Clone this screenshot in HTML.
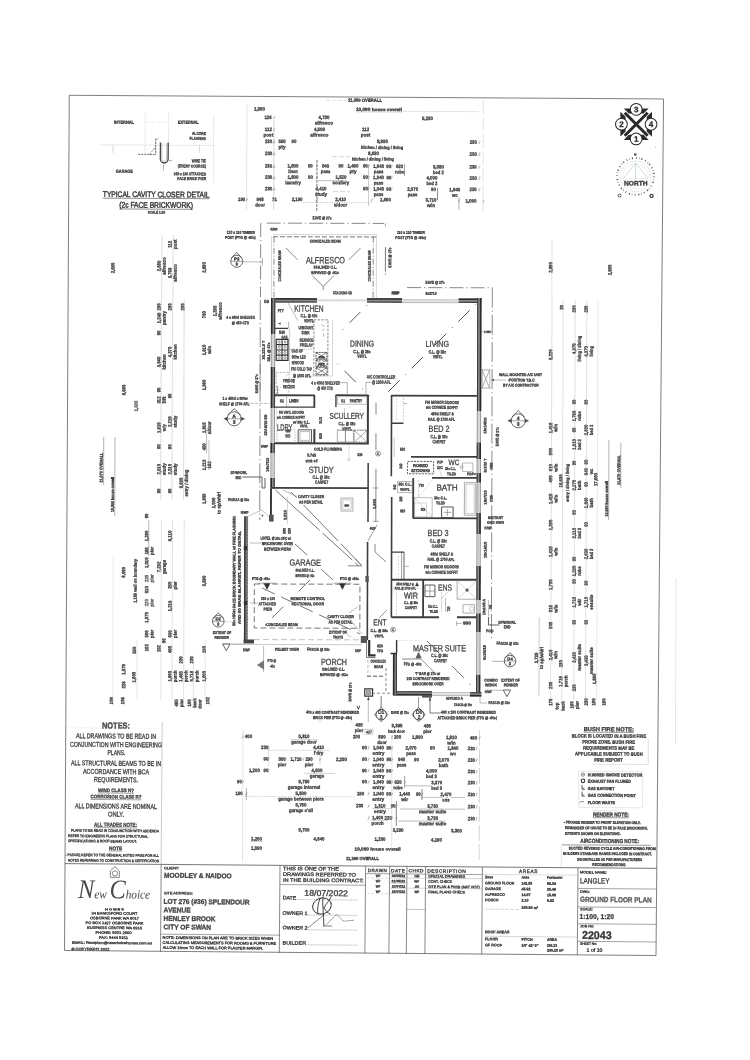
<!DOCTYPE html>
<html><head><meta charset="utf-8"><title>Ground Floor Plan</title>
<style>
html,body{margin:0;padding:0;background:#fff;}
body{width:750px;height:1060px;overflow:hidden;}
svg{display:block;font-family:"Liberation Sans",sans-serif;}
text{stroke:#3c3c3c;stroke-width:0.32px;}
.rm{stroke:#484848;stroke-width:0.32px;}
.lg{stroke:none;}
.hv{stroke:#444;stroke-width:0.5px;}
</style></head><body>
<svg width="750" height="1060" viewBox="0 0 750 1060">
<rect width="750" height="1060" fill="#fff"/>
<defs><filter id="sb" x="0" y="0" width="100%" height="100%" filterUnits="userSpaceOnUse"><feGaussianBlur stdDeviation="0.32"/></filter></defs>
<g filter="url(#sb)"><g transform="rotate(0.43 375.0 530.0)">
<polygon points="66,97.6 660.3,96.8 659.2,953.4 67.7,952.8" fill="none" stroke="#6a6a6a" stroke-width="0.85"/>
</g><g transform="rotate(0.46 375.0 530.0)">
<line x1="163.8" y1="723.7" x2="163.8" y2="865.7" stroke="#999" stroke-width="0.5"/>
<line x1="67.1" y1="730" x2="163.6" y2="730" stroke="#bbb" stroke-width="0.4" stroke-dasharray="1 2"/>
<text x="117.6" y="730.6" font-size="8.6" text-anchor="middle" fill="#4a4a4a" font-weight="bold" textLength="28" lengthAdjust="spacingAndGlyphs">NOTES:</text>
<text x="117.7" y="740.5" font-size="7" text-anchor="middle" fill="#4a4a4a" textLength="80" lengthAdjust="spacingAndGlyphs">ALL DRAWINGS TO BE READ IN</text>
<text x="117.8" y="749.1" font-size="7" text-anchor="middle" fill="#4a4a4a" textLength="92" lengthAdjust="spacingAndGlyphs">CONJUNCTION WITH ENGINEERING</text>
<text x="118.3" y="757.1" font-size="7" text-anchor="middle" fill="#4a4a4a" textLength="18" lengthAdjust="spacingAndGlyphs">PLANS.</text>
<text x="117.9" y="767.7" font-size="7" text-anchor="middle" fill="#4a4a4a" textLength="90" lengthAdjust="spacingAndGlyphs">ALL STRUCTURAL BEAMS TO BE IN</text>
<text x="118" y="776.1" font-size="7" text-anchor="middle" fill="#4a4a4a" textLength="66" lengthAdjust="spacingAndGlyphs">ACCORDANCE WITH BCA</text>
<text x="118" y="784.1" font-size="7" text-anchor="middle" fill="#4a4a4a" textLength="44" lengthAdjust="spacingAndGlyphs">REQUIREMENTS.</text>
<text x="118.1" y="794.1" font-size="5" text-anchor="middle" fill="#4a4a4a" font-weight="bold" textLength="36" lengthAdjust="spacingAndGlyphs">WIND CLASS N?</text>
<line x1="100.1" y1="795.2" x2="136.1" y2="795.2" stroke="#4a4a4a" stroke-width="0.5"/>
<text x="118.2" y="800.5" font-size="5" text-anchor="middle" fill="#4a4a4a" font-weight="bold" textLength="51" lengthAdjust="spacingAndGlyphs">CORROSION CLASS R?</text>
<line x1="92.7" y1="801.7" x2="143.7" y2="801.7" stroke="#4a4a4a" stroke-width="0.5"/>
<text x="118.2" y="810.7" font-size="7" text-anchor="middle" fill="#4a4a4a" textLength="82" lengthAdjust="spacingAndGlyphs">ALL DIMENSIONS ARE NOMINAL</text>
<text x="118.3" y="818.7" font-size="7" text-anchor="middle" fill="#4a4a4a" textLength="16" lengthAdjust="spacingAndGlyphs">ONLY.</text>
<text x="117.9" y="828.7" font-size="5.6" text-anchor="middle" fill="#4a4a4a" font-weight="bold" textLength="43" lengthAdjust="spacingAndGlyphs">ALL TRADES NOTE:</text>
<line x1="96.4" y1="829.9" x2="139.4" y2="829.9" stroke="#4a4a4a" stroke-width="0.5"/>
<text x="73.4" y="834" font-size="3.6" fill="#4a4a4a" textLength="88" lengthAdjust="spacingAndGlyphs">PLANS TO BE READ IN CONJUNCTION WITH ADDENDA</text>
<text x="70.5" y="839.5" font-size="3.6" fill="#4a4a4a" textLength="80" lengthAdjust="spacingAndGlyphs">REFER TO ENGINEERS PLANS FOR STRUCTURAL</text>
<text x="70.5" y="844.5" font-size="3.6" fill="#4a4a4a" textLength="69" lengthAdjust="spacingAndGlyphs">SPECIFICATIONS &amp; ROOF BEAMS LAYOUT.</text>
<text x="118.1" y="852.1" font-size="5" text-anchor="middle" fill="#4a4a4a" font-weight="bold" textLength="13" lengthAdjust="spacingAndGlyphs">NOTE</text>
<line x1="111.6" y1="853.1" x2="124.6" y2="853.1" stroke="#4a4a4a" stroke-width="0.5"/>
<text x="68.1" y="858.5" font-size="3.6" fill="#4a4a4a" textLength="93.5" lengthAdjust="spacingAndGlyphs">- PLEASE REFER TO THE GENERAL NOTES PAGE FOR ALL</text>
<text x="70.7" y="863.9" font-size="3.6" fill="#4a4a4a" textLength="91" lengthAdjust="spacingAndGlyphs">NOTES REFERRING TO CONSTRUCTION &amp; CERTIFICATION</text>
<line x1="67.7" y1="866.1" x2="659.5" y2="866.1" stroke="#555" stroke-width="0.8"/>
<line x1="163.9" y1="866.4" x2="163.9" y2="953.7" stroke="#555" stroke-width="0.7"/>
<line x1="282.7" y1="866.4" x2="282.7" y2="953.7" stroke="#555" stroke-width="0.7"/>
<line x1="368.3" y1="866.3" x2="368.3" y2="953.6" stroke="#555" stroke-width="0.7"/>
<line x1="392.3" y1="866.3" x2="392.3" y2="953.6" stroke="#555" stroke-width="0.7"/>
<line x1="409.7" y1="866.3" x2="409.7" y2="953.6" stroke="#555" stroke-width="0.7"/>
<line x1="428.3" y1="866.3" x2="428.3" y2="953.6" stroke="#555" stroke-width="0.7"/>
<line x1="485.1" y1="866.3" x2="485.1" y2="953.6" stroke="#555" stroke-width="0.7"/>
<line x1="580.7" y1="866.2" x2="580.7" y2="953.5" stroke="#555" stroke-width="0.7"/>
<text x="117.6" y="916.7" font-size="3.6" text-anchor="middle" fill="#4a4a4a" textLength="46" lengthAdjust="spacingAndGlyphs">34 BANKSFORD COURT</text>
<text x="117.6" y="921.5" font-size="3.6" text-anchor="middle" fill="#4a4a4a" textLength="49" lengthAdjust="spacingAndGlyphs">OSBORNE PARK WA 6017</text>
<text x="117.7" y="926.3" font-size="3.6" text-anchor="middle" fill="#4a4a4a" textLength="58" lengthAdjust="spacingAndGlyphs">PO BOX 1427 OSBORNE PARK</text>
<text x="117.7" y="931.1" font-size="3.6" text-anchor="middle" fill="#4a4a4a" textLength="55" lengthAdjust="spacingAndGlyphs">BUSINESS CENTRE WA 6916</text>
<text x="116.8" y="935.9" font-size="3.6" text-anchor="middle" fill="#4a4a4a" textLength="36" lengthAdjust="spacingAndGlyphs">PHONE: 9201 2900</text>
<text x="116.8" y="940.9" font-size="3.6" text-anchor="middle" fill="#4a4a4a" textLength="29" lengthAdjust="spacingAndGlyphs">FAX: 9444 5151</text>
<text x="115.3" y="946.1" font-size="3.6" text-anchor="middle" fill="#4a4a4a" textLength="80" lengthAdjust="spacingAndGlyphs">EMAIL: Reception@newchoicehomes.com.au</text>
<text x="74.9" y="952.6" font-size="3.6" fill="#4a4a4a" textLength="38" lengthAdjust="spacingAndGlyphs">© COPYRIGHT 2022</text>
<text x="117.6" y="912.3" font-size="2.6" text-anchor="middle" fill="#555" font-weight="bold" textLength="19" lengthAdjust="spacingAndGlyphs">H O M E S</text>
<text x="81" y="900.4" font-family="'Liberation Serif',serif" font-style="italic" fill="#484848" class="lg" textLength="72" lengthAdjust="spacingAndGlyphs"><tspan font-size="27">N</tspan><tspan font-size="12.5">ew </tspan><tspan font-size="27">C</tspan><tspan font-size="12.5">hoice</tspan></text>
<polygon points="113.1,873.1 117.6,868.7 122.1,873 122.2,879.4 113.2,879.5" fill="none" stroke="#555" stroke-width="0.7"/>
<circle cx="117.7" cy="875.5" r="2.6" fill="none" stroke="#555" stroke-width="0.7"/>
<text x="166.7" y="870.9" font-size="3.4" fill="#4a4a4a" textLength="15" lengthAdjust="spacingAndGlyphs">CLIENT:</text>
<text x="166.8" y="879.4" font-size="7" fill="#4a4a4a" font-weight="bold" textLength="67.6" lengthAdjust="spacingAndGlyphs">MOODLEY &amp; NAIDOO</text>
<text x="166.9" y="895.9" font-size="3.4" fill="#4a4a4a" textLength="29" lengthAdjust="spacingAndGlyphs">SITE ADDRESS:</text>
<text x="166.6" y="905.5" font-size="7" fill="#4a4a4a" font-weight="bold" textLength="86" lengthAdjust="spacingAndGlyphs">LOT 276 (#36) SPLENDOUR</text>
<text x="166.7" y="914" font-size="7" fill="#4a4a4a" font-weight="bold" textLength="27" lengthAdjust="spacingAndGlyphs">AVENUE</text>
<text x="166.7" y="922.5" font-size="7" fill="#4a4a4a" font-weight="bold" textLength="52" lengthAdjust="spacingAndGlyphs">HENLEY BROOK</text>
<text x="166.8" y="931" font-size="7" fill="#4a4a4a" font-weight="bold" textLength="47.5" lengthAdjust="spacingAndGlyphs">CITY OF SWAN</text>
<line x1="164.5" y1="935.9" x2="283.3" y2="935.9" stroke="#666" stroke-width="0.6"/>
<text x="165.9" y="940.5" font-size="3.7" fill="#4a4a4a" textLength="110.5" lengthAdjust="spacingAndGlyphs">NOTE: DIMENSIONS ON PLAN ARE TO BRICK SIZES WHEN</text>
<text x="165.9" y="945.5" font-size="3.7" fill="#4a4a4a" textLength="113.5" lengthAdjust="spacingAndGlyphs">CALCULATING MEASUREMENTS FOR ROOMS &amp; FURNITURE</text>
<text x="166" y="950.5" font-size="3.7" fill="#4a4a4a" textLength="100.5" lengthAdjust="spacingAndGlyphs">ALLOW 16mm TO EACH WALL FOR PLASTER MARGIN.</text>
<text x="285.7" y="870.9" font-size="5" fill="#4a4a4a" textLength="56" lengthAdjust="spacingAndGlyphs">THIS IS ONE OF THE</text>
<text x="285.8" y="876.6" font-size="5" fill="#4a4a4a" textLength="73" lengthAdjust="spacingAndGlyphs">DRAWINGS REFERRED TO</text>
<text x="285.8" y="882.4" font-size="5" fill="#4a4a4a" textLength="80.6" lengthAdjust="spacingAndGlyphs">IN THE BUILDING CONTRACT:</text>
<line x1="282.8" y1="885.3" x2="368.4" y2="885.3" stroke="#666" stroke-width="0.6"/>
<text x="285.6" y="900.1" font-size="5" fill="#4a4a4a" textLength="13.5" lengthAdjust="spacingAndGlyphs">DATE</text>
<line x1="299.5" y1="900.2" x2="361" y2="900.2" stroke="#777" stroke-width="0.5" stroke-dasharray="1 0.6"/>
<text x="307.3" y="896.4" font-size="8.4" fill="#333" textLength="43.6" lengthAdjust="spacingAndGlyphs">18/07/2022</text>
<text x="285.7" y="915.5" font-size="5" fill="#4a4a4a" textLength="25" lengthAdjust="spacingAndGlyphs">OWNER 1</text>
<line x1="311.1" y1="915.5" x2="361.1" y2="915.5" stroke="#777" stroke-width="0.5" stroke-dasharray="1 0.6"/>
<text x="285.8" y="930.1" font-size="5" fill="#4a4a4a" textLength="25" lengthAdjust="spacingAndGlyphs">OWNER 2</text>
<line x1="311.2" y1="930.3" x2="361.2" y2="930.3" stroke="#777" stroke-width="0.5" stroke-dasharray="1 0.6"/>
<text x="285.9" y="945.3" font-size="5" fill="#4a4a4a" textLength="23.5" lengthAdjust="spacingAndGlyphs">BUILDER</text>
<line x1="309.8" y1="945.3" x2="361.3" y2="945.3" stroke="#777" stroke-width="0.5" stroke-dasharray="1 0.6"/>
<g transform="translate(325 906.4)" fill="none" stroke="#333" stroke-width="0.9" stroke-linecap="round"><ellipse cx="0" cy="0" rx="9.5" ry="8" transform="rotate(-20)"/><path d="M-2,-8 C-4,-2 -5,4 -4,8 M1,-9 C0,-2 2,8 2,20 M2,2 C5,-4 8,-6 9,-9 M2,2 C4,5 6,7 8,8"/><path d="M2,9 L-14,22 M2,20 L10,20" stroke-width="0.6"/><path d="M4,19 L14,9 C17,8 19,14 22,15 L32,14" stroke-width="0.5" stroke-dasharray="2 1.2"/></g>
<line x1="368.4" y1="873.7" x2="485.2" y2="873.7" stroke="#666" stroke-width="0.6"/>
<text x="380.3" y="872" font-size="4.6" text-anchor="middle" fill="#4a4a4a" letter-spacing="0.5" textLength="19.5" lengthAdjust="spacingAndGlyphs">DRAWN</text>
<text x="401" y="872" font-size="4.6" text-anchor="middle" fill="#4a4a4a" letter-spacing="0.5" textLength="14.5" lengthAdjust="spacingAndGlyphs">DATE</text>
<text x="419" y="872" font-size="4.6" text-anchor="middle" fill="#4a4a4a" letter-spacing="0.5" textLength="15.5" lengthAdjust="spacingAndGlyphs">CHKD</text>
<text x="430" y="872.1" font-size="4.6" fill="#4a4a4a" letter-spacing="0.5" textLength="39" lengthAdjust="spacingAndGlyphs">DESCRIPTION</text>
<text x="380.8" y="877" font-size="3.4" text-anchor="middle" fill="#4a4a4a" font-weight="bold" textLength="4.5" lengthAdjust="spacingAndGlyphs">WF</text>
<text x="401.2" y="876.9" font-size="3.4" text-anchor="middle" fill="#4a4a4a" font-weight="bold" textLength="13.5" lengthAdjust="spacingAndGlyphs">04/05/22</text>
<text x="419.6" y="876.9" font-size="3.4" text-anchor="middle" fill="#4a4a4a" font-weight="bold" textLength="4.8" lengthAdjust="spacingAndGlyphs">HM</text>
<text x="431" y="877" font-size="3.6" fill="#4a4a4a" textLength="37" lengthAdjust="spacingAndGlyphs">SPECIAL DRAWINGS</text>
<text x="380.8" y="882.2" font-size="3.4" text-anchor="middle" fill="#4a4a4a" font-weight="bold" textLength="4.5" lengthAdjust="spacingAndGlyphs">WF</text>
<text x="401.2" y="882.1" font-size="3.4" text-anchor="middle" fill="#4a4a4a" font-weight="bold" textLength="13.5" lengthAdjust="spacingAndGlyphs">31/05/22</text>
<text x="419.6" y="882.1" font-size="3.4" text-anchor="middle" fill="#4a4a4a" font-weight="bold" textLength="4.8" lengthAdjust="spacingAndGlyphs">WF</text>
<text x="431" y="882.2" font-size="3.6" fill="#4a4a4a" textLength="24" lengthAdjust="spacingAndGlyphs">CONT. CHECK</text>
<text x="380.9" y="887.5" font-size="3.4" text-anchor="middle" fill="#4a4a4a" font-weight="bold" textLength="4.5" lengthAdjust="spacingAndGlyphs">WF</text>
<text x="401.3" y="887.4" font-size="3.4" text-anchor="middle" fill="#4a4a4a" font-weight="bold" textLength="13.5" lengthAdjust="spacingAndGlyphs">10/07/22</text>
<text x="419.7" y="887.4" font-size="3.4" text-anchor="middle" fill="#4a4a4a" font-weight="bold" textLength="4.8" lengthAdjust="spacingAndGlyphs">JK</text>
<text x="431.1" y="887.5" font-size="3.6" fill="#4a4a4a" textLength="51.5" lengthAdjust="spacingAndGlyphs">SITE PLAN &amp; PRSB (MAT VIS?)</text>
<text x="380.9" y="892.7" font-size="3.4" text-anchor="middle" fill="#4a4a4a" font-weight="bold" textLength="4.5" lengthAdjust="spacingAndGlyphs">WF</text>
<text x="401.3" y="892.6" font-size="3.4" text-anchor="middle" fill="#4a4a4a" font-weight="bold" textLength="13.5" lengthAdjust="spacingAndGlyphs">15/07/22</text>
<text x="419.7" y="892.6" font-size="3.4" text-anchor="middle" fill="#4a4a4a" font-weight="bold" textLength="4.8" lengthAdjust="spacingAndGlyphs">WF</text>
<text x="431.1" y="892.7" font-size="3.6" fill="#4a4a4a" textLength="37" lengthAdjust="spacingAndGlyphs">FINAL PLANS CHECK</text>
<line x1="369.8" y1="878.1" x2="391.8" y2="878.1" stroke="#aaa" stroke-width="0.4" stroke-dasharray="3 1.5"/>
<line x1="369.9" y1="893.7" x2="391.9" y2="893.7" stroke="#aaa" stroke-width="0.4" stroke-dasharray="3 1.5"/>
<line x1="410" y1="909.1" x2="428.6" y2="909.1" stroke="#888" stroke-width="0.5"/>
<line x1="428.8" y1="877.8" x2="484.8" y2="877.8" stroke="#888" stroke-width="0.4"/>
<line x1="428.9" y1="888" x2="484.9" y2="888" stroke="#999" stroke-width="0.4"/>
<line x1="410.8" y1="877.9" x2="427.8" y2="877.9" stroke="#999" stroke-width="0.4"/>
<line x1="410.9" y1="887.9" x2="427.9" y2="887.9" stroke="#999" stroke-width="0.4"/>
<line x1="392.8" y1="877.9" x2="409.8" y2="877.9" stroke="#999" stroke-width="0.4"/>
<line x1="392.8" y1="883.1" x2="409.8" y2="883.1" stroke="#999" stroke-width="0.4"/>
<line x1="392.9" y1="888.1" x2="409.9" y2="888.1" stroke="#999" stroke-width="0.4"/>
<line x1="392.9" y1="893.3" x2="409.9" y2="893.3" stroke="#999" stroke-width="0.4"/>
<text x="531.2" y="871.8" font-size="5" text-anchor="middle" fill="#4a4a4a" letter-spacing="0.6" textLength="19" lengthAdjust="spacingAndGlyphs">AREAS</text>
<line x1="485.2" y1="873.5" x2="580.8" y2="873.5" stroke="#aaa" stroke-width="0.4"/>
<text x="487.8" y="877.3" font-size="3.6" fill="#4a4a4a" font-weight="bold" textLength="8" lengthAdjust="spacingAndGlyphs">Zone</text>
<text x="524.4" y="877.3" font-size="3.6" fill="#4a4a4a" font-weight="bold" textLength="7.5" lengthAdjust="spacingAndGlyphs">Area</text>
<text x="549.8" y="877.3" font-size="3.6" fill="#4a4a4a" font-weight="bold" textLength="15.5" lengthAdjust="spacingAndGlyphs">Perimeter</text>
<text x="487.8" y="883.3" font-size="3.6" fill="#4a4a4a" textLength="29.5" lengthAdjust="spacingAndGlyphs">GROUND FLOOR</text>
<text x="524.4" y="883.3" font-size="3.6" fill="#4a4a4a" font-weight="bold" textLength="10.5" lengthAdjust="spacingAndGlyphs">142.85</text>
<text x="549.8" y="883.3" font-size="3.6" fill="#4a4a4a" font-weight="bold" textLength="9" lengthAdjust="spacingAndGlyphs">58.34</text>
<text x="487.9" y="889" font-size="3.6" fill="#4a4a4a" textLength="16" lengthAdjust="spacingAndGlyphs">GARAGE</text>
<text x="524.5" y="889" font-size="3.6" fill="#4a4a4a" font-weight="bold" textLength="9" lengthAdjust="spacingAndGlyphs">45.92</text>
<text x="549.9" y="889" font-size="3.6" fill="#4a4a4a" font-weight="bold" textLength="9" lengthAdjust="spacingAndGlyphs">26.48</text>
<text x="487.9" y="894.8" font-size="3.6" fill="#4a4a4a" textLength="20" lengthAdjust="spacingAndGlyphs">ALFRESCO</text>
<text x="524.5" y="894.8" font-size="3.6" fill="#4a4a4a" font-weight="bold" textLength="9" lengthAdjust="spacingAndGlyphs">14.97</text>
<text x="549.9" y="894.8" font-size="3.6" fill="#4a4a4a" font-weight="bold" textLength="9" lengthAdjust="spacingAndGlyphs">15.98</text>
<text x="488" y="900.4" font-size="3.6" fill="#4a4a4a" textLength="13.5" lengthAdjust="spacingAndGlyphs">PORCH</text>
<text x="524.6" y="900.4" font-size="3.6" fill="#4a4a4a" font-weight="bold" textLength="7" lengthAdjust="spacingAndGlyphs">2.10</text>
<text x="550" y="900.4" font-size="3.6" fill="#4a4a4a" font-weight="bold" textLength="7" lengthAdjust="spacingAndGlyphs">5.82</text>
<line x1="488" y1="908.3" x2="522" y2="908.3" stroke="#999" stroke-width="0.4" stroke-dasharray="4 1"/>
<text x="524.6" y="907.6" font-size="3.6" fill="#4a4a4a" font-weight="bold" textLength="16.5" lengthAdjust="spacingAndGlyphs">205.84 m²</text>
<text x="488.2" y="932.3" font-size="3.8" fill="#4a4a4a" font-weight="bold" textLength="24.5" lengthAdjust="spacingAndGlyphs">ROOF AREAS</text>
<line x1="488.3" y1="935.4" x2="581.3" y2="935.4" stroke="#999" stroke-width="0.4"/>
<text x="488.3" y="939.4" font-size="3.6" fill="#4a4a4a" font-weight="bold" textLength="13" lengthAdjust="spacingAndGlyphs">FLOOR</text>
<text x="524.9" y="939.4" font-size="3.6" fill="#4a4a4a" font-weight="bold" textLength="11" lengthAdjust="spacingAndGlyphs">PITCH</text>
<text x="550.3" y="939.4" font-size="3.6" fill="#4a4a4a" font-weight="bold" textLength="10" lengthAdjust="spacingAndGlyphs">AREA</text>
<text x="488.3" y="945.4" font-size="3.6" fill="#4a4a4a" textLength="17" lengthAdjust="spacingAndGlyphs">GF ROOF</text>
<text x="524.9" y="945.4" font-size="3.6" fill="#4a4a4a" font-weight="bold" textLength="17" lengthAdjust="spacingAndGlyphs">24° 42&#x27; 0&quot;</text>
<text x="550.3" y="945.4" font-size="3.6" fill="#4a4a4a" font-weight="bold" textLength="10" lengthAdjust="spacingAndGlyphs">236.23</text>
<text x="550.4" y="950" font-size="3.6" fill="#4a4a4a" font-weight="bold" textLength="16.5" lengthAdjust="spacingAndGlyphs">236.23 m²</text>
<line x1="580.9" y1="886.8" x2="659.3" y2="886.8" stroke="#666" stroke-width="0.6"/>
<line x1="581" y1="905.3" x2="659.3" y2="905.3" stroke="#666" stroke-width="0.6"/>
<line x1="581.2" y1="922.1" x2="659.4" y2="922.1" stroke="#666" stroke-width="0.6"/>
<line x1="581.3" y1="939.7" x2="659.4" y2="939.7" stroke="#666" stroke-width="0.6"/>
<text x="582.8" y="871.7" font-size="3.4" fill="#4a4a4a" textLength="27" lengthAdjust="spacingAndGlyphs">MODEL NAME:</text>
<text x="582.8" y="881.7" font-size="7.6" fill="#444" textLength="29.6" lengthAdjust="spacingAndGlyphs">LANGLEY</text>
<text x="582.9" y="891.2" font-size="3.4" fill="#4a4a4a" textLength="10" lengthAdjust="spacingAndGlyphs">DWG:</text>
<text x="583" y="900.2" font-size="7.4" fill="#444" font-weight="bold" textLength="71.6" lengthAdjust="spacingAndGlyphs" opacity="0.85">GROUND FLOOR PLAN</text>
<text x="583" y="908.6" font-size="3.4" fill="#4a4a4a" textLength="13" lengthAdjust="spacingAndGlyphs">SCALE:</text>
<text x="582.7" y="917.2" font-size="7" fill="#444" font-weight="bold" textLength="34.4" lengthAdjust="spacingAndGlyphs">1:100, 1:20</text>
<text x="583.2" y="925.6" font-size="3.4" fill="#4a4a4a" textLength="14" lengthAdjust="spacingAndGlyphs">JOB No:</text>
<text x="585.3" y="937.2" font-size="11.2" fill="#333" font-weight="bold" textLength="29.6" lengthAdjust="spacingAndGlyphs">22043</text>
<text x="583.3" y="943" font-size="3.4" fill="#4a4a4a" textLength="17" lengthAdjust="spacingAndGlyphs">SHEET No:</text>
<text x="590" y="950" font-size="5" fill="#444" textLength="15.8" lengthAdjust="spacingAndGlyphs">1 of 10</text>
</g><g transform="rotate(0.15 375.0 530.0)">
<rect x="270.4" y="298.3" width="46" height="4.4" fill="#8c8c8c"/>
<rect x="270.4" y="298.3" width="46" height="1.6" fill="#2a2a2a"/>
<rect x="270.4" y="301.6" width="46" height="1.1" fill="#3a3a3a"/>
<rect x="366.4" y="298.2" width="35" height="4.4" fill="#8c8c8c"/>
<rect x="366.4" y="298.2" width="35" height="1.6" fill="#2a2a2a"/>
<rect x="366.4" y="301.5" width="35" height="1.1" fill="#3a3a3a"/>
<rect x="458" y="298.2" width="22.8" height="4.4" fill="#8c8c8c"/>
<rect x="458" y="298.2" width="22.8" height="1.6" fill="#2a2a2a"/>
<rect x="458" y="301.5" width="22.8" height="1.1" fill="#3a3a3a"/>
<line x1="316.4" y1="300.8" x2="366.4" y2="300.8" stroke="#999" stroke-width="0.5"/>
<line x1="316.4" y1="299.5" x2="366.4" y2="299.5" stroke="#bbb" stroke-width="0.4"/>
<line x1="401.4" y1="299.7" x2="458" y2="299.7" stroke="#888" stroke-width="0.6"/>
<line x1="401.4" y1="302.5" x2="458" y2="302.5" stroke="#888" stroke-width="0.6"/>
<line x1="401.4" y1="301.1" x2="458" y2="301.1" stroke="#aaa" stroke-width="0.5"/>
<rect x="270.4" y="298.3" width="4.3" height="36" fill="#8c8c8c"/>
<rect x="270.4" y="298.3" width="1.6" height="36" fill="#2a2a2a"/>
<rect x="273.6" y="298.3" width="1.1" height="36" fill="#3a3a3a"/>
<rect x="270.4" y="366.9" width="4.3" height="41.7" fill="#8c8c8c"/>
<rect x="270.4" y="366.9" width="1.6" height="41.7" fill="#2a2a2a"/>
<rect x="273.6" y="366.9" width="1.1" height="41.7" fill="#3a3a3a"/>
<rect x="270.3" y="443" width="4.3" height="10.3" fill="#8c8c8c"/>
<rect x="270.3" y="443" width="1.6" height="10.3" fill="#2a2a2a"/>
<rect x="273.5" y="443" width="1.1" height="10.3" fill="#3a3a3a"/>
<rect x="270.3" y="477.9" width="4.3" height="10.9" fill="#8c8c8c"/>
<rect x="270.3" y="477.9" width="1.6" height="10.9" fill="#2a2a2a"/>
<rect x="273.5" y="477.9" width="1.1" height="10.9" fill="#3a3a3a"/>
<rect x="270.4" y="334.3" width="4.3" height="32.6" fill="#e4e4e4"/>
<line x1="270.9" y1="334.3" x2="270.9" y2="366.9" stroke="#777" stroke-width="0.7"/>
<line x1="274.2" y1="334.3" x2="274.2" y2="366.9" stroke="#777" stroke-width="0.7"/>
<line x1="272.5" y1="334.3" x2="272.5" y2="366.9" stroke="#aaa" stroke-width="0.5"/>
<rect x="270.4" y="408.6" width="4.3" height="34.4" fill="#e4e4e4"/>
<line x1="270.9" y1="408.6" x2="270.9" y2="443" stroke="#777" stroke-width="0.7"/>
<line x1="274.2" y1="408.6" x2="274.2" y2="443" stroke="#777" stroke-width="0.7"/>
<line x1="272.5" y1="408.6" x2="272.5" y2="443" stroke="#aaa" stroke-width="0.5"/>
<rect x="270.3" y="453.3" width="4.3" height="24.6" fill="#e4e4e4"/>
<line x1="270.8" y1="453.3" x2="270.8" y2="477.9" stroke="#777" stroke-width="0.7"/>
<line x1="274.1" y1="453.3" x2="274.1" y2="477.9" stroke="#777" stroke-width="0.7"/>
<line x1="272.5" y1="453.3" x2="272.5" y2="477.9" stroke="#aaa" stroke-width="0.5"/>
<line x1="270.9" y1="488.8" x2="270.9" y2="516.3" stroke="#333" stroke-width="1.9"/>
<rect x="269" y="514.9" width="4.6" height="7" fill="#555"/>
<rect x="244.2" y="516.7" width="3.6" height="126.6" fill="#777"/>
<line x1="244.9" y1="516.7" x2="244.9" y2="643.3" stroke="#333" stroke-width="1.3"/>
<line x1="247.6" y1="516.7" x2="247.6" y2="643.3" stroke="#555" stroke-width="0.7" stroke-dasharray="2 1"/>
<rect x="243.9" y="639.8" width="10.4" height="4" fill="#444"/>
<rect x="476.6" y="297.7" width="4.3" height="113.6" fill="#8c8c8c"/>
<rect x="479.3" y="297.7" width="1.6" height="113.6" fill="#2a2a2a"/>
<rect x="476.6" y="297.7" width="1.1" height="113.6" fill="#3a3a3a"/>
<rect x="476.5" y="441.9" width="4.3" height="17.2" fill="#8c8c8c"/>
<rect x="479.2" y="441.9" width="1.6" height="17.2" fill="#2a2a2a"/>
<rect x="476.5" y="441.9" width="1.1" height="17.2" fill="#3a3a3a"/>
<rect x="476.5" y="472.6" width="4.3" height="9.8" fill="#8c8c8c"/>
<rect x="479.2" y="472.6" width="1.6" height="9.8" fill="#2a2a2a"/>
<rect x="476.5" y="472.6" width="1.1" height="9.8" fill="#3a3a3a"/>
<rect x="476.5" y="512.4" width="4.3" height="21.3" fill="#8c8c8c"/>
<rect x="479.2" y="512.4" width="1.6" height="21.3" fill="#2a2a2a"/>
<rect x="476.5" y="512.4" width="1.1" height="21.3" fill="#3a3a3a"/>
<rect x="476.5" y="565.7" width="4.3" height="34" fill="#8c8c8c"/>
<rect x="479.2" y="565.7" width="1.6" height="34" fill="#2a2a2a"/>
<rect x="476.5" y="565.7" width="1.1" height="34" fill="#3a3a3a"/>
<rect x="476.5" y="613" width="4.3" height="19" fill="#8c8c8c"/>
<rect x="479.2" y="613" width="1.6" height="19" fill="#2a2a2a"/>
<rect x="476.5" y="613" width="1.1" height="19" fill="#3a3a3a"/>
<rect x="476.4" y="674.3" width="4.3" height="20.8" fill="#8c8c8c"/>
<rect x="479.1" y="674.3" width="1.6" height="20.8" fill="#2a2a2a"/>
<rect x="476.4" y="674.3" width="1.1" height="20.8" fill="#3a3a3a"/>
<rect x="476.5" y="411.3" width="4.3" height="30.6" fill="#e4e4e4"/>
<line x1="477" y1="411.3" x2="477" y2="441.9" stroke="#777" stroke-width="0.7"/>
<line x1="480.3" y1="411.3" x2="480.3" y2="441.9" stroke="#777" stroke-width="0.7"/>
<line x1="478.7" y1="411.3" x2="478.7" y2="441.9" stroke="#aaa" stroke-width="0.5"/>
<rect x="476.5" y="459.1" width="4.3" height="13.5" fill="#e4e4e4"/>
<line x1="477" y1="459.1" x2="477" y2="472.6" stroke="#777" stroke-width="0.7"/>
<line x1="480.3" y1="459.1" x2="480.3" y2="472.6" stroke="#777" stroke-width="0.7"/>
<line x1="478.7" y1="459.1" x2="478.7" y2="472.6" stroke="#aaa" stroke-width="0.5"/>
<rect x="476.5" y="482.4" width="4.3" height="30" fill="#e4e4e4"/>
<line x1="477" y1="482.4" x2="477" y2="512.4" stroke="#777" stroke-width="0.7"/>
<line x1="480.3" y1="482.4" x2="480.3" y2="512.4" stroke="#777" stroke-width="0.7"/>
<line x1="478.7" y1="482.4" x2="478.7" y2="512.4" stroke="#aaa" stroke-width="0.5"/>
<rect x="476.5" y="533.7" width="4.3" height="32" fill="#e4e4e4"/>
<line x1="477" y1="533.7" x2="477" y2="565.7" stroke="#777" stroke-width="0.7"/>
<line x1="480.3" y1="533.7" x2="480.3" y2="565.7" stroke="#777" stroke-width="0.7"/>
<line x1="478.7" y1="533.7" x2="478.7" y2="565.7" stroke="#aaa" stroke-width="0.5"/>
<rect x="476.5" y="599.7" width="4.3" height="13.3" fill="#e4e4e4"/>
<line x1="477" y1="599.7" x2="477" y2="613" stroke="#777" stroke-width="0.7"/>
<line x1="480.3" y1="599.7" x2="480.3" y2="613" stroke="#777" stroke-width="0.7"/>
<line x1="478.6" y1="599.7" x2="478.6" y2="613" stroke="#aaa" stroke-width="0.5"/>
<rect x="476.5" y="632" width="4.3" height="42.3" fill="#e4e4e4"/>
<line x1="477" y1="632" x2="477" y2="674.3" stroke="#777" stroke-width="0.7"/>
<line x1="480.3" y1="632" x2="480.3" y2="674.3" stroke="#777" stroke-width="0.7"/>
<line x1="478.6" y1="632" x2="478.6" y2="674.3" stroke="#aaa" stroke-width="0.5"/>
<rect x="393.4" y="691.2" width="39" height="4.2" fill="#8c8c8c"/>
<rect x="393.4" y="693.8" width="39" height="1.6" fill="#2a2a2a"/>
<rect x="393.4" y="691.2" width="39" height="1.1" fill="#3a3a3a"/>
<rect x="470.4" y="692" width="11.4" height="4.2" fill="#8c8c8c"/>
<rect x="470.4" y="694.6" width="11.4" height="1.6" fill="#2a2a2a"/>
<rect x="470.4" y="692" width="11.4" height="1.1" fill="#3a3a3a"/>
<line x1="432.4" y1="692.5" x2="470.4" y2="692.5" stroke="#888" stroke-width="0.6"/>
<line x1="432.4" y1="695.3" x2="470.4" y2="695.3" stroke="#888" stroke-width="0.6"/>
<line x1="432.4" y1="693.9" x2="470.4" y2="693.9" stroke="#aaa" stroke-width="0.5"/>
<rect x="422.4" y="694.9" width="10" height="2.6" fill="#555"/>
<rect x="393.3" y="653" width="4" height="42" fill="#8c8c8c"/>
<rect x="393.3" y="653" width="1.6" height="42" fill="#2a2a2a"/>
<rect x="396.2" y="652.9" width="1.1" height="42" fill="#3a3a3a"/>
<rect x="390.8" y="652.6" width="6.5" height="1.6" fill="#333"/>
<line x1="396.9" y1="639.9" x2="396.9" y2="652.9" stroke="#3a3a3a" stroke-width="1.4"/>
<line x1="367.6" y1="542" x2="367.6" y2="640" stroke="#3c3c3c" stroke-width="1.6"/>
<rect x="361.1" y="636" width="6" height="7" fill="#555"/>
<polyline points="369.5,640 369.5,655.4 375.9,655.4" fill="none" stroke="#333" stroke-width="2.2"/>
<polyline points="366.9,640 366.9,657.6 375.9,657.6" fill="none" stroke="#555" stroke-width="0.8"/>
<rect x="365.2" y="688.8" width="7.8" height="7.4" fill="#fff" stroke="#333" stroke-width="1.2"/>
<rect x="367" y="690.6" width="4.2" height="3.8" fill="#aaa" stroke="#555" stroke-width="0.5"/>
<line x1="274.1" y1="328.6" x2="287.5" y2="328.6" stroke="#3c3c3c" stroke-width="1.4"/>
<line x1="274.2" y1="395.5" x2="314.2" y2="395.5" stroke="#3c3c3c" stroke-width="1.8"/>
<line x1="314" y1="395.2" x2="314" y2="407.6" stroke="#3c3c3c" stroke-width="1.8"/>
<line x1="314.1" y1="429.2" x2="314.1" y2="443.2" stroke="#3c3c3c" stroke-width="2.0"/>
<line x1="274.3" y1="407.3" x2="314.9" y2="407.3" stroke="#3c3c3c" stroke-width="1.3"/>
<line x1="335.2" y1="395.3" x2="368.2" y2="395.3" stroke="#3c3c3c" stroke-width="1.8"/>
<line x1="335.6" y1="395.1" x2="335.6" y2="407.1" stroke="#3c3c3c" stroke-width="1.4"/>
<line x1="367.6" y1="395" x2="367.6" y2="443.6" stroke="#3c3c3c" stroke-width="2.0"/>
<line x1="274.4" y1="443.5" x2="368.6" y2="443.5" stroke="#3c3c3c" stroke-width="2.0"/>
<line x1="270.9" y1="488.1" x2="368.3" y2="488.1" stroke="#3c3c3c" stroke-width="1.8"/>
<line x1="368" y1="463" x2="368" y2="522" stroke="#3c3c3c" stroke-width="1.5"/>
<line x1="391" y1="395.6" x2="476.6" y2="395.6" stroke="#3c3c3c" stroke-width="1.8"/>
<line x1="391.2" y1="395" x2="391.2" y2="476.3" stroke="#3c3c3c" stroke-width="1.6"/>
<line x1="391.1" y1="423.2" x2="403.1" y2="423.2" stroke="#3c3c3c" stroke-width="1.4"/>
<line x1="410.8" y1="456.7" x2="476.8" y2="456.7" stroke="#3c3c3c" stroke-width="1.8"/>
<line x1="431.9" y1="477.7" x2="476.9" y2="477.7" stroke="#3c3c3c" stroke-width="1.8"/>
<line x1="413.1" y1="477.9" x2="413.1" y2="518.5" stroke="#3c3c3c" stroke-width="1.8"/>
<line x1="413" y1="518.1" x2="477" y2="518.1" stroke="#3c3c3c" stroke-width="1.8"/>
<line x1="391.6" y1="497" x2="391.6" y2="617.4" stroke="#3c3c3c" stroke-width="1.6"/>
<line x1="391.7" y1="552" x2="404.1" y2="552" stroke="#3c3c3c" stroke-width="1.3"/>
<line x1="404.1" y1="551.9" x2="404.1" y2="578.9" stroke="#3c3c3c" stroke-width="0.8"/>
<line x1="401.7" y1="551.9" x2="401.7" y2="578.9" stroke="#3c3c3c" stroke-width="0.5"/>
<line x1="391.7" y1="579.6" x2="477.1" y2="579.6" stroke="#3c3c3c" stroke-width="2.0"/>
<line x1="423.3" y1="579.5" x2="423.3" y2="617.3" stroke="#3c3c3c" stroke-width="1.8"/>
<line x1="391.8" y1="617.2" x2="439.2" y2="617.2" stroke="#3c3c3c" stroke-width="2.0"/>
<line x1="457.2" y1="617" x2="477.2" y2="617" stroke="#3c3c3c" stroke-width="2.0"/>
<text x="293.8" y="311.8" font-size="9" fill="#484848" class="rm" textLength="29.2" lengthAdjust="spacingAndGlyphs">KITCHEN</text>
<text x="299.9" y="317.4" font-size="4.636" fill="#444" font-weight="bold" textLength="17" lengthAdjust="spacingAndGlyphs">C.L. @ 40c</text>
<text x="303.5" y="322.4" font-size="4.636" fill="#444" font-weight="bold" textLength="10" lengthAdjust="spacingAndGlyphs">VINYL</text>
<text x="298" y="329.4" font-size="4.636" fill="#444" font-weight="bold" textLength="15" lengthAdjust="spacingAndGlyphs">U/MOUNT</text>
<text x="301.1" y="334.4" font-size="4.636" fill="#444" font-weight="bold" textLength="8" lengthAdjust="spacingAndGlyphs">SINK</text>
<text x="298.9" y="342" font-size="4.636" fill="#444" font-weight="bold" textLength="14" lengthAdjust="spacingAndGlyphs">SERVICE</text>
<text x="299.4" y="346.8" font-size="4.636" fill="#444" font-weight="bold" textLength="13" lengthAdjust="spacingAndGlyphs">PRELAY</text>
<text x="291.1" y="352.8" font-size="4.636" fill="#444" font-weight="bold" textLength="11.4" lengthAdjust="spacingAndGlyphs">GAS HP</text>
<text x="291.2" y="358.8" font-size="4.636" fill="#444" font-weight="bold" textLength="14.4" lengthAdjust="spacingAndGlyphs">900w LED</text>
<text x="291.2" y="364.4" font-size="4.636" fill="#444" font-weight="bold" textLength="12.4" lengthAdjust="spacingAndGlyphs">R/HOOD</text>
<text x="290.6" y="370.8" font-size="4.636" fill="#444" font-weight="bold" textLength="21" lengthAdjust="spacingAndGlyphs">FR/ COLD TAP</text>
<text x="292.6" y="377.4" font-size="4.636" fill="#444" font-weight="bold" textLength="18" lengthAdjust="spacingAndGlyphs">@ 1650 AFL</text>
<text x="282.6" y="382.4" font-size="4.636" fill="#444" font-weight="bold" textLength="12" lengthAdjust="spacingAndGlyphs">FRIDGE</text>
<text x="282.6" y="388.4" font-size="4.636" fill="#444" font-weight="bold" textLength="12" lengthAdjust="spacingAndGlyphs">RECESS</text>
<text x="277.2" y="312.5" font-size="4.392" fill="#444" font-weight="bold" textLength="6" lengthAdjust="spacingAndGlyphs">PTY</text>
<text x="278.5" y="334.1" font-size="4.392" fill="#444" font-weight="bold" textLength="6" lengthAdjust="spacingAndGlyphs">540</text>
<text x="281.1" y="338.8" font-size="3.904" fill="#444" font-weight="bold" textLength="6" lengthAdjust="spacingAndGlyphs">GAS</text>
<text x="288.7" y="402.4" font-size="4.392" fill="#444" font-weight="bold" textLength="9.4" lengthAdjust="spacingAndGlyphs">LINEN</text>
<text x="279.3" y="402.5" font-size="4.148" fill="#444" font-weight="bold" textLength="4.4" lengthAdjust="spacingAndGlyphs">S1</text>
<text x="349.3" y="402.3" font-size="4.392" fill="#444" font-weight="bold" textLength="12.4" lengthAdjust="spacingAndGlyphs">PANTRY</text>
<text x="340.7" y="402.3" font-size="4.148" fill="#444" font-weight="bold" textLength="4" lengthAdjust="spacingAndGlyphs">S1</text>
<text x="349.5" y="346.5" font-size="8.4" fill="#484848" class="rm" textLength="24" lengthAdjust="spacingAndGlyphs">DINING</text>
<text x="352.8" y="353.2" font-size="4.636" fill="#444" font-weight="bold" textLength="17.4" lengthAdjust="spacingAndGlyphs">C.L. @ 38c</text>
<text x="356.8" y="357.8" font-size="4.636" fill="#444" font-weight="bold" textLength="9.4" lengthAdjust="spacingAndGlyphs">VINYL</text>
<text x="425.1" y="346.5" font-size="8.4" fill="#484848" class="rm" textLength="23.4" lengthAdjust="spacingAndGlyphs">LIVING</text>
<text x="428.3" y="353.3" font-size="4.636" fill="#444" font-weight="bold" textLength="17.4" lengthAdjust="spacingAndGlyphs">C.L. @ 38c</text>
<text x="432.5" y="358" font-size="4.636" fill="#444" font-weight="bold" textLength="9.4" lengthAdjust="spacingAndGlyphs">VINYL</text>
<text x="366.3" y="378.4" font-size="4.636" fill="#444" font-weight="bold" textLength="28.6" lengthAdjust="spacingAndGlyphs">A/C CONTROLLER</text>
<text x="371.6" y="383.8" font-size="4.636" fill="#444" font-weight="bold" textLength="18.7" lengthAdjust="spacingAndGlyphs">@ 1500 AFL</text>
<polyline points="371,382.4 365.6,382.4 365.6,394.5" fill="none" stroke="#666" stroke-width="0.5"/>
<text x="310.9" y="384.6" font-size="4.636" fill="#444" font-weight="bold" textLength="28.7" lengthAdjust="spacingAndGlyphs">4 x 450d SHELVES</text>
<text x="316.9" y="390" font-size="4.636" fill="#444" font-weight="bold" textLength="15.4" lengthAdjust="spacingAndGlyphs">@ 450 CTS</text>
<polyline points="340.1,382.7 346.9,382.7 346.9,395.1" fill="none" stroke="#666" stroke-width="0.5"/>
<text x="332.4" y="294.3" font-size="4.148" fill="#444" font-weight="bold" textLength="19" lengthAdjust="spacingAndGlyphs">STACKING SD</text>
<text x="390.9" y="294.3" font-size="3.904" fill="#444" font-weight="bold" textLength="7" lengthAdjust="spacingAndGlyphs">R/WP</text>
<text x="424.9" y="294.7" font-size="3.904" fill="#444" font-weight="bold" textLength="11" lengthAdjust="spacingAndGlyphs">6x2710</text>
<line x1="366.7" y1="305" x2="340.5" y2="331.6" stroke="#444" stroke-width="0.9" stroke-dasharray="1 9 15 9 1 40"/>
<line x1="336.9" y1="363.8" x2="370.7" y2="397.4" stroke="#444" stroke-width="0.9" stroke-dasharray="1 9 16 9 1 9 1 40"/>
<line x1="475.4" y1="303.7" x2="382.7" y2="397" stroke="#444" stroke-width="0.9" stroke-dasharray="1 8 16 8"/>
<text x="305.3" y="263.4" font-size="9" fill="#484848" class="rm" textLength="39" lengthAdjust="spacingAndGlyphs">ALFRESCO</text>
<text x="312.9" y="268.7" font-size="4.148" fill="#444" font-weight="bold" textLength="23.4" lengthAdjust="spacingAndGlyphs">33sLINED C.L.</text>
<text x="310.7" y="274.1" font-size="4.148" fill="#444" font-weight="bold" textLength="27.6" lengthAdjust="spacingAndGlyphs">B/PAVED @ -91c</text>
<text x="329.3" y="418.9" font-size="8.4" fill="#484848" class="rm" textLength="34.4" lengthAdjust="spacingAndGlyphs">SCULLERY</text>
<text x="338.2" y="425.3" font-size="4.636" fill="#444" font-weight="bold" textLength="17" lengthAdjust="spacingAndGlyphs">C.L. @ 38c</text>
<text x="342" y="430.3" font-size="4.636" fill="#444" font-weight="bold" textLength="9.5" lengthAdjust="spacingAndGlyphs">VINYL</text>
<text x="276.7" y="430.7" font-size="9" fill="#484848" class="rm" textLength="15.4" lengthAdjust="spacingAndGlyphs">LDRY</text>
<text x="278.7" y="413.9" font-size="4.026" fill="#444" font-weight="bold" textLength="25" lengthAdjust="spacingAndGlyphs">F/H VINYL S/DOORS</text>
<text x="276.7" y="418.9" font-size="4.026" fill="#444" font-weight="bold" textLength="28" lengthAdjust="spacingAndGlyphs">w/c CORNICE SOFFIT</text>
<text x="292.7" y="423.6" font-size="4.026" fill="#444" font-weight="bold" textLength="17" lengthAdjust="spacingAndGlyphs">w/ 38c C.L.</text>
<text x="299.7" y="427.4" font-size="3.66" fill="#444" font-weight="bold" textLength="8" lengthAdjust="spacingAndGlyphs">VINYL</text>
<text x="285.2" y="432.6" font-size="3.904" fill="#444" font-weight="bold" textLength="5" lengthAdjust="spacingAndGlyphs">WM</text>
<text x="285.3" y="437.6" font-size="3.904" fill="#444" font-weight="bold" textLength="5" lengthAdjust="spacingAndGlyphs">REC</text>
<text x="313.8" y="450.6" font-size="4.026" fill="#444" font-weight="bold" textLength="28" lengthAdjust="spacingAndGlyphs">COLD PLUMBING</text>
<text x="306.9" y="456.8" font-size="4.392" fill="#444" font-weight="bold" textLength="9" lengthAdjust="spacingAndGlyphs">3.740</text>
<text x="305.4" y="462.4" font-size="4.148" fill="#444" font-weight="bold" textLength="12" lengthAdjust="spacingAndGlyphs">sink o/l</text>
<text x="308.5" y="473.2" font-size="9" fill="#484848" class="rm" textLength="25" lengthAdjust="spacingAndGlyphs">STUDY</text>
<text x="312.4" y="478.8" font-size="4.636" fill="#444" font-weight="bold" textLength="17" lengthAdjust="spacingAndGlyphs">C.L. @ 38c</text>
<text x="315" y="484" font-size="4.636" fill="#444" font-weight="bold" textLength="13" lengthAdjust="spacingAndGlyphs">CARPET</text>
<text x="357.3" y="456" font-size="3.904" fill="#444" font-weight="bold" textLength="5" lengthAdjust="spacingAndGlyphs">820</text>
<text x="424.7" y="403.7" font-size="4.27" fill="#444" font-weight="bold" textLength="34" lengthAdjust="spacingAndGlyphs">F/H MIRROR S/DOORS</text>
<text x="425.7" y="408.7" font-size="4.27" fill="#444" font-weight="bold" textLength="32" lengthAdjust="spacingAndGlyphs">w/c CORNICE SOFFIT</text>
<text x="430.7" y="415.1" font-size="4.27" fill="#444" font-weight="bold" textLength="23" lengthAdjust="spacingAndGlyphs">450d SHELF &amp;</text>
<text x="427.7" y="420.5" font-size="4.27" fill="#444" font-weight="bold" textLength="27" lengthAdjust="spacingAndGlyphs">RAIL @ 1700 AFL</text>
<text x="428.3" y="431.7" font-size="8.8" fill="#484848" class="rm" textLength="21" lengthAdjust="spacingAndGlyphs">BED 2</text>
<text x="430.3" y="438.1" font-size="4.636" fill="#444" font-weight="bold" textLength="17" lengthAdjust="spacingAndGlyphs">C.L. @ 38c</text>
<text x="432.3" y="443.2" font-size="4.636" fill="#444" font-weight="bold" textLength="13" lengthAdjust="spacingAndGlyphs">CARPET</text>
<text x="399.9" y="450.5" font-size="3.904" fill="#444" font-weight="bold" textLength="5" lengthAdjust="spacingAndGlyphs">820</text>
<text x="402.2" y="465.9" font-size="3.904" text-anchor="middle" fill="#444" font-weight="bold" transform="rotate(-90 402.2 465.9)" textLength="5" lengthAdjust="spacingAndGlyphs">540</text>
<rect x="407.4" y="461.3" width="26" height="12.4" fill="none" stroke="#444" stroke-width="0.9" stroke-dasharray="2 1.2"/>
<text x="412.9" y="466.9" font-size="4.026" fill="#444" font-weight="bold" textLength="15" lengthAdjust="spacingAndGlyphs">ROBED</text>
<text x="410.9" y="471.9" font-size="4.026" fill="#444" font-weight="bold" textLength="19" lengthAdjust="spacingAndGlyphs">SETDOWNS</text>
<text x="448.4" y="464.8" font-size="7.6" fill="#484848" class="rm" textLength="10.8" lengthAdjust="spacingAndGlyphs">WC</text>
<text x="436.8" y="463.4" font-size="3.904" fill="#444" font-weight="bold" textLength="6" lengthAdjust="spacingAndGlyphs">P.P</text>
<text x="436.8" y="468.8" font-size="3.904" fill="#444" font-weight="bold" textLength="6" lengthAdjust="spacingAndGlyphs">S/C</text>
<text x="444.8" y="469.8" font-size="3.904" fill="#444" font-weight="bold" textLength="11" lengthAdjust="spacingAndGlyphs">33c C.L.</text>
<text x="446.9" y="475" font-size="3.904" fill="#444" font-weight="bold" textLength="9" lengthAdjust="spacingAndGlyphs">TILED</text>
<text x="466.9" y="475" font-size="3.66" fill="#444" font-weight="bold" textLength="9" lengthAdjust="spacingAndGlyphs">PDP+</text>
<text x="436.3" y="490.4" font-size="8.6" fill="#484848" class="rm" textLength="21.2" lengthAdjust="spacingAndGlyphs">BATH</text>
<text x="433.9" y="499" font-size="3.904" fill="#444" font-weight="bold" textLength="13" lengthAdjust="spacingAndGlyphs">33c C.L.</text>
<text x="435.9" y="504" font-size="3.904" fill="#444" font-weight="bold" textLength="9" lengthAdjust="spacingAndGlyphs">TILED</text>
<text x="418.9" y="486.3" font-size="3.66" fill="#444" font-weight="bold" textLength="5" lengthAdjust="spacingAndGlyphs">720</text>
<text x="398.3" y="485.5" font-size="3.904" fill="#444" font-weight="bold" textLength="13.2" lengthAdjust="spacingAndGlyphs">33c C.L.</text>
<text x="399.9" y="490.7" font-size="3.904" fill="#444" font-weight="bold" textLength="10" lengthAdjust="spacingAndGlyphs">VINYL</text>
<rect x="397.5" y="481.5" width="14.6" height="11" fill="none" stroke="#666" stroke-width="0.5"/>
<text x="395.9" y="486.9" font-size="3.904" text-anchor="middle" fill="#444" font-weight="bold" transform="rotate(-90 395.9 486.9)" textLength="5" lengthAdjust="spacingAndGlyphs">540</text>
<text x="402.3" y="498.9" font-size="3.904" text-anchor="middle" fill="#444" font-weight="bold" transform="rotate(-90 402.3 498.9)" textLength="5" lengthAdjust="spacingAndGlyphs">390</text>
<text x="400.1" y="512.3" font-size="3.904" fill="#444" font-weight="bold" textLength="5" lengthAdjust="spacingAndGlyphs">820</text>
<text x="427.6" y="535.9" font-size="8.8" fill="#484848" class="rm" textLength="21" lengthAdjust="spacingAndGlyphs">BED 3</text>
<text x="429.9" y="542.3" font-size="4.636" fill="#444" font-weight="bold" textLength="17" lengthAdjust="spacingAndGlyphs">C.L. @ 38c</text>
<text x="431.9" y="547.5" font-size="4.636" fill="#444" font-weight="bold" textLength="13" lengthAdjust="spacingAndGlyphs">CARPET</text>
<text x="430.7" y="555.3" font-size="4.27" fill="#444" font-weight="bold" textLength="22.4" lengthAdjust="spacingAndGlyphs">450d SHELF &amp;</text>
<text x="427.7" y="560.7" font-size="4.27" fill="#444" font-weight="bold" textLength="27" lengthAdjust="spacingAndGlyphs">RAIL @ 1700 AFL</text>
<text x="424.1" y="568.1" font-size="4.27" fill="#444" font-weight="bold" textLength="35" lengthAdjust="spacingAndGlyphs">F/H MIRROR S/DOORS</text>
<text x="425.7" y="573.5" font-size="4.27" fill="#444" font-weight="bold" textLength="32.4" lengthAdjust="spacingAndGlyphs">w/c CORNICE SOFFIT</text>
<text x="404.2" y="598.5" font-size="8.6" fill="#484848" class="rm" textLength="14" lengthAdjust="spacingAndGlyphs">WIR</text>
<text x="404.2" y="603.9" font-size="3.904" fill="#444" font-weight="bold" textLength="14" lengthAdjust="spacingAndGlyphs">C.L. @ 38c</text>
<text x="405.2" y="608.9" font-size="3.904" fill="#444" font-weight="bold" textLength="12" lengthAdjust="spacingAndGlyphs">CARPET</text>
<text x="396.5" y="585.3" font-size="3.66" fill="#444" font-weight="bold" textLength="17.6" lengthAdjust="spacingAndGlyphs">450d SHELF &amp;</text>
<text x="394.8" y="589.5" font-size="3.66" fill="#444" font-weight="bold" textLength="21.4" lengthAdjust="spacingAndGlyphs">RAIL @ 1700 AFL</text>
<text x="438.2" y="590.4" font-size="8.6" fill="#484848" class="rm" textLength="14" lengthAdjust="spacingAndGlyphs">ENS</text>
<text x="428.2" y="607.5" font-size="3.904" fill="#444" font-weight="bold" textLength="10" lengthAdjust="spacingAndGlyphs">33c C.L.</text>
<text x="429.8" y="612.5" font-size="3.904" fill="#444" font-weight="bold" textLength="8.4" lengthAdjust="spacingAndGlyphs">TILED</text>
<text x="450.2" y="608.8" font-size="3.904" text-anchor="middle" fill="#444" font-weight="bold" transform="rotate(-90 450.2 608.8)" textLength="5" lengthAdjust="spacingAndGlyphs">720</text>
<text x="463.2" y="624.2" font-size="4.392" fill="#444" font-weight="bold" textLength="8" lengthAdjust="spacingAndGlyphs">990</text>
<text x="373.6" y="625.2" font-size="8.6" fill="#484848" class="rm" textLength="13.2" lengthAdjust="spacingAndGlyphs">ENT</text>
<text x="370.9" y="632" font-size="3.904" fill="#444" font-weight="bold" textLength="17.4" lengthAdjust="spacingAndGlyphs">C.L. @ 38c</text>
<text x="374.9" y="637.2" font-size="3.904" fill="#444" font-weight="bold" textLength="9.4" lengthAdjust="spacingAndGlyphs">VINYL</text>
<text x="377.5" y="647.2" font-size="3.904" fill="#444" font-weight="bold" textLength="5.6" lengthAdjust="spacingAndGlyphs">820</text>
<text x="377.3" y="652.2" font-size="3.904" fill="#444" font-weight="bold" textLength="6" lengthAdjust="spacingAndGlyphs">TFO</text>
<text x="413.3" y="651.1" font-size="8.8" fill="#484848" class="rm" textLength="53" lengthAdjust="spacingAndGlyphs">MASTER SUITE</text>
<text x="431.4" y="656.9" font-size="4.636" fill="#444" font-weight="bold" textLength="17" lengthAdjust="spacingAndGlyphs">C.L. @ 38c</text>
<text x="434.4" y="662.2" font-size="4.636" fill="#444" font-weight="bold" textLength="13" lengthAdjust="spacingAndGlyphs">CARPET</text>
<text x="404" y="665.3" font-size="4.026" fill="#444" font-weight="bold" textLength="18" lengthAdjust="spacingAndGlyphs">FTG @ -60c</text>
<text x="415.4" y="674.9" font-size="4.026" fill="#444" font-weight="bold" textLength="25" lengthAdjust="spacingAndGlyphs">&#x27;T&#x27; BAR @ 27c w/</text>
<text x="407" y="679.9" font-size="4.026" fill="#444" font-weight="bold" textLength="43" lengthAdjust="spacingAndGlyphs">150 CONTRAST RENDERED</text>
<text x="413" y="685.1" font-size="4.026" fill="#444" font-weight="bold" textLength="31" lengthAdjust="spacingAndGlyphs">BRICKWORK OVER</text>
<text x="289.7" y="565.8" font-size="8.8" fill="#484848" class="rm" textLength="31.4" lengthAdjust="spacingAndGlyphs">GARAGE</text>
<text x="295.6" y="571.8" font-size="4.026" fill="#444" font-weight="bold" textLength="19" lengthAdjust="spacingAndGlyphs">33sLINED C.L.</text>
<text x="295.6" y="577.2" font-size="4.026" fill="#444" font-weight="bold" textLength="19" lengthAdjust="spacingAndGlyphs">B/PAVED @ -91c</text>
<text x="260.6" y="539.9" font-size="4.026" fill="#444" font-weight="bold" textLength="30.4" lengthAdjust="spacingAndGlyphs">LINTEL @ 28c AFC w/</text>
<text x="262" y="545.3" font-size="4.026" fill="#444" font-weight="bold" textLength="31" lengthAdjust="spacingAndGlyphs">BRICKWORK OVER</text>
<text x="264.1" y="550.7" font-size="4.026" fill="#444" font-weight="bold" textLength="27" lengthAdjust="spacingAndGlyphs">BETWEEN PIERS</text>
<text x="252.1" y="580.3" font-size="3.904" fill="#444" font-weight="bold" textLength="18" lengthAdjust="spacingAndGlyphs">FTG @ -60c</text>
<text x="340.1" y="580.1" font-size="3.904" fill="#444" font-weight="bold" textLength="19" lengthAdjust="spacingAndGlyphs">FTG @ -60c</text>
<text x="261.2" y="600.3" font-size="4.026" fill="#444" font-weight="bold" textLength="14" lengthAdjust="spacingAndGlyphs">350 x 100</text>
<text x="258.8" y="605.5" font-size="4.026" fill="#444" font-weight="bold" textLength="17.4" lengthAdjust="spacingAndGlyphs">ATTACHED</text>
<text x="263.8" y="610.7" font-size="4.026" fill="#444" font-weight="bold" textLength="8.4" lengthAdjust="spacingAndGlyphs">PIER</text>
<text x="290.8" y="600.2" font-size="4.026" fill="#444" font-weight="bold" textLength="34.4" lengthAdjust="spacingAndGlyphs">REMOTE CONTROL</text>
<text x="291.8" y="605.4" font-size="4.026" fill="#444" font-weight="bold" textLength="32.4" lengthAdjust="spacingAndGlyphs">SECTIONAL DOOR</text>
<text x="265.3" y="626.3" font-size="4.026" fill="#444" font-weight="bold" textLength="32.6" lengthAdjust="spacingAndGlyphs">-CONCEALED BEAM</text>
<text x="327.8" y="618.1" font-size="4.026" fill="#444" font-weight="bold" textLength="26.4" lengthAdjust="spacingAndGlyphs">CAVITY CLOSER</text>
<text x="328.8" y="623.5" font-size="4.026" fill="#444" font-weight="bold" textLength="24" lengthAdjust="spacingAndGlyphs">AS PER DETAIL</text>
<text x="329.3" y="633.5" font-size="3.904" fill="#444" font-weight="bold" textLength="18" lengthAdjust="spacingAndGlyphs">EXTENT OF</text>
<text x="333.3" y="638.7" font-size="3.904" fill="#444" font-weight="bold" textLength="10" lengthAdjust="spacingAndGlyphs">TRAYS</text>
<text x="297.9" y="498.2" font-size="4.026" fill="#444" font-weight="bold" textLength="26" lengthAdjust="spacingAndGlyphs">CAVITY CLOSER</text>
<text x="298.9" y="503.6" font-size="4.026" fill="#444" font-weight="bold" textLength="24" lengthAdjust="spacingAndGlyphs">AS PER DETAIL</text>
<text x="275.3" y="650.9" font-size="4.026" fill="#444" font-weight="bold" textLength="24" lengthAdjust="spacingAndGlyphs">PELMET OVER</text>
<text x="307.3" y="650.8" font-size="4.026" fill="#444" font-weight="bold" textLength="22.6" lengthAdjust="spacingAndGlyphs">FASCIA @ 33c</text>
<text x="243.3" y="651.7" font-size="3.904" fill="#444" font-weight="bold" textLength="7" lengthAdjust="spacingAndGlyphs">R/WP</text>
<text x="355.3" y="652.1" font-size="3.66" fill="#444" font-weight="bold" textLength="6" lengthAdjust="spacingAndGlyphs">R/WP</text>
<text x="267.9" y="662.3" font-size="3.904" fill="#444" font-weight="bold" textLength="8.4" lengthAdjust="spacingAndGlyphs">FTG @</text>
<text x="270" y="667.7" font-size="3.904" fill="#444" font-weight="bold" textLength="5.4" lengthAdjust="spacingAndGlyphs">-43c</text>
<text x="321.4" y="665.1" font-size="8.8" fill="#484848" class="rm" textLength="26" lengthAdjust="spacingAndGlyphs">PORCH</text>
<text x="322.4" y="670.7" font-size="4.026" fill="#444" font-weight="bold" textLength="23" lengthAdjust="spacingAndGlyphs">33sLINED C.L.</text>
<text x="320.4" y="676.1" font-size="4.026" fill="#444" font-weight="bold" textLength="28" lengthAdjust="spacingAndGlyphs">B/PAVED @ -91c</text>
<text x="370.9" y="662.6" font-size="3.904" fill="#444" font-weight="bold" textLength="15.4" lengthAdjust="spacingAndGlyphs">CONCEALED</text>
<text x="374.4" y="668" font-size="3.904" fill="#444" font-weight="bold" textLength="9" lengthAdjust="spacingAndGlyphs">BEAM</text>
<text x="306.5" y="713.8" font-size="4.026" fill="#444" font-weight="bold" textLength="53" lengthAdjust="spacingAndGlyphs">400 x 400 CONTRAST RENDERED</text>
<text x="313.5" y="719.2" font-size="4.026" fill="#444" font-weight="bold" textLength="39" lengthAdjust="spacingAndGlyphs">BRICK PIER (FTG @ -45c)</text>
<text x="441.5" y="713.4" font-size="4.026" fill="#444" font-weight="bold" textLength="55" lengthAdjust="spacingAndGlyphs">460 x 100 CONTRAST RENDERED</text>
<text x="438.1" y="719" font-size="4.026" fill="#444" font-weight="bold" textLength="59.4" lengthAdjust="spacingAndGlyphs">ATTACHED BRICK PIER (FTG @ -60c)</text>
<text x="446.4" y="699.4" font-size="3.66" fill="#444" font-weight="bold" textLength="17" lengthAdjust="spacingAndGlyphs">33V1810 A</text>
<text x="454.5" y="705.8" font-size="3.66" fill="#444" font-weight="bold" textLength="18" lengthAdjust="spacingAndGlyphs">FASCIA @ 33c</text>
<line x1="265.9" y1="223.4" x2="383.2" y2="223.4" stroke="#555" stroke-width="0.7" stroke-dasharray="14 3 1.2 3"/>
<line x1="259.9" y1="223.3" x2="259.9" y2="297.3" stroke="#555" stroke-width="0.7" stroke-dasharray="14 3 1.2 3"/>
<line x1="384.7" y1="247" x2="384.7" y2="271.5" stroke="#555" stroke-width="0.8"/>
<line x1="384.7" y1="273.4" x2="384.7" y2="274.6" stroke="#555" stroke-width="0.8"/>
<line x1="384.6" y1="223.4" x2="384.6" y2="226.4" stroke="#777" stroke-width="0.7"/>
<line x1="272.2" y1="237" x2="375.7" y2="237" stroke="#555" stroke-width="0.8" stroke-dasharray="5 2"/>
<line x1="272.2" y1="234.7" x2="375.7" y2="234.7" stroke="#999" stroke-width="0.4"/>
<line x1="273.3" y1="237" x2="273.3" y2="298.3" stroke="#555" stroke-width="0.7" stroke-dasharray="6 2 1 2"/>
<line x1="270.8" y1="236.3" x2="270.8" y2="298.3" stroke="#999" stroke-width="0.4"/>
<line x1="372.5" y1="236.7" x2="372.5" y2="298" stroke="#555" stroke-width="0.7" stroke-dasharray="6 2 1 2"/>
<line x1="375.7" y1="234.4" x2="375.7" y2="298" stroke="#999" stroke-width="0.4"/>
<text x="311.7" y="219.5" font-size="4.026" fill="#444" font-weight="bold" textLength="19" lengthAdjust="spacingAndGlyphs">EAVE @ 27c</text>
<text x="309" y="242.6" font-size="3.904" fill="#444" font-weight="bold" textLength="31" lengthAdjust="spacingAndGlyphs">CONCEALED BEAM</text>
<text x="280.3" y="266.2" font-size="3.904" text-anchor="middle" fill="#444" font-weight="bold" transform="rotate(-90 280.3 266.2)" textLength="31" lengthAdjust="spacingAndGlyphs">CONCEALED BEAM</text>
<text x="370" y="266" font-size="3.904" text-anchor="middle" fill="#444" font-weight="bold" transform="rotate(-90 370 266)" textLength="31" lengthAdjust="spacingAndGlyphs">CONCEALED BEAM</text>
<text x="390.5" y="257.6" font-size="4.026" text-anchor="middle" fill="#444" font-weight="bold" transform="rotate(-90 390.5 257.6)" textLength="20" lengthAdjust="spacingAndGlyphs">EAVE @ 27c</text>
<text x="269.7" y="230.9" font-size="3.66" fill="#444" font-weight="bold" textLength="7" lengthAdjust="spacingAndGlyphs">R/WP</text>
<text x="392" y="294.2" font-size="3.66" fill="#444" font-weight="bold" textLength="7" lengthAdjust="spacingAndGlyphs">R/WP</text>
<line x1="285.1" y1="248.2" x2="296.9" y2="260" stroke="#555" stroke-width="0.7"/>
<line x1="359.8" y1="248" x2="348.1" y2="259.9" stroke="#555" stroke-width="0.7"/>
<polyline points="311.8,276 322.6,286.5 333.1,275.9" fill="none" stroke="#555" stroke-width="0.7"/>
<line x1="322.6" y1="286.5" x2="322.6" y2="290.1" stroke="#555" stroke-width="0.7"/>
<text x="226.1" y="234" font-size="3.904" fill="#444" font-weight="bold" textLength="28.1" lengthAdjust="spacingAndGlyphs">110 x 110 TIMBER</text>
<text x="224.2" y="239.1" font-size="3.904" fill="#444" font-weight="bold" textLength="30.7" lengthAdjust="spacingAndGlyphs">POST (FTG @ -60c)</text>
<text x="396.2" y="233.7" font-size="3.904" fill="#444" font-weight="bold" textLength="28" lengthAdjust="spacingAndGlyphs">110 x 110 TIMBER</text>
<text x="394.6" y="238.9" font-size="3.904" fill="#444" font-weight="bold" textLength="30.6" lengthAdjust="spacingAndGlyphs">POST (FTG @ -60c)</text>
<text x="260.8" y="447.9" font-size="3.416" fill="#444" font-weight="bold" textLength="7" lengthAdjust="spacingAndGlyphs">R/WP</text>
<text x="263.4" y="303.3" font-size="4.392" fill="#444" textLength="5" lengthAdjust="spacingAndGlyphs">58</text>
<line x1="406.4" y1="287.5" x2="491.4" y2="287.5" stroke="#555" stroke-width="0.7" stroke-dasharray="14 3 1.2 3"/>
<line x1="491.7" y1="287.3" x2="491.7" y2="639.7" stroke="#555" stroke-width="0.7" stroke-dasharray="20 3 1.2 3"/>
<text x="424.9" y="283.5" font-size="4.026" fill="#444" font-weight="bold" textLength="19" lengthAdjust="spacingAndGlyphs">EAVE @ 27c</text>
<polyline points="481.6,369.7 489.2,369.7 481.6,387.7 489.2,387.7 481.6,369.7" fill="none" stroke="#777" stroke-width="0.6"/>
<line x1="481.9" y1="368.7" x2="481.9" y2="388.7" stroke="#777" stroke-width="0.5"/>
<line x1="489.4" y1="368.7" x2="489.4" y2="388.7" stroke="#777" stroke-width="0.5"/>
<line x1="490.9" y1="379.7" x2="505.6" y2="379.7" stroke="#777" stroke-width="0.5"/>
<polygon points="490.9,379.7 493.6,378.5 493.6,380.9" fill="#555"/>
<text x="498.6" y="375.7" font-size="3.904" fill="#444" font-weight="bold" textLength="43" lengthAdjust="spacingAndGlyphs">WALL MOUNTED A/C UNIT</text>
<text x="507.6" y="381" font-size="3.904" fill="#444" font-weight="bold" textLength="26.7" lengthAdjust="spacingAndGlyphs">-POSITION T.B.C</text>
<text x="502.6" y="386.1" font-size="3.904" fill="#444" font-weight="bold" textLength="35.7" lengthAdjust="spacingAndGlyphs">BY A/C CONTRACTOR</text>
<line x1="481" y1="331.1" x2="491.5" y2="331.1" stroke="#777" stroke-width="0.5"/>
<text x="483.5" y="332.7" font-size="3.172" fill="#444" font-weight="bold" textLength="6.6" lengthAdjust="spacingAndGlyphs">1 HWS</text>
<line x1="287.4" y1="303.2" x2="297.5" y2="321.2" stroke="#777" stroke-width="0.5"/>
<line x1="288.1" y1="322.2" x2="288.1" y2="328.8" stroke="#777" stroke-width="0.6"/>
<polygon points="277.5,323.9 280.1,322.6 280.1,325" fill="#444"/>
<rect x="275.7" y="339.7" width="11.8" height="21" fill="#fff" stroke="#333" stroke-width="1.3"/>
<line x1="275.7" y1="344.9" x2="287.5" y2="344.9" stroke="#333" stroke-width="1.1"/>
<line x1="275.7" y1="350.2" x2="287.5" y2="350.2" stroke="#333" stroke-width="1.1"/>
<line x1="275.7" y1="355.4" x2="287.5" y2="355.4" stroke="#333" stroke-width="1.1"/>
<line x1="281.6" y1="339.6" x2="281.6" y2="360.6" stroke="#333" stroke-width="1.1"/>
<circle cx="278.7" cy="342.3" r="1.1" fill="none" stroke="#555" stroke-width="0.6"/>
<circle cx="284.6" cy="342.2" r="1.1" fill="none" stroke="#555" stroke-width="0.6"/>
<circle cx="278.7" cy="347.5" r="1.1" fill="none" stroke="#555" stroke-width="0.6"/>
<circle cx="284.6" cy="347.5" r="1.1" fill="none" stroke="#555" stroke-width="0.6"/>
<circle cx="278.7" cy="352.8" r="1.1" fill="none" stroke="#555" stroke-width="0.6"/>
<circle cx="284.6" cy="352.7" r="1.1" fill="none" stroke="#555" stroke-width="0.6"/>
<circle cx="278.7" cy="358" r="1.1" fill="none" stroke="#555" stroke-width="0.6"/>
<circle cx="284.6" cy="358" r="1.1" fill="none" stroke="#555" stroke-width="0.6"/>
<line x1="289.1" y1="328.8" x2="289.1" y2="373.2" stroke="#999" stroke-width="0.5"/>
<line x1="289.1" y1="349.4" x2="313.5" y2="349.4" stroke="#777" stroke-width="0.5" stroke-dasharray="2 1.4"/>
<rect x="313.4" y="320" width="14" height="55.8" fill="none" stroke="#555" stroke-width="0.7" stroke-dasharray="2.4 1.4"/>
<line x1="332.1" y1="319.9" x2="332.1" y2="375.9" stroke="#999" stroke-width="0.4"/>
<line x1="310.6" y1="376.1" x2="332.3" y2="376.1" stroke="#999" stroke-width="0.4"/>
<rect x="315.5" y="352.6" width="11" height="6.6" fill="#fff" stroke="#444" stroke-width="0.9" stroke-dasharray="2 0.8"/>
<line x1="315.5" y1="352.6" x2="326.6" y2="359.1" stroke="#555" stroke-width="0.7"/>
<line x1="326.5" y1="352.5" x2="315.6" y2="359.2" stroke="#555" stroke-width="0.7"/>
<rect x="315.6" y="360.2" width="11" height="6.6" fill="#fff" stroke="#444" stroke-width="0.9" stroke-dasharray="2 0.8"/>
<line x1="315.6" y1="360.2" x2="326.6" y2="366.7" stroke="#555" stroke-width="0.7"/>
<line x1="326.6" y1="360.1" x2="315.6" y2="366.8" stroke="#555" stroke-width="0.7"/>
<rect x="315.6" y="367.8" width="11" height="6.8" fill="#fff" stroke="#444" stroke-width="0.9" stroke-dasharray="2 0.8"/>
<line x1="315.6" y1="367.8" x2="326.6" y2="374.5" stroke="#555" stroke-width="0.7"/>
<line x1="326.6" y1="367.7" x2="315.6" y2="374.6" stroke="#555" stroke-width="0.7"/>
<text x="321.1" y="358.3" font-size="3.2" text-anchor="middle" fill="#333" font-weight="bold">WM</text>
<text x="321.1" y="365.7" font-size="3.2" text-anchor="middle" fill="#333" font-weight="bold">REC</text>
<line x1="320.5" y1="324.7" x2="324.1" y2="326.5" stroke="#777" stroke-width="0.5"/>
<line x1="321.5" y1="331.1" x2="323.9" y2="329.1" stroke="#777" stroke-width="0.5"/>
<line x1="323.1" y1="333.5" x2="323.1" y2="336.7" stroke="#777" stroke-width="0.5"/>
<rect x="276" y="372.7" width="12.6" height="22" fill="none" stroke="#777" stroke-width="0.5" stroke-dasharray="2 1.4"/>
<line x1="276.6" y1="394.3" x2="288.2" y2="373.2" stroke="#999" stroke-width="0.4" stroke-dasharray="2 1.4"/>
<line x1="277.2" y1="386.3" x2="277.2" y2="393.9" stroke="#555" stroke-width="0.7"/>
<text x="264.3" y="350.3" font-size="3.66" text-anchor="middle" fill="#444" font-weight="bold" transform="rotate(-90 264.3 350.3)" textLength="19" lengthAdjust="spacingAndGlyphs">30.121.6 T</text>
<text x="269.5" y="352.3" font-size="3.66" text-anchor="middle" fill="#444" font-weight="bold" transform="rotate(-90 269.5 352.3)" textLength="19" lengthAdjust="spacingAndGlyphs">SILL @ 37c</text>
<line x1="259.7" y1="300.3" x2="259.7" y2="520.3" stroke="#555" stroke-width="0.7" stroke-dasharray="20 3 1.2 3"/>
<line x1="286.3" y1="396.6" x2="286.3" y2="406.6" stroke="#777" stroke-width="0.5"/>
<rect x="337.3" y="396.7" width="29.4" height="7.6" fill="none" stroke="#777" stroke-width="0.5"/>
<rect x="297.9" y="430" width="13.4" height="12.4" fill="none" stroke="#444" stroke-width="0.9"/>
<rect x="299.7" y="431.8" width="9.8" height="8.8" fill="none" stroke="#777" stroke-width="0.5"/>
<rect x="276.7" y="429.9" width="18" height="12.6" fill="none" stroke="#777" stroke-width="0.5" stroke-dasharray="1.6 1.2"/>
<line x1="276.3" y1="408.3" x2="276.3" y2="428.3" stroke="#999" stroke-width="0.5" stroke-dasharray="1.6 1.2"/>
<text x="321.5" y="420.5" font-size="3.66" text-anchor="middle" fill="#444" font-weight="bold" transform="rotate(-90 321.5 420.5)" textLength="7" lengthAdjust="spacingAndGlyphs">30.12</text>
<text x="321.6" y="436.1" font-size="3.66" text-anchor="middle" fill="#444" font-weight="bold" transform="rotate(-90 321.6 436.1)" textLength="6" lengthAdjust="spacingAndGlyphs">820</text>
<line x1="336.7" y1="429.7" x2="366.7" y2="429.7" stroke="#777" stroke-width="0.5" stroke-dasharray="2 1.4"/>
<rect x="337.1" y="430.5" width="8" height="11.6" fill="none" stroke="#777" stroke-width="0.6"/>
<rect x="345.3" y="430.5" width="8" height="11.6" fill="none" stroke="#777" stroke-width="0.6"/>
<rect x="354.1" y="430.5" width="12.6" height="11.6" fill="none" stroke="#555" stroke-width="0.6" stroke-dasharray="1.6 1"/>
<line x1="354.1" y1="430.5" x2="366.8" y2="442" stroke="#555" stroke-width="0.5"/>
<line x1="366.7" y1="430.4" x2="354.2" y2="442.1" stroke="#555" stroke-width="0.5"/>
<line x1="344.1" y1="408.1" x2="344.1" y2="416.1" stroke="#999" stroke-width="0.5"/>
<line x1="348.8" y1="444.1" x2="348.8" y2="458.1" stroke="#999" stroke-width="0.5" stroke-dasharray="1.6 1.2"/>
<circle cx="348.8" cy="459.5" r="1.2" fill="none" stroke="#999" stroke-width="0.5"/>
<rect x="340.9" y="498.1" width="12" height="13" fill="none" stroke="#777" stroke-width="0.6"/>
<rect x="342.7" y="499.9" width="8.4" height="9.4" fill="none" stroke="#999" stroke-width="0.5"/>
<text x="346.9" y="506.5" font-size="3" text-anchor="middle" fill="#444" font-weight="bold">MH</text>
<line x1="375.7" y1="402.7" x2="375.7" y2="414.6" stroke="#555" stroke-width="0.7"/>
<line x1="375.7" y1="433.3" x2="375.7" y2="450" stroke="#555" stroke-width="0.7"/>
<line x1="375.8" y1="468.8" x2="375.8" y2="522" stroke="#555" stroke-width="0.7"/>
<line x1="394" y1="437.5" x2="394" y2="457" stroke="#999" stroke-width="0.5"/>
<circle cx="377.8" cy="453.6" r="2.5" fill="none" stroke="#555" stroke-width="0.6"/>
<text x="377.8" y="454.9" font-size="3.4" text-anchor="middle" fill="#444">C</text>
<text x="375.7" y="504" font-size="3.904" text-anchor="middle" fill="#444" font-weight="bold" transform="rotate(-90 375.7 504)" textLength="10" lengthAdjust="spacingAndGlyphs">1,690</text>
<line x1="372.5" y1="488" x2="378.5" y2="488" stroke="#555" stroke-width="0.5"/>
<line x1="372.6" y1="521.4" x2="378.6" y2="521.4" stroke="#555" stroke-width="0.5"/>
<line x1="403.1" y1="397.9" x2="403.1" y2="422.9" stroke="#999" stroke-width="0.5" stroke-dasharray="2 1.4"/>
<line x1="396.3" y1="397.9" x2="396.3" y2="419.9" stroke="#999" stroke-width="0.4" stroke-dasharray="2 1.4"/>
<line x1="403.1" y1="403.5" x2="406.7" y2="403.5" stroke="#777" stroke-width="0.5"/>
<rect x="462.4" y="462.8" width="10.4" height="8.4" fill="none" stroke="#777" stroke-width="0.5"/>
<circle cx="461.4" cy="466.8" r="1.4" fill="none" stroke="#777" stroke-width="0.5"/>
<line x1="436.8" y1="459.8" x2="441.5" y2="476.8" stroke="#999" stroke-width="0.4"/>
<rect x="464.3" y="482.4" width="11.4" height="32.6" fill="none" stroke="#777" stroke-width="0.6"/>
<rect x="465.9" y="484" width="8.2" height="29.4" fill="none" stroke="#999" stroke-width="0.5"/>
<rect x="441.5" y="506.8" width="11.6" height="10.6" fill="none" stroke="#444" stroke-width="0.9"/>
<line x1="447.3" y1="508.8" x2="447.3" y2="515.8" stroke="#555" stroke-width="0.5"/>
<line x1="443.6" y1="512.2" x2="451.2" y2="512.2" stroke="#555" stroke-width="0.5"/>
<rect x="414.5" y="497.5" width="17.6" height="19.6" fill="none" stroke="#777" stroke-width="0.5"/>
<line x1="414.5" y1="497.5" x2="432.2" y2="517.1" stroke="#999" stroke-width="0.4"/>
<rect x="414.5" y="502.9" width="12" height="14" fill="none" stroke="#999" stroke-width="0.4"/>
<text x="420.6" y="510.5" font-size="3.66" fill="#444" font-weight="bold" textLength="4.6" lengthAdjust="spacingAndGlyphs">82</text>
<line x1="418.5" y1="479.9" x2="418.5" y2="496.9" stroke="#999" stroke-width="0.5" stroke-dasharray="2 1.4"/>
<line x1="418.5" y1="496.9" x2="431.9" y2="479.9" stroke="#999" stroke-width="0.4" stroke-dasharray="2 1.4"/>
<line x1="398.5" y1="555.9" x2="398.5" y2="577.9" stroke="#999" stroke-width="0.4" stroke-dasharray="2 1.4"/>
<line x1="404.5" y1="566.3" x2="409.1" y2="566.3" stroke="#777" stroke-width="0.5"/>
<line x1="396.7" y1="581.9" x2="396.7" y2="614.9" stroke="#999" stroke-width="0.4" stroke-dasharray="2 1.4"/>
<line x1="393.2" y1="588.6" x2="421.2" y2="588.6" stroke="#999" stroke-width="0.4" stroke-dasharray="2 1.4"/>
<polygon points="417.1,582.3 415.5,585.9 418.7,585.9" fill="#333" stroke="#333" stroke-width="0.4"/>
<rect x="425.1" y="584.9" width="10" height="11.6" fill="none" stroke="#444" stroke-width="0.9"/>
<line x1="430.1" y1="584.9" x2="430.1" y2="596.5" stroke="#555" stroke-width="0.5"/>
<line x1="425.2" y1="590.9" x2="435.2" y2="590.9" stroke="#555" stroke-width="0.5"/>
<rect x="457.3" y="580.4" width="19.6" height="18.6" fill="none" stroke="#777" stroke-width="0.6"/>
<line x1="457.3" y1="580.4" x2="477" y2="598.9" stroke="#999" stroke-width="0.4"/>
<line x1="476.9" y1="580.3" x2="457.4" y2="599" stroke="#999" stroke-width="0.4"/>
<circle cx="467.2" cy="589.8" r="1.6" fill="#555"/>
<rect x="463.2" y="604.4" width="11.6" height="8.4" fill="none" stroke="#777" stroke-width="0.6"/>
<circle cx="471.8" cy="608.5" r="2.4" fill="none" stroke="#999" stroke-width="0.5"/>
<line x1="441.2" y1="598.8" x2="452.2" y2="587.8" stroke="#999" stroke-width="0.4"/>
<line x1="441.8" y1="591.8" x2="441.8" y2="611.8" stroke="#999" stroke-width="0.4"/>
<line x1="445.8" y1="597.8" x2="445.8" y2="611.8" stroke="#777" stroke-width="0.5"/>
<line x1="456.2" y1="623.2" x2="462.2" y2="623.2" stroke="#777" stroke-width="0.5"/>
<line x1="456.8" y1="620.8" x2="456.8" y2="625.8" stroke="#777" stroke-width="0.5"/>
<line x1="275.3" y1="490.3" x2="358.8" y2="566" stroke="#555" stroke-width="0.8" stroke-dasharray="60 4 40 4"/>
<line x1="290.9" y1="492.2" x2="361.7" y2="565.4" stroke="#555" stroke-width="0.8" stroke-dasharray="8 10 50 4 40"/>
<line x1="348.1" y1="565.9" x2="362.1" y2="565.9" stroke="#555" stroke-width="0.7"/>
<line x1="295" y1="544.2" x2="307.1" y2="555.2" stroke="#555" stroke-width="0.8"/>
<line x1="321.1" y1="569.1" x2="333.1" y2="580.1" stroke="#555" stroke-width="0.8"/>
<line x1="310.1" y1="580.2" x2="272.2" y2="618.3" stroke="#555" stroke-width="0.8" stroke-dasharray="16 21.7 16"/>
<line x1="262.2" y1="588.3" x2="360.3" y2="634" stroke="#555" stroke-width="0.8" stroke-dasharray="14 7"/>
<rect x="254.5" y="584.3" width="105.6" height="44" fill="none" stroke="#555" stroke-width="0.8" stroke-dasharray="6 3"/>
<line x1="254.3" y1="639.9" x2="360.3" y2="639.9" stroke="#999" stroke-width="0.6" stroke-dasharray="6 3"/>
<line x1="231.3" y1="644.8" x2="362.3" y2="644.8" stroke="#999" stroke-width="0.5"/>
<polygon points="264.1,583.7 270.1,583.7 267.2,589.7" fill="#333" stroke="#333" stroke-width="0.4"/>
<line x1="258.1" y1="583.5" x2="276.1" y2="583.5" stroke="#555" stroke-width="0.5"/>
<polygon points="339.5,583.5 345.5,583.5 342.6,589.5" fill="#333" stroke="#333" stroke-width="0.4"/>
<line x1="333.5" y1="583.3" x2="351.5" y2="583.3" stroke="#555" stroke-width="0.5"/>
<rect x="365.5" y="576" width="3.4" height="6" fill="#555"/>
<rect x="243.8" y="546.3" width="3.4" height="4" fill="#333"/>
<rect x="244" y="601.3" width="3.4" height="4" fill="#333"/>
<line x1="250" y1="543.3" x2="262" y2="543.3" stroke="#777" stroke-width="0.5"/>
<line x1="250.2" y1="603.3" x2="258.2" y2="603.3" stroke="#777" stroke-width="0.5"/>
<line x1="292.4" y1="547.2" x2="283" y2="538.2" stroke="#777" stroke-width="0.5"/>
<line x1="349.2" y1="613.1" x2="357.8" y2="607" stroke="#777" stroke-width="0.5"/>
<line x1="348.2" y1="617.1" x2="362.3" y2="634" stroke="#777" stroke-width="0.5"/>
<line x1="344.3" y1="632.1" x2="351.3" y2="637.1" stroke="#777" stroke-width="0.5"/>
<line x1="296.9" y1="496.8" x2="282.9" y2="490.2" stroke="#777" stroke-width="0.5"/>
<text x="286.4" y="515.2" font-size="3.904" text-anchor="middle" fill="#444" font-weight="bold" transform="rotate(-90 286.4 515.2)" textLength="10" lengthAdjust="spacingAndGlyphs">3,510</text>
<line x1="287.5" y1="497.2" x2="287.5" y2="524.2" stroke="#999" stroke-width="0.4"/>
<text x="285.4" y="531.2" font-size="3.66" text-anchor="middle" fill="#444" font-weight="bold" transform="rotate(-90 285.4 531.2)" textLength="6" lengthAdjust="spacingAndGlyphs">350</text>
<text x="290.4" y="531.2" font-size="3.66" text-anchor="middle" fill="#444" font-weight="bold" transform="rotate(-90 290.4 531.2)" textLength="6" lengthAdjust="spacingAndGlyphs">230</text>
<text x="235.6" y="571.4" font-size="3.904" text-anchor="middle" fill="#444" font-weight="bold" transform="rotate(-90 235.6 571.4)" textLength="110" lengthAdjust="spacingAndGlyphs">36c HIGH FACE BRICK BOUNDARY WALL w/ FIRE FLASHING</text>
<text x="240.9" y="577.9" font-size="3.904" text-anchor="middle" fill="#444" font-weight="bold" transform="rotate(-90 240.9 577.9)" textLength="93" lengthAdjust="spacingAndGlyphs">AND 50 BRAE BLANKET, REFER TO DETAIL</text>
<line x1="263.9" y1="646.3" x2="263.9" y2="672.3" stroke="#777" stroke-width="0.5"/>
<polygon points="257.8,665.3 263.9,661.3 264,669.3" fill="#777" stroke="#555" stroke-width="0.5"/>
<line x1="320.5" y1="708.1" x2="320.5" y2="722.1" stroke="#999" stroke-width="0.4"/>
<line x1="377" y1="525" x2="368" y2="541" stroke="#555" stroke-width="0.6"/>
<text x="369.8" y="529.6" font-size="3.66" fill="#444" font-weight="bold" textLength="5.6" lengthAdjust="spacingAndGlyphs">420</text>
<polyline points="375,544 375.1,552 386.1,562" fill="none" stroke="#555" stroke-width="0.7"/>
<line x1="379.2" y1="618" x2="387.2" y2="610" stroke="#555" stroke-width="0.6"/>
<circle cx="393.3" cy="629.6" r="2.5" fill="none" stroke="#555" stroke-width="0.6"/>
<text x="393.3" y="630.9" font-size="3.4" text-anchor="middle" fill="#444">C</text>
<line x1="355.1" y1="559.1" x2="361.1" y2="565" stroke="#555" stroke-width="0.6"/>
<line x1="398.3" y1="640.3" x2="420.3" y2="640.3" stroke="#999" stroke-width="0.4" stroke-dasharray="1.4 1.4"/>
<line x1="427.3" y1="640.9" x2="477.4" y2="690.7" stroke="#555" stroke-width="0.8" stroke-dasharray="17 18.4 17 8 1.5 40"/>
<line x1="421.3" y1="658.9" x2="435.4" y2="672.8" stroke="#555" stroke-width="0.6"/>
<polygon points="418.9,652.5 416.3,657.9 421.5,657.9" fill="#666" stroke="#333" stroke-width="0.5"/>
<line x1="402.3" y1="658.9" x2="421.3" y2="658.9" stroke="#555" stroke-width="0.7"/>
<line x1="367.4" y1="676.2" x2="385.4" y2="676.2" stroke="#444" stroke-width="0.9" stroke-dasharray="4 2"/>
<line x1="372.4" y1="693.2" x2="390.4" y2="693.2" stroke="#555" stroke-width="0.7" stroke-dasharray="3 2"/>
<line x1="386.4" y1="668" x2="386.4" y2="693" stroke="#555" stroke-width="0.7" stroke-dasharray="3 2"/>
<line x1="368.3" y1="660" x2="368.3" y2="676" stroke="#777" stroke-width="0.5" stroke-dasharray="3 2"/>
<polygon points="375.1,714.6 381.7,707.4 388.3,714.6 381.7,721.8" fill="none" stroke="#444" stroke-width="0.7"/>
<circle cx="381.7" cy="714.6" r="5.2" fill="#fff" stroke="#333" stroke-width="0.9"/>
<polygon points="412.5,714.5 419.1,707.3 425.7,714.5 419.1,721.7" fill="none" stroke="#444" stroke-width="0.7"/>
<circle cx="419.1" cy="714.5" r="5.2" fill="#fff" stroke="#333" stroke-width="0.9"/>
<text x="381.7" y="713.8" font-size="5" text-anchor="middle" fill="#333">D1</text>
<text x="381.7" y="718.8" font-size="5" text-anchor="middle" fill="#333">3</text>
<text x="419.7" y="713.7" font-size="5" text-anchor="middle" fill="#333">D6</text>
<text x="419.7" y="718.7" font-size="5" text-anchor="middle" fill="#333">2</text>
<text x="391.5" y="713.8" font-size="3.904" fill="#444" font-weight="bold" textLength="18" lengthAdjust="spacingAndGlyphs">EAVE @ 27c</text>
<polyline points="441.5,712.8 430.5,712.9 430.4,697.9" fill="none" stroke="#444" stroke-width="0.7"/>
<polygon points="430.4,697.3 429.2,700.3 431.6,700.3" fill="#333"/>
<line x1="419" y1="696.9" x2="419" y2="707.9" stroke="#555" stroke-width="0.6"/>
<line x1="381.6" y1="696" x2="381.6" y2="708" stroke="#444" stroke-width="0.7"/>
<line x1="368.8" y1="697" x2="368.8" y2="722" stroke="#777" stroke-width="0.5"/>
<polygon points="368.8,697 367.6,700 370,700" fill="#333"/>
<text x="358.9" y="709.2" font-size="5" text-anchor="middle" fill="#555">V</text>
<text x="351.8" y="692.1" font-size="3.66" text-anchor="middle" fill="#444" font-weight="bold" transform="rotate(-90 351.8 692.1)" textLength="19" lengthAdjust="spacingAndGlyphs">EAVE @ 27c</text>
</g><g transform="rotate(0.2 375.0 530.0)">
<text x="346.5" y="101.7" font-size="4.392" fill="#444" font-weight="bold" textLength="34" lengthAdjust="spacingAndGlyphs">11,390 OVERALL</text>
<line x1="324.5" y1="100.6" x2="345.5" y2="100.6" stroke="#b8b8b8" stroke-width="0.4" stroke-dasharray="4 2"/>
<text x="252.5" y="111" font-size="4.9" fill="#4a4a4a" font-weight="bold" textLength="10.9" lengthAdjust="spacingAndGlyphs">1,390</text>
<text x="354.5" y="110.9" font-size="4.392" fill="#444" font-weight="bold" textLength="46" lengthAdjust="spacingAndGlyphs">10,090 house overall</text>
<line x1="354.5" y1="111.9" x2="400.5" y2="111.9" stroke="#888" stroke-width="0.4"/>
<line x1="401.5" y1="111.3" x2="477.5" y2="111.3" stroke="#b8b8b8" stroke-width="0.4"/>
<text x="263" y="119.4" font-size="4.9" fill="#4a4a4a" font-weight="bold" textLength="7.2" lengthAdjust="spacingAndGlyphs">126</text>
<text x="317.1" y="119.2" font-size="4.9" fill="#4a4a4a" font-weight="bold" textLength="10.9" lengthAdjust="spacingAndGlyphs">4,730</text>
<text x="313.6" y="124.7" font-size="4.9" fill="#4a4a4a" font-weight="bold" textLength="18" lengthAdjust="spacingAndGlyphs">alfresco</text>
<text x="420.6" y="119.8" font-size="4.9" fill="#4a4a4a" font-weight="bold" textLength="10.9" lengthAdjust="spacingAndGlyphs">5,230</text>
<text x="263.4" y="131.4" font-size="4.9" fill="#4a4a4a" font-weight="bold" textLength="7.2" lengthAdjust="spacingAndGlyphs">112</text>
<text x="262.2" y="136.9" font-size="4.9" fill="#4a4a4a" font-weight="bold" textLength="9.6" lengthAdjust="spacingAndGlyphs">post</text>
<text x="312.6" y="131.2" font-size="4.9" fill="#4a4a4a" font-weight="bold" textLength="10.9" lengthAdjust="spacingAndGlyphs">4,506</text>
<text x="309" y="136.7" font-size="4.9" fill="#4a4a4a" font-weight="bold" textLength="18" lengthAdjust="spacingAndGlyphs">alfresco</text>
<text x="360.6" y="131" font-size="4.9" fill="#4a4a4a" font-weight="bold" textLength="7.2" lengthAdjust="spacingAndGlyphs">112</text>
<text x="359.4" y="136.6" font-size="4.9" fill="#4a4a4a" font-weight="bold" textLength="9.6" lengthAdjust="spacingAndGlyphs">post</text>
<text x="263.6" y="143.4" font-size="4.9" fill="#4a4a4a" font-weight="bold" textLength="7.2" lengthAdjust="spacingAndGlyphs">230</text>
<text x="468.3" y="143.5" font-size="4.9" fill="#4a4a4a" font-weight="bold" textLength="7.2" lengthAdjust="spacingAndGlyphs">230</text>
<line x1="269.6" y1="143" x2="274.6" y2="143" stroke="#999" stroke-width="0.4"/>
<text x="263.7" y="155.4" font-size="4.9" fill="#4a4a4a" font-weight="bold" textLength="7.2" lengthAdjust="spacingAndGlyphs">230</text>
<text x="468.3" y="155.5" font-size="4.9" fill="#4a4a4a" font-weight="bold" textLength="7.2" lengthAdjust="spacingAndGlyphs">230</text>
<line x1="269.7" y1="155" x2="274.7" y2="155" stroke="#999" stroke-width="0.4"/>
<text x="263.7" y="168" font-size="4.9" fill="#4a4a4a" font-weight="bold" textLength="7.2" lengthAdjust="spacingAndGlyphs">230</text>
<text x="468.3" y="168.1" font-size="4.9" fill="#4a4a4a" font-weight="bold" textLength="7.2" lengthAdjust="spacingAndGlyphs">230</text>
<line x1="269.7" y1="167.6" x2="274.7" y2="167.6" stroke="#999" stroke-width="0.4"/>
<text x="263.8" y="179.2" font-size="4.9" fill="#4a4a4a" font-weight="bold" textLength="7.2" lengthAdjust="spacingAndGlyphs">230</text>
<text x="468.4" y="179.3" font-size="4.9" fill="#4a4a4a" font-weight="bold" textLength="7.2" lengthAdjust="spacingAndGlyphs">230</text>
<line x1="269.8" y1="178.8" x2="274.8" y2="178.8" stroke="#999" stroke-width="0.4"/>
<text x="263.8" y="190.6" font-size="4.9" fill="#4a4a4a" font-weight="bold" textLength="7.2" lengthAdjust="spacingAndGlyphs">230</text>
<text x="468.4" y="190.7" font-size="4.9" fill="#4a4a4a" font-weight="bold" textLength="7.2" lengthAdjust="spacingAndGlyphs">230</text>
<line x1="269.8" y1="190.2" x2="274.8" y2="190.2" stroke="#999" stroke-width="0.4"/>
<text x="277.2" y="143.3" font-size="4.9" fill="#4a4a4a" font-weight="bold" textLength="7.2" lengthAdjust="spacingAndGlyphs">550</text>
<text x="277.1" y="148.9" font-size="4.9" fill="#4a4a4a" font-weight="bold" textLength="7.2" lengthAdjust="spacingAndGlyphs">pty</text>
<text x="290.2" y="143.3" font-size="4.9" fill="#4a4a4a" font-weight="bold" textLength="4.8" lengthAdjust="spacingAndGlyphs">90</text>
<text x="375.6" y="143" font-size="4.9" fill="#4a4a4a" font-weight="bold" textLength="10.9" lengthAdjust="spacingAndGlyphs">8,990</text>
<text x="359.7" y="148.9" font-size="4.392" fill="#444" font-weight="bold" textLength="42" lengthAdjust="spacingAndGlyphs">kitchen / dining / living</text>
<text x="366.7" y="155" font-size="4.9" fill="#4a4a4a" font-weight="bold" textLength="10.9" lengthAdjust="spacingAndGlyphs">8,630</text>
<text x="350.7" y="160.5" font-size="4.392" fill="#444" font-weight="bold" textLength="42" lengthAdjust="spacingAndGlyphs">kitchen / dining / living</text>
<line x1="330.7" y1="156.8" x2="348.7" y2="156.8" stroke="#999" stroke-width="0.4" stroke-dasharray="5 2"/>
<text x="286.3" y="167.9" font-size="4.9" fill="#4a4a4a" font-weight="bold" textLength="10.9" lengthAdjust="spacingAndGlyphs">1,800</text>
<text x="287" y="173.4" font-size="4.9" fill="#4a4a4a" font-weight="bold" textLength="9.5" lengthAdjust="spacingAndGlyphs">linen</text>
<text x="306.7" y="167.8" font-size="4.9" fill="#4a4a4a" font-weight="bold" textLength="4.8" lengthAdjust="spacingAndGlyphs">90</text>
<text x="320.7" y="167.8" font-size="4.9" fill="#4a4a4a" font-weight="bold" textLength="7.2" lengthAdjust="spacingAndGlyphs">940</text>
<text x="319.6" y="173.3" font-size="4.9" fill="#4a4a4a" font-weight="bold" textLength="9.6" lengthAdjust="spacingAndGlyphs">pass</text>
<text x="337.3" y="167.7" font-size="4.9" fill="#4a4a4a" font-weight="bold" textLength="4.8" lengthAdjust="spacingAndGlyphs">90</text>
<text x="346.3" y="167.7" font-size="4.9" fill="#4a4a4a" font-weight="bold" textLength="10.9" lengthAdjust="spacingAndGlyphs">1,490</text>
<text x="348.2" y="173.2" font-size="4.9" fill="#4a4a4a" font-weight="bold" textLength="7.2" lengthAdjust="spacingAndGlyphs">pty</text>
<text x="361.7" y="167.6" font-size="4.9" fill="#4a4a4a" font-weight="bold" textLength="4.8" lengthAdjust="spacingAndGlyphs">90</text>
<text x="371.9" y="167.8" font-size="4.9" fill="#4a4a4a" font-weight="bold" textLength="10.9" lengthAdjust="spacingAndGlyphs">1,040</text>
<text x="372.6" y="173.3" font-size="4.9" fill="#4a4a4a" font-weight="bold" textLength="9.6" lengthAdjust="spacingAndGlyphs">pass</text>
<text x="385.1" y="168" font-size="4.9" fill="#4a4a4a" font-weight="bold" textLength="4.8" lengthAdjust="spacingAndGlyphs">90</text>
<text x="394.7" y="167.9" font-size="4.9" fill="#4a4a4a" font-weight="bold" textLength="7.2" lengthAdjust="spacingAndGlyphs">620</text>
<text x="393.6" y="173.4" font-size="4.9" fill="#4a4a4a" font-weight="bold" textLength="9.6" lengthAdjust="spacingAndGlyphs">robe</text>
<text x="431.7" y="168.2" font-size="4.9" fill="#4a4a4a" font-weight="bold" textLength="10.9" lengthAdjust="spacingAndGlyphs">3,380</text>
<text x="431.7" y="173.7" font-size="4.9" fill="#4a4a4a" font-weight="bold" textLength="10.9" lengthAdjust="spacingAndGlyphs">bed 2</text>
<text x="286.3" y="179.1" font-size="4.9" fill="#4a4a4a" font-weight="bold" textLength="10.9" lengthAdjust="spacingAndGlyphs">1,800</text>
<text x="284" y="184.6" font-size="4.9" fill="#4a4a4a" font-weight="bold" textLength="15.6" lengthAdjust="spacingAndGlyphs">laundry</text>
<text x="306.8" y="179" font-size="4.9" fill="#4a4a4a" font-weight="bold" textLength="4.8" lengthAdjust="spacingAndGlyphs">90</text>
<text x="334.3" y="178.9" font-size="4.9" fill="#4a4a4a" font-weight="bold" textLength="10.9" lengthAdjust="spacingAndGlyphs">1,520</text>
<text x="331.4" y="184.4" font-size="4.9" fill="#4a4a4a" font-weight="bold" textLength="16.7" lengthAdjust="spacingAndGlyphs">scullery</text>
<text x="361.8" y="178.8" font-size="4.9" fill="#4a4a4a" font-weight="bold" textLength="4.8" lengthAdjust="spacingAndGlyphs">90</text>
<text x="371.9" y="179" font-size="4.9" fill="#4a4a4a" font-weight="bold" textLength="10.9" lengthAdjust="spacingAndGlyphs">1,040</text>
<text x="372.6" y="184.5" font-size="4.9" fill="#4a4a4a" font-weight="bold" textLength="9.6" lengthAdjust="spacingAndGlyphs">pass</text>
<text x="385.2" y="179.2" font-size="4.9" fill="#4a4a4a" font-weight="bold" textLength="4.8" lengthAdjust="spacingAndGlyphs">90</text>
<text x="425.2" y="179.4" font-size="4.9" fill="#4a4a4a" font-weight="bold" textLength="10.9" lengthAdjust="spacingAndGlyphs">4,000</text>
<text x="425.2" y="184.9" font-size="4.9" fill="#4a4a4a" font-weight="bold" textLength="10.9" lengthAdjust="spacingAndGlyphs">bed 2</text>
<line x1="316.8" y1="180.8" x2="344.8" y2="180.8" stroke="#777" stroke-width="0.5"/>
<text x="314.4" y="190.4" font-size="4.9" fill="#4a4a4a" font-weight="bold" textLength="10.9" lengthAdjust="spacingAndGlyphs">4,410</text>
<text x="313.8" y="195.9" font-size="4.9" fill="#4a4a4a" font-weight="bold" textLength="12" lengthAdjust="spacingAndGlyphs">study</text>
<text x="361.8" y="190.2" font-size="4.9" fill="#4a4a4a" font-weight="bold" textLength="4.8" lengthAdjust="spacingAndGlyphs">90</text>
<text x="372" y="190.4" font-size="4.9" fill="#4a4a4a" font-weight="bold" textLength="10.9" lengthAdjust="spacingAndGlyphs">1,040</text>
<text x="372.6" y="195.9" font-size="4.9" fill="#4a4a4a" font-weight="bold" textLength="9.6" lengthAdjust="spacingAndGlyphs">pass</text>
<text x="385.2" y="190.6" font-size="4.9" fill="#4a4a4a" font-weight="bold" textLength="4.8" lengthAdjust="spacingAndGlyphs">90</text>
<text x="406" y="190.7" font-size="4.9" fill="#4a4a4a" font-weight="bold" textLength="10.9" lengthAdjust="spacingAndGlyphs">2,070</text>
<text x="406.6" y="196.2" font-size="4.9" fill="#4a4a4a" font-weight="bold" textLength="9.6" lengthAdjust="spacingAndGlyphs">pass</text>
<text x="429.8" y="190.8" font-size="4.9" fill="#4a4a4a" font-weight="bold" textLength="4.8" lengthAdjust="spacingAndGlyphs">90</text>
<text x="448.2" y="190.9" font-size="4.9" fill="#4a4a4a" font-weight="bold" textLength="10.9" lengthAdjust="spacingAndGlyphs">1,840</text>
<text x="450.8" y="196.4" font-size="4.9" fill="#4a4a4a" font-weight="bold" textLength="5.8" lengthAdjust="spacingAndGlyphs">wc</text>
<line x1="331.8" y1="191.7" x2="348.8" y2="191.7" stroke="#999" stroke-width="0.4" stroke-dasharray="5 2"/>
<text x="236.9" y="201.5" font-size="4.9" fill="#4a4a4a" font-weight="bold" textLength="7.2" lengthAdjust="spacingAndGlyphs">190</text>
<text x="255.3" y="201.4" font-size="4.9" fill="#4a4a4a" font-weight="bold" textLength="7.2" lengthAdjust="spacingAndGlyphs">948</text>
<text x="254.1" y="206.9" font-size="4.9" fill="#4a4a4a" font-weight="bold" textLength="9.6" lengthAdjust="spacingAndGlyphs">door</text>
<text x="270.9" y="201.4" font-size="4.9" fill="#4a4a4a" font-weight="bold" textLength="4.8" lengthAdjust="spacingAndGlyphs">71</text>
<text x="290.5" y="201.3" font-size="4.9" fill="#4a4a4a" font-weight="bold" textLength="10.9" lengthAdjust="spacingAndGlyphs">2,190</text>
<text x="334" y="201.1" font-size="4.9" fill="#4a4a4a" font-weight="bold" textLength="10.9" lengthAdjust="spacingAndGlyphs">2,410</text>
<text x="332.8" y="206.6" font-size="4.9" fill="#4a4a4a" font-weight="bold" textLength="13.3" lengthAdjust="spacingAndGlyphs">s/door</text>
<text x="378.9" y="201.2" font-size="4.9" fill="#4a4a4a" font-weight="bold" textLength="10.9" lengthAdjust="spacingAndGlyphs">1,690</text>
<text x="424.4" y="201.4" font-size="4.9" fill="#4a4a4a" font-weight="bold" textLength="10.9" lengthAdjust="spacingAndGlyphs">3,710</text>
<text x="425.8" y="206.9" font-size="4.9" fill="#4a4a4a" font-weight="bold" textLength="8.2" lengthAdjust="spacingAndGlyphs">w/in</text>
<text x="464.3" y="202.1" font-size="4.9" fill="#4a4a4a" font-weight="bold" textLength="10.9" lengthAdjust="spacingAndGlyphs">1,090</text>
<line x1="301.9" y1="202.7" x2="370.9" y2="202.7" stroke="#888" stroke-width="0.5" stroke-dasharray="1.2 1.2"/>
<line x1="245.5" y1="105.4" x2="245.5" y2="210.4" stroke="#b8b8b8" stroke-width="0.4"/>
<line x1="272.6" y1="120.4" x2="272.6" y2="210.4" stroke="#aaa" stroke-width="0.5"/>
<line x1="315.7" y1="160.2" x2="315.7" y2="212.2" stroke="#666" stroke-width="0.9" stroke-dasharray="3 1"/>
<line x1="367.3" y1="164" x2="367.3" y2="206" stroke="#999" stroke-width="0.5"/>
<line x1="481.9" y1="99.6" x2="481.9" y2="211.6" stroke="#b8b8b8" stroke-width="0.4" stroke-dasharray="14 3"/>
<line x1="403.3" y1="163.9" x2="403.3" y2="175.9" stroke="#666" stroke-width="0.6"/>
<line x1="436.4" y1="187.8" x2="436.4" y2="199.8" stroke="#666" stroke-width="0.8"/>
<line x1="457.8" y1="196.7" x2="457.8" y2="209.7" stroke="#888" stroke-width="0.6"/>
<text x="356.1" y="726.5" font-size="4.9" fill="#4a4a4a" font-weight="bold" textLength="7.2" lengthAdjust="spacingAndGlyphs">405</text>
<text x="355.5" y="732" font-size="4.9" fill="#4a4a4a" font-weight="bold" textLength="8.4" lengthAdjust="spacingAndGlyphs">pier</text>
<rect x="365.7" y="729.4" width="8" height="5" fill="none" stroke="#888" stroke-width="0.4"/>
<text x="369.7" y="733.4" font-size="3.6" text-anchor="middle" fill="#4a4a4a">427</text>
<text x="392.3" y="727.1" font-size="4.9" fill="#4a4a4a" font-weight="bold" textLength="10.9" lengthAdjust="spacingAndGlyphs">3,395</text>
<text x="388.7" y="732.6" font-size="4.392" fill="#444" font-weight="bold" textLength="17" lengthAdjust="spacingAndGlyphs">back door</text>
<text x="424.5" y="727.4" font-size="4.9" fill="#4a4a4a" font-weight="bold" textLength="7.2" lengthAdjust="spacingAndGlyphs">485</text>
<text x="423.9" y="732.9" font-size="4.9" fill="#4a4a4a" font-weight="bold" textLength="8.4" lengthAdjust="spacingAndGlyphs">pier</text>
<text x="245.7" y="738.5" font-size="4.9" fill="#4a4a4a" font-weight="bold" textLength="7.2" lengthAdjust="spacingAndGlyphs">400</text>
<text x="299.3" y="738.3" font-size="4.9" fill="#4a4a4a" font-weight="bold" textLength="10.9" lengthAdjust="spacingAndGlyphs">5,810</text>
<text x="292.1" y="743.8" font-size="4.9" fill="#4a4a4a" font-weight="bold" textLength="25.3" lengthAdjust="spacingAndGlyphs">garage door</text>
<text x="353.7" y="738.3" font-size="4.9" fill="#4a4a4a" font-weight="bold" textLength="7.2" lengthAdjust="spacingAndGlyphs">200</text>
<text x="379.1" y="738.4" font-size="4.9" fill="#4a4a4a" font-weight="bold" textLength="7.2" lengthAdjust="spacingAndGlyphs">890</text>
<text x="377.9" y="743.9" font-size="4.9" fill="#4a4a4a" font-weight="bold" textLength="9.6" lengthAdjust="spacingAndGlyphs">door</text>
<text x="394.7" y="738.5" font-size="4.9" fill="#4a4a4a" font-weight="bold" textLength="7.2" lengthAdjust="spacingAndGlyphs">100</text>
<text x="412.7" y="738.7" font-size="4.9" fill="#4a4a4a" font-weight="bold" textLength="10.9" lengthAdjust="spacingAndGlyphs">1,890</text>
<text x="446.7" y="738.8" font-size="4.9" fill="#4a4a4a" font-weight="bold" textLength="10.9" lengthAdjust="spacingAndGlyphs">1,810</text>
<text x="448.1" y="744.2" font-size="4.9" fill="#4a4a4a" font-weight="bold" textLength="8.2" lengthAdjust="spacingAndGlyphs">w/in</text>
<text x="470.7" y="739.1" font-size="4.9" fill="#4a4a4a" font-weight="bold" textLength="7.2" lengthAdjust="spacingAndGlyphs">490</text>
<line x1="290.7" y1="739.7" x2="318.7" y2="739.7" stroke="#999" stroke-width="0.4"/>
<text x="261.8" y="749.4" font-size="4.9" fill="#4a4a4a" font-weight="bold" textLength="7.2" lengthAdjust="spacingAndGlyphs">230</text>
<text x="313.9" y="749.2" font-size="4.9" fill="#4a4a4a" font-weight="bold" textLength="10.9" lengthAdjust="spacingAndGlyphs">4,410</text>
<text x="314.6" y="754.7" font-size="4.9" fill="#4a4a4a" font-weight="bold" textLength="9.6" lengthAdjust="spacingAndGlyphs">l&#x27;dry</text>
<line x1="268.8" y1="750.6" x2="330.8" y2="750.6" stroke="#b8b8b8" stroke-width="0.4"/>
<text x="264.4" y="761" font-size="4.9" fill="#4a4a4a" font-weight="bold" textLength="4.8" lengthAdjust="spacingAndGlyphs">90</text>
<text x="279.2" y="761.1" font-size="4.9" fill="#4a4a4a" font-weight="bold" textLength="7.2" lengthAdjust="spacingAndGlyphs">300</text>
<text x="278.6" y="766.6" font-size="4.9" fill="#4a4a4a" font-weight="bold" textLength="8.4" lengthAdjust="spacingAndGlyphs">pier</text>
<text x="291.4" y="761.1" font-size="4.9" fill="#4a4a4a" font-weight="bold" textLength="10.9" lengthAdjust="spacingAndGlyphs">1,710</text>
<text x="306.2" y="761" font-size="4.9" fill="#4a4a4a" font-weight="bold" textLength="7.2" lengthAdjust="spacingAndGlyphs">290</text>
<text x="305.6" y="766.5" font-size="4.9" fill="#4a4a4a" font-weight="bold" textLength="8.4" lengthAdjust="spacingAndGlyphs">pier</text>
<text x="336.8" y="761.1" font-size="4.9" fill="#4a4a4a" font-weight="bold" textLength="10.9" lengthAdjust="spacingAndGlyphs">2,250</text>
<text x="249.8" y="772.4" font-size="4.9" fill="#4a4a4a" font-weight="bold" textLength="10.9" lengthAdjust="spacingAndGlyphs">1,200</text>
<text x="264.4" y="772.4" font-size="4.9" fill="#4a4a4a" font-weight="bold" textLength="4.8" lengthAdjust="spacingAndGlyphs">90</text>
<text x="312.4" y="772.2" font-size="4.9" fill="#4a4a4a" font-weight="bold" textLength="10.9" lengthAdjust="spacingAndGlyphs">4,500</text>
<text x="310.7" y="777.7" font-size="4.9" fill="#4a4a4a" font-weight="bold" textLength="14.4" lengthAdjust="spacingAndGlyphs">garage</text>
<line x1="304.9" y1="773.6" x2="335.9" y2="773.6" stroke="#999" stroke-width="0.4"/>
<text x="237.9" y="783.7" font-size="4.9" fill="#4a4a4a" font-weight="bold" textLength="4.8" lengthAdjust="spacingAndGlyphs">90</text>
<text x="299.5" y="783.5" font-size="4.9" fill="#4a4a4a" font-weight="bold" textLength="10.9" lengthAdjust="spacingAndGlyphs">5,750</text>
<text x="288.7" y="789" font-size="4.9" fill="#4a4a4a" font-weight="bold" textLength="32.4" lengthAdjust="spacingAndGlyphs">garage internal</text>
<text x="236.5" y="795.5" font-size="4.9" fill="#4a4a4a" font-weight="bold" textLength="7.2" lengthAdjust="spacingAndGlyphs">190</text>
<text x="296.5" y="795.3" font-size="4.9" fill="#4a4a4a" font-weight="bold" textLength="10.9" lengthAdjust="spacingAndGlyphs">5,500</text>
<text x="279.2" y="800.8" font-size="4.9" fill="#4a4a4a" font-weight="bold" textLength="45.4" lengthAdjust="spacingAndGlyphs">garage between piers</text>
<line x1="245.9" y1="796.9" x2="355.9" y2="796.9" stroke="#999" stroke-width="0.5" stroke-dasharray="1.2 1.2"/>
<text x="296.5" y="806.7" font-size="4.9" fill="#4a4a4a" font-weight="bold" textLength="10.9" lengthAdjust="spacingAndGlyphs">5,760</text>
<text x="290" y="812.2" font-size="4.9" fill="#4a4a4a" font-weight="bold" textLength="24" lengthAdjust="spacingAndGlyphs">garage o&#x27;all</text>
<text x="299.6" y="831.7" font-size="4.9" fill="#4a4a4a" font-weight="bold" textLength="10.9" lengthAdjust="spacingAndGlyphs">5,700</text>
<text x="252.1" y="840.8" font-size="4.9" fill="#4a4a4a" font-weight="bold" textLength="10.9" lengthAdjust="spacingAndGlyphs">1,200</text>
<line x1="251.1" y1="842" x2="264.1" y2="842" stroke="#888" stroke-width="0.4"/>
<text x="314.7" y="840.8" font-size="4.9" fill="#4a4a4a" font-weight="bold" textLength="10.9" lengthAdjust="spacingAndGlyphs">4,540</text>
<text x="375.7" y="840.8" font-size="4.9" fill="#4a4a4a" font-weight="bold" textLength="10.9" lengthAdjust="spacingAndGlyphs">1,200</text>
<text x="252.1" y="850.2" font-size="4.9" fill="#4a4a4a" font-weight="bold" textLength="10.9" lengthAdjust="spacingAndGlyphs">1,390</text>
<text x="355.7" y="850.5" font-size="4.392" fill="#444" font-weight="bold" textLength="46" lengthAdjust="spacingAndGlyphs">10,090 house overall</text>
<text x="347.2" y="860.1" font-size="4.392" fill="#444" font-weight="bold" textLength="33" lengthAdjust="spacingAndGlyphs">11,390 OVERALL</text>
<text x="362.8" y="749.2" font-size="4.9" fill="#4a4a4a" font-weight="bold" textLength="4.8" lengthAdjust="spacingAndGlyphs">90</text>
<text x="373.7" y="749.3" font-size="4.9" fill="#4a4a4a" font-weight="bold" textLength="10.9" lengthAdjust="spacingAndGlyphs">1,040</text>
<text x="373.2" y="754.8" font-size="4.9" fill="#4a4a4a" font-weight="bold" textLength="12" lengthAdjust="spacingAndGlyphs">entry</text>
<text x="387.2" y="749.4" font-size="4.9" fill="#4a4a4a" font-weight="bold" textLength="4.8" lengthAdjust="spacingAndGlyphs">90</text>
<text x="468.6" y="749.8" font-size="4.9" fill="#4a4a4a" font-weight="bold" textLength="7.2" lengthAdjust="spacingAndGlyphs">230</text>
<text x="362.8" y="760.8" font-size="4.9" fill="#4a4a4a" font-weight="bold" textLength="4.8" lengthAdjust="spacingAndGlyphs">90</text>
<text x="373.8" y="760.9" font-size="4.9" fill="#4a4a4a" font-weight="bold" textLength="10.9" lengthAdjust="spacingAndGlyphs">1,040</text>
<text x="373.2" y="766.4" font-size="4.9" fill="#4a4a4a" font-weight="bold" textLength="12" lengthAdjust="spacingAndGlyphs">entry</text>
<text x="387.2" y="761" font-size="4.9" fill="#4a4a4a" font-weight="bold" textLength="4.8" lengthAdjust="spacingAndGlyphs">90</text>
<text x="468.6" y="761.4" font-size="4.9" fill="#4a4a4a" font-weight="bold" textLength="7.2" lengthAdjust="spacingAndGlyphs">230</text>
<text x="362.8" y="772.2" font-size="4.9" fill="#4a4a4a" font-weight="bold" textLength="4.8" lengthAdjust="spacingAndGlyphs">90</text>
<text x="373.8" y="772.3" font-size="4.9" fill="#4a4a4a" font-weight="bold" textLength="10.9" lengthAdjust="spacingAndGlyphs">1,040</text>
<text x="373.3" y="777.8" font-size="4.9" fill="#4a4a4a" font-weight="bold" textLength="12" lengthAdjust="spacingAndGlyphs">entry</text>
<text x="387.2" y="772.4" font-size="4.9" fill="#4a4a4a" font-weight="bold" textLength="4.8" lengthAdjust="spacingAndGlyphs">90</text>
<text x="468.6" y="772.8" font-size="4.9" fill="#4a4a4a" font-weight="bold" textLength="7.2" lengthAdjust="spacingAndGlyphs">230</text>
<text x="362.9" y="783.4" font-size="4.9" fill="#4a4a4a" font-weight="bold" textLength="4.8" lengthAdjust="spacingAndGlyphs">90</text>
<text x="373.9" y="783.5" font-size="4.9" fill="#4a4a4a" font-weight="bold" textLength="10.9" lengthAdjust="spacingAndGlyphs">1,040</text>
<text x="373.3" y="789" font-size="4.9" fill="#4a4a4a" font-weight="bold" textLength="12" lengthAdjust="spacingAndGlyphs">entry</text>
<text x="387.3" y="783.6" font-size="4.9" fill="#4a4a4a" font-weight="bold" textLength="4.8" lengthAdjust="spacingAndGlyphs">90</text>
<text x="468.7" y="784" font-size="4.9" fill="#4a4a4a" font-weight="bold" textLength="7.2" lengthAdjust="spacingAndGlyphs">230</text>
<text x="357.9" y="795.3" font-size="4.9" fill="#4a4a4a" font-weight="bold" textLength="7.2" lengthAdjust="spacingAndGlyphs">190</text>
<text x="373.9" y="795.3" font-size="4.9" fill="#4a4a4a" font-weight="bold" textLength="10.9" lengthAdjust="spacingAndGlyphs">1,040</text>
<text x="373.3" y="800.8" font-size="4.9" fill="#4a4a4a" font-weight="bold" textLength="12" lengthAdjust="spacingAndGlyphs">entry</text>
<text x="387.3" y="795.4" font-size="4.9" fill="#4a4a4a" font-weight="bold" textLength="4.8" lengthAdjust="spacingAndGlyphs">90</text>
<text x="468.7" y="795.8" font-size="4.9" fill="#4a4a4a" font-weight="bold" textLength="7.2" lengthAdjust="spacingAndGlyphs">230</text>
<text x="357" y="807.3" font-size="4.9" fill="#4a4a4a" font-weight="bold" textLength="7.2" lengthAdjust="spacingAndGlyphs">230</text>
<text x="375.5" y="807.4" font-size="4.9" fill="#4a4a4a" font-weight="bold" textLength="10.9" lengthAdjust="spacingAndGlyphs">1,310</text>
<text x="375" y="812.9" font-size="4.9" fill="#4a4a4a" font-weight="bold" textLength="12" lengthAdjust="spacingAndGlyphs">entry</text>
<text x="391.6" y="807.5" font-size="4.9" fill="#4a4a4a" font-weight="bold" textLength="4.8" lengthAdjust="spacingAndGlyphs">90</text>
<text x="428.1" y="807.6" font-size="4.9" fill="#4a4a4a" font-weight="bold" textLength="10.9" lengthAdjust="spacingAndGlyphs">3,730</text>
<text x="419.9" y="813.1" font-size="4.9" fill="#4a4a4a" font-weight="bold" textLength="27.4" lengthAdjust="spacingAndGlyphs">master suite</text>
<text x="468.8" y="807.9" font-size="4.9" fill="#4a4a4a" font-weight="bold" textLength="7.2" lengthAdjust="spacingAndGlyphs">230</text>
<text x="373.2" y="819.2" font-size="4.9" fill="#4a4a4a" font-weight="bold" textLength="10.9" lengthAdjust="spacingAndGlyphs">1,400</text>
<text x="372.6" y="824.7" font-size="4.9" fill="#4a4a4a" font-weight="bold" textLength="12" lengthAdjust="spacingAndGlyphs">porch</text>
<text x="385.6" y="819.4" font-size="4.9" fill="#4a4a4a" font-weight="bold" textLength="7.2" lengthAdjust="spacingAndGlyphs">220</text>
<text x="428.2" y="819.6" font-size="4.9" fill="#4a4a4a" font-weight="bold" textLength="10.9" lengthAdjust="spacingAndGlyphs">3,730</text>
<text x="419.9" y="825.1" font-size="4.9" fill="#4a4a4a" font-weight="bold" textLength="27.4" lengthAdjust="spacingAndGlyphs">master suite</text>
<text x="468.8" y="819.9" font-size="4.9" fill="#4a4a4a" font-weight="bold" textLength="7.2" lengthAdjust="spacingAndGlyphs">230</text>
<line x1="401" y1="808.9" x2="466" y2="808.9" stroke="#777" stroke-width="0.5"/>
<line x1="399" y1="820.9" x2="446" y2="820.9" stroke="#777" stroke-width="0.5"/>
<line x1="373" y1="808.6" x2="393" y2="808.6" stroke="#888" stroke-width="0.4"/>
<line x1="372" y1="820.4" x2="389" y2="820.4" stroke="#888" stroke-width="0.4"/>
<text x="406.3" y="749.3" font-size="4.9" fill="#4a4a4a" font-weight="bold" textLength="10.9" lengthAdjust="spacingAndGlyphs">2,070</text>
<text x="407" y="754.8" font-size="4.9" fill="#4a4a4a" font-weight="bold" textLength="9.6" lengthAdjust="spacingAndGlyphs">pass</text>
<text x="430.8" y="749.4" font-size="4.9" fill="#4a4a4a" font-weight="bold" textLength="4.8" lengthAdjust="spacingAndGlyphs">90</text>
<text x="448.3" y="749.5" font-size="4.9" fill="#4a4a4a" font-weight="bold" textLength="10.9" lengthAdjust="spacingAndGlyphs">1,840</text>
<text x="450.9" y="755" font-size="4.9" fill="#4a4a4a" font-weight="bold" textLength="5.8" lengthAdjust="spacingAndGlyphs">wc</text>
<text x="398.8" y="760.9" font-size="4.9" fill="#4a4a4a" font-weight="bold" textLength="7.2" lengthAdjust="spacingAndGlyphs">940</text>
<text x="397.6" y="766.4" font-size="4.9" fill="#4a4a4a" font-weight="bold" textLength="9.6" lengthAdjust="spacingAndGlyphs">pass</text>
<text x="414.8" y="761.1" font-size="4.9" fill="#4a4a4a" font-weight="bold" textLength="4.8" lengthAdjust="spacingAndGlyphs">90</text>
<text x="439" y="761.2" font-size="4.9" fill="#4a4a4a" font-weight="bold" textLength="10.9" lengthAdjust="spacingAndGlyphs">2,070</text>
<text x="439.6" y="766.7" font-size="4.9" fill="#4a4a4a" font-weight="bold" textLength="9.6" lengthAdjust="spacingAndGlyphs">bath</text>
<text x="426.8" y="772.4" font-size="4.9" fill="#4a4a4a" font-weight="bold" textLength="10.9" lengthAdjust="spacingAndGlyphs">4,000</text>
<text x="426.8" y="777.9" font-size="4.9" fill="#4a4a4a" font-weight="bold" textLength="10.9" lengthAdjust="spacingAndGlyphs">bed 3</text>
<text x="395.3" y="783.7" font-size="4.9" fill="#4a4a4a" font-weight="bold" textLength="7.2" lengthAdjust="spacingAndGlyphs">620</text>
<text x="394.1" y="789.2" font-size="4.9" fill="#4a4a4a" font-weight="bold" textLength="9.6" lengthAdjust="spacingAndGlyphs">robe</text>
<text x="432.1" y="784" font-size="4.9" fill="#4a4a4a" font-weight="bold" textLength="10.9" lengthAdjust="spacingAndGlyphs">3,370</text>
<text x="432.1" y="789.5" font-size="4.9" fill="#4a4a4a" font-weight="bold" textLength="10.9" lengthAdjust="spacingAndGlyphs">bed 3</text>
<line x1="405.9" y1="785.7" x2="431.9" y2="785.7" stroke="#777" stroke-width="0.5"/>
<text x="400.1" y="795.5" font-size="4.9" fill="#4a4a4a" font-weight="bold" textLength="10.9" lengthAdjust="spacingAndGlyphs">1,440</text>
<text x="402.1" y="801" font-size="4.9" fill="#4a4a4a" font-weight="bold" textLength="6.9" lengthAdjust="spacingAndGlyphs">wir</text>
<text x="416.9" y="795.7" font-size="4.9" fill="#4a4a4a" font-weight="bold" textLength="4.8" lengthAdjust="spacingAndGlyphs">90</text>
<text x="441.5" y="795.8" font-size="4.9" fill="#4a4a4a" font-weight="bold" textLength="10.9" lengthAdjust="spacingAndGlyphs">2,470</text>
<text x="443.3" y="801.3" font-size="4.9" fill="#4a4a4a" font-weight="bold" textLength="7.2" lengthAdjust="spacingAndGlyphs">ens</text>
<line x1="421.9" y1="797.2" x2="465.9" y2="797.2" stroke="#888" stroke-width="0.5" stroke-dasharray="22 3 2 3"/>
<text x="393.7" y="831.7" font-size="4.9" fill="#4a4a4a" font-weight="bold" textLength="10.9" lengthAdjust="spacingAndGlyphs">3,290</text>
<text x="452.1" y="832.1" font-size="4.9" fill="#4a4a4a" font-weight="bold" textLength="10.9" lengthAdjust="spacingAndGlyphs">3,300</text>
<text x="432.1" y="841.2" font-size="4.9" fill="#4a4a4a" font-weight="bold" textLength="10.9" lengthAdjust="spacingAndGlyphs">4,190</text>
<line x1="243.7" y1="730.5" x2="243.7" y2="862.5" stroke="#b8b8b8" stroke-width="0.4"/>
<line x1="480.3" y1="729.6" x2="480.3" y2="861.6" stroke="#aaa" stroke-width="0.5" stroke-dasharray="16 3"/>
<line x1="392.7" y1="734.9" x2="392.7" y2="851.9" stroke="#b8b8b8" stroke-width="0.4"/>
<line x1="405.5" y1="775.9" x2="405.5" y2="787.9" stroke="#666" stroke-width="0.6"/>
<line x1="422.9" y1="788.8" x2="422.9" y2="799.8" stroke="#666" stroke-width="0.8"/>
<line x1="397.3" y1="800.9" x2="397.3" y2="825.9" stroke="#666" stroke-width="0.8"/>
<line x1="269.4" y1="746.4" x2="269.4" y2="766.4" stroke="#aaa" stroke-width="0.4"/>
<line x1="320.8" y1="752.2" x2="320.8" y2="764.2" stroke="#999" stroke-width="0.4"/>
<line x1="247.3" y1="788.4" x2="247.3" y2="800.4" stroke="#777" stroke-width="0.6"/>
<text x="102.4" y="468.6" font-size="4.1" text-anchor="middle" fill="#4a4a4a" font-weight="bold" transform="rotate(-90 102.4 468.6)" textLength="29.6" lengthAdjust="spacingAndGlyphs">21,870 OVERALL</text>
<line x1="103.4" y1="437.9" x2="103.4" y2="485.9" stroke="#666" stroke-width="0.5"/>
<text x="113.8" y="495.4" font-size="4.1" text-anchor="middle" fill="#4a4a4a" font-weight="bold" transform="rotate(-90 113.8 495.4)" textLength="35.2" lengthAdjust="spacingAndGlyphs">19,990 house overall</text>
<line x1="114.7" y1="437.9" x2="114.7" y2="516.9" stroke="#666" stroke-width="0.5"/>
<text x="113.7" y="268.9" font-size="4.8" text-anchor="middle" fill="#4a4a4a" font-weight="bold" transform="rotate(-90 113.7 268.9)" textLength="10.6" lengthAdjust="spacingAndGlyphs">2,880</text>
<text x="125.1" y="390.9" font-size="4.8" text-anchor="middle" fill="#4a4a4a" font-weight="bold" transform="rotate(-90 125.1 390.9)" textLength="10.6" lengthAdjust="spacingAndGlyphs">9,690</text>
<text x="125.3" y="573.2" font-size="4.8" text-anchor="middle" fill="#4a4a4a" font-weight="bold" transform="rotate(-90 125.3 573.2)" textLength="10.6" lengthAdjust="spacingAndGlyphs">8,090</text>
<text x="125.7" y="670.3" font-size="4.8" text-anchor="middle" fill="#4a4a4a" font-weight="bold" transform="rotate(-90 125.7 670.3)" textLength="10.6" lengthAdjust="spacingAndGlyphs">1,579</text>
<text x="125.7" y="685.9" font-size="4.8" text-anchor="middle" fill="#4a4a4a" font-weight="bold" transform="rotate(-90 125.7 685.9)" textLength="7.1" lengthAdjust="spacingAndGlyphs">226</text>
<text x="136.1" y="678" font-size="4.8" text-anchor="middle" fill="#4a4a4a" font-weight="bold" transform="rotate(-90 136.1 678)" textLength="10.6" lengthAdjust="spacingAndGlyphs">1,900</text>
<text x="113.7" y="701.5" font-size="4.8" text-anchor="middle" fill="#4a4a4a" font-weight="bold" transform="rotate(-90 113.7 701.5)" textLength="7.1" lengthAdjust="spacingAndGlyphs">106</text>
<text x="124.9" y="701.5" font-size="4.8" text-anchor="middle" fill="#4a4a4a" font-weight="bold" transform="rotate(-90 124.9 701.5)" textLength="7.1" lengthAdjust="spacingAndGlyphs">106</text>
<text x="137.4" y="406.8" font-size="4.8" text-anchor="middle" fill="#aaa" font-weight="bold" transform="rotate(-90 137.4 406.8)" textLength="10.6" lengthAdjust="spacingAndGlyphs">1,530</text>
<text x="137" y="581.8" font-size="4.6" text-anchor="middle" fill="#4a4a4a" font-weight="bold" transform="rotate(-90 137 581.8)" textLength="43.8" lengthAdjust="spacingAndGlyphs">1,180 wall on boundary</text>
<text x="136.5" y="651.1" font-size="4.8" text-anchor="middle" fill="#4a4a4a" font-weight="bold" transform="rotate(-90 136.5 651.1)" textLength="7.1" lengthAdjust="spacingAndGlyphs">550</text>
<text x="148.2" y="516.8" font-size="4.8" text-anchor="middle" fill="#4a4a4a" font-weight="bold" transform="rotate(-90 148.2 516.8)" textLength="4.7" lengthAdjust="spacingAndGlyphs">90</text>
<text x="148.2" y="536.8" font-size="4.8" text-anchor="middle" fill="#4a4a4a" font-weight="bold" transform="rotate(-90 148.2 536.8)" textLength="10.6" lengthAdjust="spacingAndGlyphs">1,290</text>
<text x="148.3" y="551.6" font-size="4.8" text-anchor="middle" fill="#4a4a4a" font-weight="bold" transform="rotate(-90 148.3 551.6)" textLength="7.1" lengthAdjust="spacingAndGlyphs">185</text>
<text x="153.5" y="551.6" font-size="4.8" text-anchor="middle" fill="#4a4a4a" font-weight="bold" transform="rotate(-90 153.5 551.6)" textLength="8.2" lengthAdjust="spacingAndGlyphs">pier</text>
<text x="148.3" y="563.6" font-size="4.8" text-anchor="middle" fill="#4a4a4a" font-weight="bold" transform="rotate(-90 148.3 563.6)" textLength="10.6" lengthAdjust="spacingAndGlyphs">1,010</text>
<text x="148.4" y="579.2" font-size="4.8" text-anchor="middle" fill="#aaa" font-weight="bold" transform="rotate(-90 148.4 579.2)" textLength="7.1" lengthAdjust="spacingAndGlyphs">220</text>
<text x="153.6" y="579.2" font-size="4.8" text-anchor="middle" fill="#aaa" font-weight="bold" transform="rotate(-90 153.6 579.2)" textLength="8.2" lengthAdjust="spacingAndGlyphs">pier</text>
<text x="148.4" y="590.5" font-size="4.8" text-anchor="middle" fill="#4a4a4a" font-weight="bold" transform="rotate(-90 148.4 590.5)" textLength="7.1" lengthAdjust="spacingAndGlyphs">510</text>
<text x="148.5" y="603.5" font-size="4.8" text-anchor="middle" fill="#aaa" font-weight="bold" transform="rotate(-90 148.5 603.5)" textLength="7.1" lengthAdjust="spacingAndGlyphs">220</text>
<text x="153.7" y="603.5" font-size="4.8" text-anchor="middle" fill="#aaa" font-weight="bold" transform="rotate(-90 153.7 603.5)" textLength="8.2" lengthAdjust="spacingAndGlyphs">pier</text>
<text x="148.5" y="618.2" font-size="4.8" text-anchor="middle" fill="#4a4a4a" font-weight="bold" transform="rotate(-90 148.5 618.2)" textLength="10.6" lengthAdjust="spacingAndGlyphs">1,070</text>
<text x="148.6" y="634.7" font-size="4.8" text-anchor="middle" fill="#4a4a4a" font-weight="bold" transform="rotate(-90 148.6 634.7)" textLength="7.1" lengthAdjust="spacingAndGlyphs">500</text>
<text x="153.8" y="634.7" font-size="4.8" text-anchor="middle" fill="#4a4a4a" font-weight="bold" transform="rotate(-90 153.8 634.7)" textLength="8.2" lengthAdjust="spacingAndGlyphs">pier</text>
<text x="148.6" y="648.5" font-size="4.8" text-anchor="middle" fill="#4a4a4a" font-weight="bold" transform="rotate(-90 148.6 648.5)" textLength="7.1" lengthAdjust="spacingAndGlyphs">102</text>
<line x1="148.8" y1="520.8" x2="148.8" y2="556.8" stroke="#777" stroke-width="0.5"/>
<text x="159.7" y="266.8" font-size="4.8" text-anchor="middle" fill="#4a4a4a" font-weight="bold" transform="rotate(-90 159.7 266.8)" textLength="10.6" lengthAdjust="spacingAndGlyphs">2,880</text>
<text x="164.9" y="266.7" font-size="4.8" text-anchor="middle" fill="#4a4a4a" font-weight="bold" transform="rotate(-90 164.9 266.7)" textLength="17.6" lengthAdjust="spacingAndGlyphs">alfresco</text>
<text x="159.8" y="307.7" font-size="4.8" text-anchor="middle" fill="#4a4a4a" font-weight="bold" transform="rotate(-90 159.8 307.7)" textLength="7.1" lengthAdjust="spacingAndGlyphs">230</text>
<text x="159.9" y="318.7" font-size="4.8" text-anchor="middle" fill="#4a4a4a" font-weight="bold" transform="rotate(-90 159.9 318.7)" textLength="10.6" lengthAdjust="spacingAndGlyphs">1,240</text>
<text x="165.1" y="318.7" font-size="4.8" text-anchor="middle" fill="#4a4a4a" font-weight="bold" transform="rotate(-90 165.1 318.7)" textLength="14.1" lengthAdjust="spacingAndGlyphs">pantry</text>
<text x="159.9" y="333.7" font-size="4.8" text-anchor="middle" fill="#4a4a4a" font-weight="bold" transform="rotate(-90 159.9 333.7)" textLength="4.7" lengthAdjust="spacingAndGlyphs">90</text>
<text x="160" y="362.7" font-size="4.8" text-anchor="middle" fill="#4a4a4a" font-weight="bold" transform="rotate(-90 160 362.7)" textLength="10.6" lengthAdjust="spacingAndGlyphs">3,040</text>
<text x="165.2" y="362.7" font-size="4.8" text-anchor="middle" fill="#4a4a4a" font-weight="bold" transform="rotate(-90 165.2 362.7)" textLength="15.2" lengthAdjust="spacingAndGlyphs">kitchen</text>
<text x="160.1" y="390.7" font-size="4.8" text-anchor="middle" fill="#4a4a4a" font-weight="bold" transform="rotate(-90 160.1 390.7)" textLength="4.7" lengthAdjust="spacingAndGlyphs">90</text>
<text x="160.1" y="400.7" font-size="4.8" text-anchor="middle" fill="#4a4a4a" font-weight="bold" transform="rotate(-90 160.1 400.7)" textLength="7.1" lengthAdjust="spacingAndGlyphs">312</text>
<text x="165.3" y="400.7" font-size="4.8" text-anchor="middle" fill="#4a4a4a" font-weight="bold" transform="rotate(-90 165.3 400.7)" textLength="7" lengthAdjust="spacingAndGlyphs">lift</text>
<text x="160.2" y="428.4" font-size="4.8" text-anchor="middle" fill="#4a4a4a" font-weight="bold" transform="rotate(-90 160.2 428.4)" textLength="10.6" lengthAdjust="spacingAndGlyphs">1,810</text>
<text x="165.4" y="428.4" font-size="4.8" text-anchor="middle" fill="#4a4a4a" font-weight="bold" transform="rotate(-90 165.4 428.4)" textLength="6.9" lengthAdjust="spacingAndGlyphs">w/y</text>
<text x="160.3" y="447.5" font-size="4.8" text-anchor="middle" fill="#4a4a4a" font-weight="bold" transform="rotate(-90 160.3 447.5)" textLength="4.7" lengthAdjust="spacingAndGlyphs">90</text>
<text x="160.4" y="470" font-size="4.8" text-anchor="middle" fill="#4a4a4a" font-weight="bold" transform="rotate(-90 160.4 470)" textLength="10.6" lengthAdjust="spacingAndGlyphs">2,510</text>
<text x="165.6" y="470" font-size="4.8" text-anchor="middle" fill="#4a4a4a" font-weight="bold" transform="rotate(-90 165.6 470)" textLength="11.8" lengthAdjust="spacingAndGlyphs">study</text>
<text x="160.5" y="491.7" font-size="4.8" text-anchor="middle" fill="#4a4a4a" font-weight="bold" transform="rotate(-90 160.5 491.7)" textLength="4.7" lengthAdjust="spacingAndGlyphs">90</text>
<text x="160.7" y="567.7" font-size="4.8" text-anchor="middle" fill="#4a4a4a" font-weight="bold" transform="rotate(-90 160.7 567.7)" textLength="10.6" lengthAdjust="spacingAndGlyphs">7,232</text>
<text x="165.9" y="567.7" font-size="4.8" text-anchor="middle" fill="#4a4a4a" font-weight="bold" transform="rotate(-90 165.9 567.7)" textLength="14.1" lengthAdjust="spacingAndGlyphs">garage</text>
<text x="161" y="649.3" font-size="4.8" text-anchor="middle" fill="#4a4a4a" font-weight="bold" transform="rotate(-90 161 649.3)" textLength="7.1" lengthAdjust="spacingAndGlyphs">102</text>
<text x="166" y="641.5" font-size="4.8" text-anchor="middle" fill="#4a4a4a" font-weight="bold" transform="rotate(-90 166 641.5)" textLength="4.7" lengthAdjust="spacingAndGlyphs">86</text>
<text x="170.6" y="245" font-size="4.8" text-anchor="middle" fill="#4a4a4a" font-weight="bold" transform="rotate(-90 170.6 245)" textLength="7.1" lengthAdjust="spacingAndGlyphs">112</text>
<text x="175.8" y="245" font-size="4.8" text-anchor="middle" fill="#4a4a4a" font-weight="bold" transform="rotate(-90 175.8 245)" textLength="9.4" lengthAdjust="spacingAndGlyphs">post</text>
<text x="170.7" y="273.7" font-size="4.8" text-anchor="middle" fill="#4a4a4a" font-weight="bold" transform="rotate(-90 170.7 273.7)" textLength="10.6" lengthAdjust="spacingAndGlyphs">3,768</text>
<text x="175.9" y="273.7" font-size="4.8" text-anchor="middle" fill="#4a4a4a" font-weight="bold" transform="rotate(-90 175.9 273.7)" textLength="17.6" lengthAdjust="spacingAndGlyphs">alfresco</text>
<text x="170.8" y="307.7" font-size="4.8" text-anchor="middle" fill="#4a4a4a" font-weight="bold" transform="rotate(-90 170.8 307.7)" textLength="7.1" lengthAdjust="spacingAndGlyphs">230</text>
<text x="171" y="352.7" font-size="4.8" text-anchor="middle" fill="#4a4a4a" font-weight="bold" transform="rotate(-90 171 352.7)" textLength="10.6" lengthAdjust="spacingAndGlyphs">4,370</text>
<text x="176.2" y="352.7" font-size="4.8" text-anchor="middle" fill="#4a4a4a" font-weight="bold" transform="rotate(-90 176.2 352.7)" textLength="15.2" lengthAdjust="spacingAndGlyphs">kitchen</text>
<text x="171.1" y="396.7" font-size="4.8" text-anchor="middle" fill="#4a4a4a" font-weight="bold" transform="rotate(-90 171.1 396.7)" textLength="4.7" lengthAdjust="spacingAndGlyphs">90</text>
<text x="171.2" y="422.4" font-size="4.8" text-anchor="middle" fill="#4a4a4a" font-weight="bold" transform="rotate(-90 171.2 422.4)" textLength="10.6" lengthAdjust="spacingAndGlyphs">2,210</text>
<text x="176.4" y="422.4" font-size="4.8" text-anchor="middle" fill="#4a4a4a" font-weight="bold" transform="rotate(-90 176.4 422.4)" textLength="11.8" lengthAdjust="spacingAndGlyphs">study</text>
<text x="171.3" y="447.5" font-size="4.8" text-anchor="middle" fill="#4a4a4a" font-weight="bold" transform="rotate(-90 171.3 447.5)" textLength="4.7" lengthAdjust="spacingAndGlyphs">90</text>
<text x="171.4" y="470" font-size="4.8" text-anchor="middle" fill="#4a4a4a" font-weight="bold" transform="rotate(-90 171.4 470)" textLength="10.6" lengthAdjust="spacingAndGlyphs">2,510</text>
<text x="176.6" y="470" font-size="4.8" text-anchor="middle" fill="#4a4a4a" font-weight="bold" transform="rotate(-90 176.6 470)" textLength="11.8" lengthAdjust="spacingAndGlyphs">study</text>
<text x="171.5" y="491.7" font-size="4.8" text-anchor="middle" fill="#4a4a4a" font-weight="bold" transform="rotate(-90 171.5 491.7)" textLength="4.7" lengthAdjust="spacingAndGlyphs">90</text>
<text x="171.6" y="536.7" font-size="4.8" text-anchor="middle" fill="#4a4a4a" font-weight="bold" transform="rotate(-90 171.6 536.7)" textLength="10.6" lengthAdjust="spacingAndGlyphs">6,110</text>
<text x="171.8" y="586" font-size="4.8" text-anchor="middle" fill="#4a4a4a" font-weight="bold" transform="rotate(-90 171.8 586)" textLength="7.1" lengthAdjust="spacingAndGlyphs">350</text>
<text x="177" y="586" font-size="4.8" text-anchor="middle" fill="#4a4a4a" font-weight="bold" transform="rotate(-90 177 586)" textLength="8.2" lengthAdjust="spacingAndGlyphs">pier</text>
<text x="171.9" y="606.7" font-size="4.8" text-anchor="middle" fill="#4a4a4a" font-weight="bold" transform="rotate(-90 171.9 606.7)" textLength="10.6" lengthAdjust="spacingAndGlyphs">1,210</text>
<text x="172" y="634.6" font-size="4.8" text-anchor="middle" fill="#4a4a4a" font-weight="bold" transform="rotate(-90 172 634.6)" textLength="7.1" lengthAdjust="spacingAndGlyphs">600</text>
<text x="177.2" y="634.6" font-size="4.8" text-anchor="middle" fill="#4a4a4a" font-weight="bold" transform="rotate(-90 177.2 634.6)" textLength="8.2" lengthAdjust="spacingAndGlyphs">pier</text>
<text x="172" y="650.2" font-size="4.8" text-anchor="middle" fill="#4a4a4a" font-weight="bold" transform="rotate(-90 172 650.2)" textLength="7.1" lengthAdjust="spacingAndGlyphs">485</text>
<text x="172.1" y="677" font-size="4.8" text-anchor="middle" fill="#4a4a4a" font-weight="bold" transform="rotate(-90 172.1 677)" textLength="10.6" lengthAdjust="spacingAndGlyphs">1,900</text>
<text x="177.3" y="677" font-size="4.8" text-anchor="middle" fill="#4a4a4a" font-weight="bold" transform="rotate(-90 177.3 677)" textLength="11.8" lengthAdjust="spacingAndGlyphs">porch</text>
<text x="183.4" y="307.7" font-size="4.8" text-anchor="middle" fill="#4a4a4a" font-weight="bold" transform="rotate(-90 183.4 307.7)" textLength="7.1" lengthAdjust="spacingAndGlyphs">230</text>
<text x="182.7" y="483.7" font-size="4.8" text-anchor="middle" fill="#4a4a4a" font-weight="bold" transform="rotate(-90 182.7 483.7)" textLength="10.6" lengthAdjust="spacingAndGlyphs">9,830</text>
<text x="187.9" y="483.7" font-size="4.8" text-anchor="middle" fill="#4a4a4a" font-weight="bold" transform="rotate(-90 187.9 483.7)" textLength="27.1" lengthAdjust="spacingAndGlyphs">entry / dining</text>
<text x="182.9" y="660.6" font-size="4.8" text-anchor="middle" fill="#4a4a4a" font-weight="bold" transform="rotate(-90 182.9 660.6)" textLength="7.1" lengthAdjust="spacingAndGlyphs">230</text>
<text x="182.9" y="677" font-size="4.8" text-anchor="middle" fill="#4a4a4a" font-weight="bold" transform="rotate(-90 182.9 677)" textLength="10.6" lengthAdjust="spacingAndGlyphs">1,465</text>
<text x="188.1" y="677" font-size="4.8" text-anchor="middle" fill="#4a4a4a" font-weight="bold" transform="rotate(-90 188.1 677)" textLength="11.8" lengthAdjust="spacingAndGlyphs">porch</text>
<text x="178.7" y="703.7" font-size="4.8" text-anchor="middle" fill="#4a4a4a" font-weight="bold" transform="rotate(-90 178.7 703.7)" textLength="7.1" lengthAdjust="spacingAndGlyphs">485</text>
<text x="183.9" y="703.7" font-size="4.8" text-anchor="middle" fill="#4a4a4a" font-weight="bold" transform="rotate(-90 183.9 703.7)" textLength="8.2" lengthAdjust="spacingAndGlyphs">pier</text>
<text x="193.8" y="660.5" font-size="4.8" text-anchor="middle" fill="#4a4a4a" font-weight="bold" transform="rotate(-90 193.8 660.5)" textLength="7.1" lengthAdjust="spacingAndGlyphs">230</text>
<text x="193.8" y="676.9" font-size="4.8" text-anchor="middle" fill="#4a4a4a" font-weight="bold" transform="rotate(-90 193.8 676.9)" textLength="10.6" lengthAdjust="spacingAndGlyphs">5,718</text>
<text x="199" y="676.9" font-size="4.8" text-anchor="middle" fill="#4a4a4a" font-weight="bold" transform="rotate(-90 199 676.9)" textLength="11.8" lengthAdjust="spacingAndGlyphs">porch</text>
<text x="191.7" y="703.6" font-size="4.8" text-anchor="middle" fill="#4a4a4a" font-weight="bold" transform="rotate(-90 191.7 703.6)" textLength="7.1" lengthAdjust="spacingAndGlyphs">100</text>
<text x="196.9" y="703.6" font-size="4.8" text-anchor="middle" fill="#4a4a4a" font-weight="bold" transform="rotate(-90 196.9 703.6)" textLength="9.4" lengthAdjust="spacingAndGlyphs">back</text>
<text x="202.2" y="704.6" font-size="4.8" text-anchor="middle" fill="#4a4a4a" font-weight="bold" transform="rotate(-90 202.2 704.6)" textLength="9.4" lengthAdjust="spacingAndGlyphs">door</text>
<text x="204.9" y="268.1" font-size="4.8" text-anchor="middle" fill="#4a4a4a" font-weight="bold" transform="rotate(-90 204.9 268.1)" textLength="10.6" lengthAdjust="spacingAndGlyphs">2,880</text>
<text x="205" y="315.2" font-size="4.8" text-anchor="middle" fill="#4a4a4a" font-weight="bold" transform="rotate(-90 205 315.2)" textLength="7.1" lengthAdjust="spacingAndGlyphs">790</text>
<text x="205.2" y="350.6" font-size="4.8" text-anchor="middle" fill="#4a4a4a" font-weight="bold" transform="rotate(-90 205.2 350.6)" textLength="10.6" lengthAdjust="spacingAndGlyphs">1,810</text>
<text x="210.4" y="350.6" font-size="4.8" text-anchor="middle" fill="#4a4a4a" font-weight="bold" transform="rotate(-90 210.4 350.6)" textLength="8" lengthAdjust="spacingAndGlyphs">w/in</text>
<text x="205.3" y="385.6" font-size="4.8" text-anchor="middle" fill="#4a4a4a" font-weight="bold" transform="rotate(-90 205.3 385.6)" textLength="10.6" lengthAdjust="spacingAndGlyphs">1,990</text>
<text x="205.4" y="428.3" font-size="4.8" text-anchor="middle" fill="#4a4a4a" font-weight="bold" transform="rotate(-90 205.4 428.3)" textLength="10.6" lengthAdjust="spacingAndGlyphs">1,810</text>
<text x="210.6" y="428.3" font-size="4.8" text-anchor="middle" fill="#4a4a4a" font-weight="bold" transform="rotate(-90 210.6 428.3)" textLength="13" lengthAdjust="spacingAndGlyphs">s/door</text>
<text x="205.5" y="447.4" font-size="4.8" text-anchor="middle" fill="#4a4a4a" font-weight="bold" transform="rotate(-90 205.5 447.4)" textLength="7.1" lengthAdjust="spacingAndGlyphs">450</text>
<text x="205.6" y="465.6" font-size="4.8" text-anchor="middle" fill="#4a4a4a" font-weight="bold" transform="rotate(-90 205.6 465.6)" textLength="10.6" lengthAdjust="spacingAndGlyphs">1,213</text>
<text x="210.8" y="465.6" font-size="4.8" text-anchor="middle" fill="#4a4a4a" font-weight="bold" transform="rotate(-90 210.8 465.6)" textLength="7.1" lengthAdjust="spacingAndGlyphs">182</text>
<text x="205.7" y="499.4" font-size="4.8" text-anchor="middle" fill="#4a4a4a" font-weight="bold" transform="rotate(-90 205.7 499.4)" textLength="10.6" lengthAdjust="spacingAndGlyphs">1,900</text>
<text x="206" y="581.6" font-size="4.8" text-anchor="middle" fill="#4a4a4a" font-weight="bold" transform="rotate(-90 206 581.6)" textLength="10.6" lengthAdjust="spacingAndGlyphs">5,890</text>
<text x="206.2" y="650.1" font-size="4.8" text-anchor="middle" fill="#4a4a4a" font-weight="bold" transform="rotate(-90 206.2 650.1)" textLength="7.1" lengthAdjust="spacingAndGlyphs">190</text>
<text x="206.3" y="676.9" font-size="4.8" text-anchor="middle" fill="#4a4a4a" font-weight="bold" transform="rotate(-90 206.3 676.9)" textLength="10.6" lengthAdjust="spacingAndGlyphs">1,800</text>
<text x="209.9" y="701.2" font-size="4.8" text-anchor="middle" fill="#4a4a4a" font-weight="bold" transform="rotate(-90 209.9 701.2)" textLength="7.1" lengthAdjust="spacingAndGlyphs">102</text>
<text x="215.8" y="311.6" font-size="4.8" text-anchor="middle" fill="#4a4a4a" font-weight="bold" transform="rotate(-90 215.8 311.6)" textLength="10.6" lengthAdjust="spacingAndGlyphs">1,265</text>
<text x="221" y="311.5" font-size="4.8" text-anchor="middle" fill="#4a4a4a" font-weight="bold" transform="rotate(-90 221 311.5)" textLength="17.7" lengthAdjust="spacingAndGlyphs">a/fresco</text>
<text x="215.2" y="503.6" font-size="4.8" text-anchor="middle" fill="#4a4a4a" font-weight="bold" transform="rotate(-90 215.2 503.6)" textLength="10.6" lengthAdjust="spacingAndGlyphs">1,000</text>
<text x="220.4" y="503.5" font-size="4.8" text-anchor="middle" fill="#4a4a4a" font-weight="bold" transform="rotate(-90 220.4 503.5)" textLength="22.1" lengthAdjust="spacingAndGlyphs">to sp/whirl</text>
<line x1="160.6" y1="300.7" x2="160.6" y2="500.7" stroke="#aaa" stroke-width="0.4"/>
<line x1="161.4" y1="520.7" x2="161.4" y2="700.7" stroke="#b8b8b8" stroke-width="0.4"/>
<line x1="171.8" y1="300.7" x2="171.8" y2="500.7" stroke="#aaa" stroke-width="0.4"/>
<line x1="172.6" y1="520.7" x2="172.6" y2="700.7" stroke="#b8b8b8" stroke-width="0.4"/>
<line x1="183.4" y1="300.7" x2="183.4" y2="500.7" stroke="#aaa" stroke-width="0.4"/>
<line x1="184.2" y1="520.7" x2="184.2" y2="700.7" stroke="#b8b8b8" stroke-width="0.4"/>
<line x1="160.9" y1="235.7" x2="160.9" y2="300.7" stroke="#aaa" stroke-width="0.4"/>
<line x1="172.2" y1="235.7" x2="172.2" y2="300.7" stroke="#aaa" stroke-width="0.4"/>
<line x1="193.8" y1="655.6" x2="193.8" y2="700.6" stroke="#bbb" stroke-width="0.4"/>
<line x1="205.6" y1="640.6" x2="205.6" y2="700.6" stroke="#bbb" stroke-width="0.4"/>
<line x1="137.5" y1="640.8" x2="137.5" y2="700.8" stroke="#c4c4c4" stroke-width="0.4"/>
<line x1="113.3" y1="555.9" x2="113.3" y2="700.9" stroke="#d0d0d0" stroke-width="0.4"/>
<line x1="208.7" y1="440.6" x2="208.7" y2="470.6" stroke="#888" stroke-width="0.5"/>
<text x="551.3" y="266.9" font-size="4.8" text-anchor="middle" fill="#4a4a4a" font-weight="bold" transform="rotate(-90 551.3 266.9)" textLength="10.6" lengthAdjust="spacingAndGlyphs">2,880</text>
<text x="551.6" y="354.1" font-size="4.8" text-anchor="middle" fill="#4a4a4a" font-weight="bold" transform="rotate(-90 551.6 354.1)" textLength="10.6" lengthAdjust="spacingAndGlyphs">5,220</text>
<text x="551.8" y="427.4" font-size="4.8" text-anchor="middle" fill="#4a4a4a" font-weight="bold" transform="rotate(-90 551.8 427.4)" textLength="10.6" lengthAdjust="spacingAndGlyphs">1,418</text>
<text x="557" y="427.4" font-size="4.8" text-anchor="middle" fill="#4a4a4a" font-weight="bold" transform="rotate(-90 557 427.4)" textLength="8" lengthAdjust="spacingAndGlyphs">w/in</text>
<text x="551.9" y="451" font-size="4.8" text-anchor="middle" fill="#4a4a4a" font-weight="bold" transform="rotate(-90 551.9 451)" textLength="7.1" lengthAdjust="spacingAndGlyphs">500</text>
<text x="552" y="467" font-size="4.8" text-anchor="middle" fill="#4a4a4a" font-weight="bold" transform="rotate(-90 552 467)" textLength="7.1" lengthAdjust="spacingAndGlyphs">610</text>
<text x="557.2" y="467" font-size="4.8" text-anchor="middle" fill="#4a4a4a" font-weight="bold" transform="rotate(-90 557.2 467)" textLength="8" lengthAdjust="spacingAndGlyphs">w/in</text>
<text x="552" y="478.2" font-size="4.8" text-anchor="middle" fill="#4a4a4a" font-weight="bold" transform="rotate(-90 552 478.2)" textLength="7.1" lengthAdjust="spacingAndGlyphs">490</text>
<text x="552.1" y="498.2" font-size="4.8" text-anchor="middle" fill="#4a4a4a" font-weight="bold" transform="rotate(-90 552.1 498.2)" textLength="10.6" lengthAdjust="spacingAndGlyphs">1,418</text>
<text x="557.3" y="498.2" font-size="4.8" text-anchor="middle" fill="#4a4a4a" font-weight="bold" transform="rotate(-90 557.3 498.2)" textLength="8" lengthAdjust="spacingAndGlyphs">w/in</text>
<text x="552.2" y="524.4" font-size="4.8" text-anchor="middle" fill="#4a4a4a" font-weight="bold" transform="rotate(-90 552.2 524.4)" textLength="10.6" lengthAdjust="spacingAndGlyphs">1,390</text>
<text x="552.3" y="551" font-size="4.8" text-anchor="middle" fill="#4a4a4a" font-weight="bold" transform="rotate(-90 552.3 551)" textLength="10.6" lengthAdjust="spacingAndGlyphs">1,418</text>
<text x="557.5" y="551" font-size="4.8" text-anchor="middle" fill="#4a4a4a" font-weight="bold" transform="rotate(-90 557.5 551)" textLength="8" lengthAdjust="spacingAndGlyphs">w/in</text>
<text x="552.4" y="584" font-size="4.8" text-anchor="middle" fill="#4a4a4a" font-weight="bold" transform="rotate(-90 552.4 584)" textLength="10.6" lengthAdjust="spacingAndGlyphs">1,790</text>
<text x="552.5" y="608" font-size="4.8" text-anchor="middle" fill="#4a4a4a" font-weight="bold" transform="rotate(-90 552.5 608)" textLength="7.1" lengthAdjust="spacingAndGlyphs">918</text>
<text x="557.7" y="608" font-size="4.8" text-anchor="middle" fill="#4a4a4a" font-weight="bold" transform="rotate(-90 557.7 608)" textLength="8" lengthAdjust="spacingAndGlyphs">w/in</text>
<text x="552.5" y="624.8" font-size="4.8" text-anchor="middle" fill="#4a4a4a" font-weight="bold" transform="rotate(-90 552.5 624.8)" textLength="7.1" lengthAdjust="spacingAndGlyphs">500</text>
<text x="552.6" y="654.4" font-size="4.8" text-anchor="middle" fill="#4a4a4a" font-weight="bold" transform="rotate(-90 552.6 654.4)" textLength="10.6" lengthAdjust="spacingAndGlyphs">2,410</text>
<text x="557.8" y="654.4" font-size="4.8" text-anchor="middle" fill="#4a4a4a" font-weight="bold" transform="rotate(-90 557.8 654.4)" textLength="8" lengthAdjust="spacingAndGlyphs">w/in</text>
<text x="552.7" y="684.8" font-size="4.8" text-anchor="middle" fill="#4a4a4a" font-weight="bold" transform="rotate(-90 552.7 684.8)" textLength="7.1" lengthAdjust="spacingAndGlyphs">200</text>
<text x="552.8" y="701.6" font-size="4.8" text-anchor="middle" fill="#4a4a4a" font-weight="bold" transform="rotate(-90 552.8 701.6)" textLength="7.1" lengthAdjust="spacingAndGlyphs">170</text>
<text x="538.4" y="657.4" font-size="4.8" text-anchor="middle" fill="#4a4a4a" font-weight="bold" transform="rotate(-90 538.4 657.4)" textLength="10.6" lengthAdjust="spacingAndGlyphs">3,739</text>
<text x="543.6" y="657.4" font-size="4.8" text-anchor="middle" fill="#4a4a4a" font-weight="bold" transform="rotate(-90 543.6 657.4)" textLength="22.1" lengthAdjust="spacingAndGlyphs">to sp/whirl</text>
<text x="562.4" y="306.8" font-size="4.8" text-anchor="middle" fill="#4a4a4a" font-weight="bold" transform="rotate(-90 562.4 306.8)" textLength="4.7" lengthAdjust="spacingAndGlyphs">30</text>
<text x="562.9" y="663.1" font-size="4.8" text-anchor="middle" fill="#4a4a4a" font-weight="bold" transform="rotate(-90 562.9 663.1)" textLength="7.1" lengthAdjust="spacingAndGlyphs">230</text>
<text x="562.9" y="680.7" font-size="4.8" text-anchor="middle" fill="#4a4a4a" font-weight="bold" transform="rotate(-90 562.9 680.7)" textLength="10.6" lengthAdjust="spacingAndGlyphs">1,716</text>
<text x="568.1" y="680.7" font-size="4.8" text-anchor="middle" fill="#4a4a4a" font-weight="bold" transform="rotate(-90 568.1 680.7)" textLength="11.8" lengthAdjust="spacingAndGlyphs">porch</text>
<text x="574.2" y="704.3" font-size="4.8" text-anchor="middle" fill="#4a4a4a" font-weight="bold" transform="rotate(-90 574.2 704.3)" textLength="7.1" lengthAdjust="spacingAndGlyphs">160</text>
<text x="579.4" y="704.3" font-size="4.8" text-anchor="middle" fill="#4a4a4a" font-weight="bold" transform="rotate(-90 579.4 704.3)" textLength="8.2" lengthAdjust="spacingAndGlyphs">pier</text>
<text x="559.2" y="705.4" font-size="4.8" text-anchor="middle" fill="#4a4a4a" font-weight="bold" transform="rotate(-90 559.2 705.4)" textLength="7.1" lengthAdjust="spacingAndGlyphs">top</text>
<text x="565.2" y="705.3" font-size="4.8" text-anchor="middle" fill="#4a4a4a" font-weight="bold" transform="rotate(-90 565.2 705.3)" textLength="9.4" lengthAdjust="spacingAndGlyphs">back</text>
<text x="562.4" y="480.3" font-size="4.8" text-anchor="middle" fill="#4a4a4a" font-weight="bold" transform="rotate(-90 562.4 480.3)" textLength="13" lengthAdjust="spacingAndGlyphs">18,630</text>
<text x="568.8" y="482.1" font-size="4.4" text-anchor="middle" fill="#4a4a4a" font-weight="bold" transform="rotate(-90 568.8 482.1)" textLength="37.8" lengthAdjust="spacingAndGlyphs">entry / dining / living</text>
<text x="575" y="308.3" font-size="4.8" text-anchor="middle" fill="#4a4a4a" font-weight="bold" transform="rotate(-90 575 308.3)" textLength="7.1" lengthAdjust="spacingAndGlyphs">230</text>
<text x="575.2" y="347.9" font-size="4.8" text-anchor="middle" fill="#4a4a4a" font-weight="bold" transform="rotate(-90 575.2 347.9)" textLength="10.6" lengthAdjust="spacingAndGlyphs">4,370</text>
<text x="580.4" y="347.9" font-size="4.8" text-anchor="middle" fill="#4a4a4a" font-weight="bold" transform="rotate(-90 580.4 347.9)" textLength="25.8" lengthAdjust="spacingAndGlyphs">living / dining</text>
<text x="575.4" y="401.3" font-size="4.8" text-anchor="middle" fill="#4a4a4a" font-weight="bold" transform="rotate(-90 575.4 401.3)" textLength="4.7" lengthAdjust="spacingAndGlyphs">90</text>
<text x="575.4" y="415.3" font-size="4.8" text-anchor="middle" fill="#4a4a4a" font-weight="bold" transform="rotate(-90 575.4 415.3)" textLength="10.6" lengthAdjust="spacingAndGlyphs">1,760</text>
<text x="580.6" y="415.3" font-size="4.8" text-anchor="middle" fill="#4a4a4a" font-weight="bold" transform="rotate(-90 580.6 415.3)" textLength="9.4" lengthAdjust="spacingAndGlyphs">robe</text>
<text x="575.4" y="429.3" font-size="4.8" text-anchor="middle" fill="#4a4a4a" font-weight="bold" transform="rotate(-90 575.4 429.3)" textLength="4.7" lengthAdjust="spacingAndGlyphs">90</text>
<text x="575.5" y="443.7" font-size="4.8" text-anchor="middle" fill="#4a4a4a" font-weight="bold" transform="rotate(-90 575.5 443.7)" textLength="10.6" lengthAdjust="spacingAndGlyphs">1,610</text>
<text x="580.7" y="443.7" font-size="4.8" text-anchor="middle" fill="#4a4a4a" font-weight="bold" transform="rotate(-90 580.7 443.7)" textLength="10.6" lengthAdjust="spacingAndGlyphs">bed 2</text>
<text x="575.6" y="462.3" font-size="4.8" text-anchor="middle" fill="#4a4a4a" font-weight="bold" transform="rotate(-90 575.6 462.3)" textLength="4.7" lengthAdjust="spacingAndGlyphs">90</text>
<text x="575.6" y="484.5" font-size="4.8" text-anchor="middle" fill="#4a4a4a" font-weight="bold" transform="rotate(-90 575.6 484.5)" textLength="10.6" lengthAdjust="spacingAndGlyphs">2,270</text>
<text x="580.8" y="484.5" font-size="4.8" text-anchor="middle" fill="#4a4a4a" font-weight="bold" transform="rotate(-90 580.8 484.5)" textLength="9.4" lengthAdjust="spacingAndGlyphs">bath</text>
<text x="575.7" y="511.7" font-size="4.8" text-anchor="middle" fill="#4a4a4a" font-weight="bold" transform="rotate(-90 575.7 511.7)" textLength="4.7" lengthAdjust="spacingAndGlyphs">90</text>
<text x="575.8" y="532.5" font-size="4.8" text-anchor="middle" fill="#4a4a4a" font-weight="bold" transform="rotate(-90 575.8 532.5)" textLength="10.6" lengthAdjust="spacingAndGlyphs">2,110</text>
<text x="581" y="532.5" font-size="4.8" text-anchor="middle" fill="#4a4a4a" font-weight="bold" transform="rotate(-90 581 532.5)" textLength="10.6" lengthAdjust="spacingAndGlyphs">bed 3</text>
<text x="575.9" y="558.3" font-size="4.8" text-anchor="middle" fill="#4a4a4a" font-weight="bold" transform="rotate(-90 575.9 558.3)" textLength="4.7" lengthAdjust="spacingAndGlyphs">90</text>
<text x="575.9" y="570.3" font-size="4.8" text-anchor="middle" fill="#4a4a4a" font-weight="bold" transform="rotate(-90 575.9 570.3)" textLength="10.6" lengthAdjust="spacingAndGlyphs">1,230</text>
<text x="581.1" y="570.3" font-size="4.8" text-anchor="middle" fill="#4a4a4a" font-weight="bold" transform="rotate(-90 581.1 570.3)" textLength="9.4" lengthAdjust="spacingAndGlyphs">robe</text>
<text x="576" y="580.7" font-size="4.8" text-anchor="middle" fill="#4a4a4a" font-weight="bold" transform="rotate(-90 576 580.7)" textLength="4.7" lengthAdjust="spacingAndGlyphs">90</text>
<text x="576.1" y="601.5" font-size="4.8" text-anchor="middle" fill="#4a4a4a" font-weight="bold" transform="rotate(-90 576.1 601.5)" textLength="10.6" lengthAdjust="spacingAndGlyphs">1,710</text>
<text x="581.3" y="601.5" font-size="4.8" text-anchor="middle" fill="#4a4a4a" font-weight="bold" transform="rotate(-90 581.3 601.5)" textLength="6.8" lengthAdjust="spacingAndGlyphs">wir</text>
<text x="576.1" y="621.5" font-size="4.8" text-anchor="middle" fill="#4a4a4a" font-weight="bold" transform="rotate(-90 576.1 621.5)" textLength="4.7" lengthAdjust="spacingAndGlyphs">90</text>
<text x="576.2" y="656.7" font-size="4.8" text-anchor="middle" fill="#4a4a4a" font-weight="bold" transform="rotate(-90 576.2 656.7)" textLength="10.6" lengthAdjust="spacingAndGlyphs">3,430</text>
<text x="581.4" y="656.7" font-size="4.8" text-anchor="middle" fill="#4a4a4a" font-weight="bold" transform="rotate(-90 581.4 656.7)" textLength="26.8" lengthAdjust="spacingAndGlyphs">master suite</text>
<text x="576.3" y="687.1" font-size="4.8" text-anchor="middle" fill="#4a4a4a" font-weight="bold" transform="rotate(-90 576.3 687.1)" textLength="7.1" lengthAdjust="spacingAndGlyphs">230</text>
<text x="587" y="308.3" font-size="4.8" text-anchor="middle" fill="#4a4a4a" font-weight="bold" transform="rotate(-90 587 308.3)" textLength="7.1" lengthAdjust="spacingAndGlyphs">230</text>
<text x="587.2" y="350.7" font-size="4.8" text-anchor="middle" fill="#4a4a4a" font-weight="bold" transform="rotate(-90 587.2 350.7)" textLength="10.6" lengthAdjust="spacingAndGlyphs">4,370</text>
<text x="592.4" y="350.6" font-size="4.8" text-anchor="middle" fill="#4a4a4a" font-weight="bold" transform="rotate(-90 592.4 350.6)" textLength="10.4" lengthAdjust="spacingAndGlyphs">living</text>
<text x="587.4" y="401.3" font-size="4.8" text-anchor="middle" fill="#4a4a4a" font-weight="bold" transform="rotate(-90 587.4 401.3)" textLength="4.7" lengthAdjust="spacingAndGlyphs">90</text>
<text x="587.4" y="429.3" font-size="4.8" text-anchor="middle" fill="#4a4a4a" font-weight="bold" transform="rotate(-90 587.4 429.3)" textLength="10.6" lengthAdjust="spacingAndGlyphs">2,600</text>
<text x="592.6" y="429.2" font-size="4.8" text-anchor="middle" fill="#4a4a4a" font-weight="bold" transform="rotate(-90 592.6 429.2)" textLength="10.6" lengthAdjust="spacingAndGlyphs">bed 2</text>
<text x="587.6" y="461.3" font-size="4.8" text-anchor="middle" fill="#4a4a4a" font-weight="bold" transform="rotate(-90 587.6 461.3)" textLength="4.7" lengthAdjust="spacingAndGlyphs">90</text>
<text x="587.6" y="470.9" font-size="4.8" text-anchor="middle" fill="#4a4a4a" font-weight="bold" transform="rotate(-90 587.6 470.9)" textLength="7.1" lengthAdjust="spacingAndGlyphs">940</text>
<text x="592.8" y="470.8" font-size="4.8" text-anchor="middle" fill="#4a4a4a" font-weight="bold" transform="rotate(-90 592.8 470.8)" textLength="5.6" lengthAdjust="spacingAndGlyphs">wc</text>
<text x="587.6" y="483.7" font-size="4.8" text-anchor="middle" fill="#4a4a4a" font-weight="bold" transform="rotate(-90 587.6 483.7)" textLength="4.7" lengthAdjust="spacingAndGlyphs">90</text>
<text x="587.7" y="502.1" font-size="4.8" text-anchor="middle" fill="#4a4a4a" font-weight="bold" transform="rotate(-90 587.7 502.1)" textLength="10.6" lengthAdjust="spacingAndGlyphs">1,840</text>
<text x="592.9" y="502" font-size="4.8" text-anchor="middle" fill="#4a4a4a" font-weight="bold" transform="rotate(-90 592.9 502)" textLength="9.4" lengthAdjust="spacingAndGlyphs">bath</text>
<text x="587.8" y="523.7" font-size="4.8" text-anchor="middle" fill="#4a4a4a" font-weight="bold" transform="rotate(-90 587.8 523.7)" textLength="4.7" lengthAdjust="spacingAndGlyphs">90</text>
<text x="587.9" y="553.3" font-size="4.8" text-anchor="middle" fill="#4a4a4a" font-weight="bold" transform="rotate(-90 587.9 553.3)" textLength="10.6" lengthAdjust="spacingAndGlyphs">2,600</text>
<text x="593.1" y="553.2" font-size="4.8" text-anchor="middle" fill="#4a4a4a" font-weight="bold" transform="rotate(-90 593.1 553.2)" textLength="10.6" lengthAdjust="spacingAndGlyphs">bed 3</text>
<text x="588" y="582.3" font-size="4.8" text-anchor="middle" fill="#4a4a4a" font-weight="bold" transform="rotate(-90 588 582.3)" textLength="4.7" lengthAdjust="spacingAndGlyphs">90</text>
<text x="588.1" y="601.5" font-size="4.8" text-anchor="middle" fill="#4a4a4a" font-weight="bold" transform="rotate(-90 588.1 601.5)" textLength="10.6" lengthAdjust="spacingAndGlyphs">1,710</text>
<text x="593.3" y="601.4" font-size="4.8" text-anchor="middle" fill="#4a4a4a" font-weight="bold" transform="rotate(-90 593.3 601.4)" textLength="15.2" lengthAdjust="spacingAndGlyphs">ensuite</text>
<text x="588.1" y="621.5" font-size="4.8" text-anchor="middle" fill="#4a4a4a" font-weight="bold" transform="rotate(-90 588.1 621.5)" textLength="4.7" lengthAdjust="spacingAndGlyphs">90</text>
<text x="588.3" y="659.9" font-size="4.8" text-anchor="middle" fill="#4a4a4a" font-weight="bold" transform="rotate(-90 588.3 659.9)" textLength="10.6" lengthAdjust="spacingAndGlyphs">3,430</text>
<text x="593.5" y="659.8" font-size="4.8" text-anchor="middle" fill="#4a4a4a" font-weight="bold" transform="rotate(-90 593.5 659.8)" textLength="26.8" lengthAdjust="spacingAndGlyphs">master suite</text>
<text x="588.4" y="701.3" font-size="4.8" text-anchor="middle" fill="#4a4a4a" font-weight="bold" transform="rotate(-90 588.4 701.3)" textLength="7.1" lengthAdjust="spacingAndGlyphs">230</text>
<text x="597.4" y="478.8" font-size="4.8" text-anchor="middle" fill="#4a4a4a" font-weight="bold" transform="rotate(-90 597.4 478.8)" textLength="13" lengthAdjust="spacingAndGlyphs">17,690</text>
<text x="596.5" y="678.2" font-size="4.8" text-anchor="middle" fill="#4a4a4a" font-weight="bold" transform="rotate(-90 596.5 678.2)" textLength="10.6" lengthAdjust="spacingAndGlyphs">1,890</text>
<text x="595.8" y="701.2" font-size="4.8" text-anchor="middle" fill="#4a4a4a" font-weight="bold" transform="rotate(-90 595.8 701.2)" textLength="7.1" lengthAdjust="spacingAndGlyphs">190</text>
<text x="607.9" y="498" font-size="4.1" text-anchor="middle" fill="#4a4a4a" font-weight="bold" transform="rotate(-90 607.9 498)" textLength="35.2" lengthAdjust="spacingAndGlyphs">19,890 house overall</text>
<line x1="608.6" y1="439.2" x2="608.6" y2="519.2" stroke="#666" stroke-width="0.5"/>
<text x="606.2" y="701.2" font-size="4.8" text-anchor="middle" fill="#4a4a4a" font-weight="bold" transform="rotate(-90 606.2 701.2)" textLength="7.1" lengthAdjust="spacingAndGlyphs">190</text>
<text x="610.7" y="269.2" font-size="4.8" text-anchor="middle" fill="#4a4a4a" font-weight="bold" transform="rotate(-90 610.7 269.2)" textLength="10.6" lengthAdjust="spacingAndGlyphs">2,880</text>
<text x="620.1" y="469.1" font-size="4.1" text-anchor="middle" fill="#4a4a4a" font-weight="bold" transform="rotate(-90 620.1 469.1)" textLength="29.6" lengthAdjust="spacingAndGlyphs">21,870 OVERALL</text>
<line x1="620.6" y1="441.9" x2="620.6" y2="487.5" stroke="#666" stroke-width="0.5"/>
<line x1="551.2" y1="299.4" x2="551.2" y2="699.4" stroke="#b0b0b0" stroke-width="0.4"/>
<line x1="562.4" y1="299.3" x2="562.4" y2="699.3" stroke="#b0b0b0" stroke-width="0.4"/>
<line x1="574.4" y1="299.3" x2="574.4" y2="699.3" stroke="#b0b0b0" stroke-width="0.4"/>
<line x1="586.1" y1="299.3" x2="586.1" y2="699.3" stroke="#b0b0b0" stroke-width="0.4"/>
<line x1="597.2" y1="299.2" x2="597.2" y2="699.2" stroke="#c8c8c8" stroke-width="0.4"/>
<line x1="551" y1="239.4" x2="551" y2="299.4" stroke="#b8b8b8" stroke-width="0.4"/>
<line x1="676.2" y1="576.9" x2="676.2" y2="743.9" stroke="#ccc" stroke-width="0.5"/>
<line x1="539.5" y1="616.8" x2="539.5" y2="696" stroke="#999" stroke-width="0.5"/>
</g><g transform="rotate(0.2 375.0 530.0)">
<line x1="271.4" y1="143.4" x2="273.8" y2="141" stroke="#777" stroke-width="0.5"/>
<line x1="272.6" y1="140" x2="272.6" y2="143.8" stroke="#999" stroke-width="0.4"/>
<line x1="476.9" y1="143.4" x2="479.2" y2="141" stroke="#777" stroke-width="0.5"/>
<line x1="478" y1="140" x2="478" y2="143.8" stroke="#999" stroke-width="0.4"/>
<line x1="271.5" y1="155.4" x2="273.9" y2="153" stroke="#777" stroke-width="0.5"/>
<line x1="272.7" y1="152" x2="272.7" y2="155.8" stroke="#999" stroke-width="0.4"/>
<line x1="476.9" y1="155.4" x2="479.3" y2="153" stroke="#777" stroke-width="0.5"/>
<line x1="478.1" y1="152" x2="478.1" y2="155.8" stroke="#999" stroke-width="0.4"/>
<line x1="271.5" y1="168" x2="273.9" y2="165.6" stroke="#777" stroke-width="0.5"/>
<line x1="272.7" y1="164.6" x2="272.7" y2="168.4" stroke="#999" stroke-width="0.4"/>
<line x1="476.9" y1="168" x2="479.3" y2="165.6" stroke="#777" stroke-width="0.5"/>
<line x1="478.1" y1="164.6" x2="478.1" y2="168.4" stroke="#999" stroke-width="0.4"/>
<line x1="271.6" y1="179.2" x2="274" y2="176.8" stroke="#777" stroke-width="0.5"/>
<line x1="272.8" y1="175.8" x2="272.8" y2="179.6" stroke="#999" stroke-width="0.4"/>
<line x1="477" y1="179.2" x2="479.4" y2="176.8" stroke="#777" stroke-width="0.5"/>
<line x1="478.2" y1="175.8" x2="478.2" y2="179.6" stroke="#999" stroke-width="0.4"/>
<line x1="271.6" y1="190.6" x2="274" y2="188.2" stroke="#777" stroke-width="0.5"/>
<line x1="272.8" y1="187.2" x2="272.8" y2="191" stroke="#999" stroke-width="0.4"/>
<line x1="477" y1="190.6" x2="479.4" y2="188.2" stroke="#777" stroke-width="0.5"/>
<line x1="478.2" y1="187.2" x2="478.2" y2="191" stroke="#999" stroke-width="0.4"/>
<line x1="314.5" y1="167.8" x2="316.9" y2="165.4" stroke="#555" stroke-width="0.5"/>
<line x1="315.7" y1="164.4" x2="315.7" y2="168.2" stroke="#999" stroke-width="0.4"/>
<line x1="366.1" y1="167.6" x2="368.5" y2="165.2" stroke="#777" stroke-width="0.5"/>
<line x1="367.3" y1="164.2" x2="367.3" y2="168" stroke="#999" stroke-width="0.4"/>
<line x1="389.1" y1="167.7" x2="391.5" y2="165.3" stroke="#777" stroke-width="0.5"/>
<line x1="390.3" y1="164.3" x2="390.3" y2="168.1" stroke="#999" stroke-width="0.4"/>
<line x1="314.6" y1="179" x2="317" y2="176.6" stroke="#555" stroke-width="0.5"/>
<line x1="315.8" y1="175.6" x2="315.8" y2="179.4" stroke="#999" stroke-width="0.4"/>
<line x1="366.2" y1="178.8" x2="368.6" y2="176.4" stroke="#777" stroke-width="0.5"/>
<line x1="367.4" y1="175.4" x2="367.4" y2="179.2" stroke="#999" stroke-width="0.4"/>
<line x1="389.2" y1="178.9" x2="391.6" y2="176.5" stroke="#777" stroke-width="0.5"/>
<line x1="390.4" y1="175.5" x2="390.4" y2="179.3" stroke="#999" stroke-width="0.4"/>
<line x1="314.6" y1="190.4" x2="317" y2="188" stroke="#555" stroke-width="0.5"/>
<line x1="315.8" y1="187" x2="315.8" y2="190.8" stroke="#999" stroke-width="0.4"/>
<line x1="366.2" y1="190.2" x2="368.6" y2="187.8" stroke="#777" stroke-width="0.5"/>
<line x1="367.4" y1="186.8" x2="367.4" y2="190.6" stroke="#999" stroke-width="0.4"/>
<line x1="389.2" y1="190.3" x2="391.6" y2="187.9" stroke="#777" stroke-width="0.5"/>
<line x1="390.4" y1="186.9" x2="390.4" y2="190.7" stroke="#999" stroke-width="0.4"/>
<line x1="271.4" y1="119.4" x2="273.8" y2="117" stroke="#777" stroke-width="0.5"/>
<line x1="272.6" y1="116" x2="272.6" y2="119.8" stroke="#999" stroke-width="0.4"/>
<line x1="271.4" y1="131.4" x2="273.8" y2="129" stroke="#777" stroke-width="0.5"/>
<line x1="272.6" y1="128" x2="272.6" y2="131.8" stroke="#999" stroke-width="0.4"/>
<line x1="244.7" y1="201.5" x2="247" y2="199" stroke="#777" stroke-width="0.5"/>
<line x1="245.8" y1="198" x2="245.8" y2="201.8" stroke="#999" stroke-width="0.4"/>
<line x1="271.7" y1="201.4" x2="274" y2="199" stroke="#777" stroke-width="0.5"/>
<line x1="272.8" y1="198" x2="272.8" y2="201.8" stroke="#999" stroke-width="0.4"/>
<line x1="314.7" y1="201.2" x2="317" y2="198.8" stroke="#555" stroke-width="0.5"/>
<line x1="315.8" y1="197.8" x2="315.8" y2="201.6" stroke="#999" stroke-width="0.4"/>
<line x1="369.7" y1="201.2" x2="372" y2="198.8" stroke="#777" stroke-width="0.5"/>
<line x1="370.8" y1="197.8" x2="370.8" y2="201.6" stroke="#999" stroke-width="0.4"/>
<line x1="456.7" y1="201.9" x2="459" y2="199.5" stroke="#777" stroke-width="0.5"/>
<line x1="457.8" y1="198.5" x2="457.8" y2="202.3" stroke="#999" stroke-width="0.4"/>
<line x1="481.1" y1="202" x2="483.4" y2="199.6" stroke="#777" stroke-width="0.5"/>
<line x1="482.2" y1="198.6" x2="482.2" y2="202.4" stroke="#999" stroke-width="0.4"/>
<line x1="368.2" y1="749.2" x2="370.6" y2="746.8" stroke="#777" stroke-width="0.5"/>
<line x1="369.4" y1="745.8" x2="369.4" y2="749.6" stroke="#999" stroke-width="0.4"/>
<line x1="391.6" y1="749.3" x2="394" y2="746.9" stroke="#555" stroke-width="0.5"/>
<line x1="392.8" y1="745.9" x2="392.8" y2="749.7" stroke="#999" stroke-width="0.4"/>
<line x1="476.2" y1="749.6" x2="478.6" y2="747.2" stroke="#777" stroke-width="0.5"/>
<line x1="477.4" y1="746.2" x2="477.4" y2="750" stroke="#999" stroke-width="0.4"/>
<line x1="368.2" y1="760.8" x2="370.6" y2="758.4" stroke="#777" stroke-width="0.5"/>
<line x1="369.4" y1="757.4" x2="369.4" y2="761.2" stroke="#999" stroke-width="0.4"/>
<line x1="391.6" y1="760.9" x2="394" y2="758.5" stroke="#555" stroke-width="0.5"/>
<line x1="392.8" y1="757.5" x2="392.8" y2="761.3" stroke="#999" stroke-width="0.4"/>
<line x1="476.2" y1="761.2" x2="478.6" y2="758.8" stroke="#777" stroke-width="0.5"/>
<line x1="477.4" y1="757.8" x2="477.4" y2="761.6" stroke="#999" stroke-width="0.4"/>
<line x1="368.2" y1="772.2" x2="370.6" y2="769.8" stroke="#777" stroke-width="0.5"/>
<line x1="369.4" y1="768.8" x2="369.4" y2="772.6" stroke="#999" stroke-width="0.4"/>
<line x1="391.6" y1="772.3" x2="394" y2="769.9" stroke="#555" stroke-width="0.5"/>
<line x1="392.8" y1="768.9" x2="392.8" y2="772.7" stroke="#999" stroke-width="0.4"/>
<line x1="476.2" y1="772.6" x2="478.6" y2="770.2" stroke="#777" stroke-width="0.5"/>
<line x1="477.4" y1="769.2" x2="477.4" y2="773" stroke="#999" stroke-width="0.4"/>
<line x1="368.3" y1="783.4" x2="370.7" y2="781" stroke="#777" stroke-width="0.5"/>
<line x1="369.5" y1="780" x2="369.5" y2="783.8" stroke="#999" stroke-width="0.4"/>
<line x1="391.7" y1="783.5" x2="394.1" y2="781.1" stroke="#555" stroke-width="0.5"/>
<line x1="392.9" y1="780.1" x2="392.9" y2="783.9" stroke="#999" stroke-width="0.4"/>
<line x1="476.3" y1="783.8" x2="478.7" y2="781.4" stroke="#777" stroke-width="0.5"/>
<line x1="477.5" y1="780.4" x2="477.5" y2="784.2" stroke="#999" stroke-width="0.4"/>
<line x1="368.3" y1="795.2" x2="370.7" y2="792.8" stroke="#777" stroke-width="0.5"/>
<line x1="369.5" y1="791.8" x2="369.5" y2="795.6" stroke="#999" stroke-width="0.4"/>
<line x1="391.7" y1="795.3" x2="394.1" y2="792.9" stroke="#555" stroke-width="0.5"/>
<line x1="392.9" y1="791.9" x2="392.9" y2="795.7" stroke="#999" stroke-width="0.4"/>
<line x1="476.3" y1="795.6" x2="478.7" y2="793.2" stroke="#777" stroke-width="0.5"/>
<line x1="477.5" y1="792.2" x2="477.5" y2="796" stroke="#999" stroke-width="0.4"/>
<line x1="368.4" y1="807.4" x2="370.8" y2="805" stroke="#777" stroke-width="0.5"/>
<line x1="369.6" y1="804" x2="369.6" y2="807.8" stroke="#999" stroke-width="0.4"/>
<line x1="391.8" y1="807.5" x2="394.2" y2="805.1" stroke="#555" stroke-width="0.5"/>
<line x1="393" y1="804.1" x2="393" y2="807.9" stroke="#999" stroke-width="0.4"/>
<line x1="476.4" y1="807.8" x2="478.8" y2="805.4" stroke="#777" stroke-width="0.5"/>
<line x1="477.6" y1="804.4" x2="477.6" y2="808.2" stroke="#999" stroke-width="0.4"/>
<line x1="368.4" y1="819.4" x2="370.8" y2="817" stroke="#777" stroke-width="0.5"/>
<line x1="369.6" y1="816" x2="369.6" y2="819.8" stroke="#999" stroke-width="0.4"/>
<line x1="391.8" y1="819.5" x2="394.2" y2="817.1" stroke="#555" stroke-width="0.5"/>
<line x1="393" y1="816.1" x2="393" y2="819.9" stroke="#999" stroke-width="0.4"/>
<line x1="476.4" y1="819.8" x2="478.8" y2="817.4" stroke="#777" stroke-width="0.5"/>
<line x1="477.6" y1="816.4" x2="477.6" y2="820.2" stroke="#999" stroke-width="0.4"/>
<line x1="268.2" y1="749.4" x2="270.6" y2="747" stroke="#777" stroke-width="0.5"/>
<line x1="269.4" y1="746" x2="269.4" y2="749.8" stroke="#999" stroke-width="0.4"/>
<line x1="268.2" y1="761" x2="270.6" y2="758.6" stroke="#777" stroke-width="0.5"/>
<line x1="269.4" y1="757.6" x2="269.4" y2="761.4" stroke="#999" stroke-width="0.4"/>
<line x1="268.2" y1="772.4" x2="270.6" y2="770" stroke="#777" stroke-width="0.5"/>
<line x1="269.4" y1="769" x2="269.4" y2="772.8" stroke="#999" stroke-width="0.4"/>
<line x1="242.5" y1="738.5" x2="244.9" y2="736.1" stroke="#777" stroke-width="0.5"/>
<line x1="243.7" y1="735.1" x2="243.7" y2="738.9" stroke="#999" stroke-width="0.4"/>
<line x1="242.7" y1="783.5" x2="245.1" y2="781.1" stroke="#777" stroke-width="0.5"/>
<line x1="243.9" y1="780.1" x2="243.9" y2="783.9" stroke="#999" stroke-width="0.4"/>
<line x1="246.1" y1="795.5" x2="248.5" y2="793" stroke="#555" stroke-width="0.5"/>
<line x1="247.3" y1="792" x2="247.3" y2="795.8" stroke="#999" stroke-width="0.4"/>
<line x1="479.1" y1="738.6" x2="481.5" y2="736.2" stroke="#777" stroke-width="0.5"/>
<line x1="480.3" y1="735.2" x2="480.3" y2="739" stroke="#999" stroke-width="0.4"/>
<line x1="391.5" y1="738.3" x2="393.9" y2="735.9" stroke="#777" stroke-width="0.5"/>
<line x1="392.7" y1="734.9" x2="392.7" y2="738.7" stroke="#999" stroke-width="0.4"/>
<line x1="355.1" y1="738.1" x2="357.5" y2="735.7" stroke="#777" stroke-width="0.5"/>
<line x1="356.3" y1="734.7" x2="356.3" y2="738.5" stroke="#999" stroke-width="0.4"/>
<line x1="404.3" y1="783.7" x2="406.7" y2="781.3" stroke="#555" stroke-width="0.5"/>
<line x1="405.5" y1="780.3" x2="405.5" y2="784.1" stroke="#999" stroke-width="0.4"/>
<line x1="421.7" y1="795.4" x2="424.1" y2="793" stroke="#555" stroke-width="0.5"/>
<line x1="422.9" y1="792" x2="422.9" y2="795.8" stroke="#999" stroke-width="0.4"/>
<line x1="396.2" y1="807.5" x2="398.6" y2="805.1" stroke="#555" stroke-width="0.5"/>
<line x1="397.4" y1="804.1" x2="397.4" y2="807.9" stroke="#999" stroke-width="0.4"/>
<line x1="396.2" y1="819.5" x2="398.6" y2="817.1" stroke="#555" stroke-width="0.5"/>
<line x1="397.4" y1="816.1" x2="397.4" y2="819.9" stroke="#999" stroke-width="0.4"/>
<line x1="319.6" y1="761" x2="322" y2="758.6" stroke="#777" stroke-width="0.5"/>
<line x1="320.8" y1="757.6" x2="320.8" y2="761.4" stroke="#999" stroke-width="0.4"/>
<line x1="285.2" y1="761.1" x2="287.6" y2="758.7" stroke="#777" stroke-width="0.5"/>
<line x1="286.4" y1="757.7" x2="286.4" y2="761.5" stroke="#999" stroke-width="0.4"/>
<line x1="302.6" y1="761.1" x2="305" y2="758.6" stroke="#777" stroke-width="0.5"/>
<line x1="303.8" y1="757.6" x2="303.8" y2="761.4" stroke="#999" stroke-width="0.4"/>
</g><g transform="rotate(0.3 375.0 530.0)">
<text x="111.9" y="125" font-size="4.514" fill="#444" font-weight="bold" textLength="20" lengthAdjust="spacingAndGlyphs">INTERNAL</text>
<text x="175.9" y="124.7" font-size="4.514" fill="#444" font-weight="bold" textLength="20.6" lengthAdjust="spacingAndGlyphs">EXTERNAL</text>
<text x="189.9" y="135.8" font-size="4.026" fill="#444" font-weight="bold" textLength="14" lengthAdjust="spacingAndGlyphs">ALCORE</text>
<text x="187.5" y="140.8" font-size="4.026" fill="#444" font-weight="bold" textLength="16.5" lengthAdjust="spacingAndGlyphs">FLASHING</text>
<text x="189.8" y="163.2" font-size="4.026" fill="#444" font-weight="bold" textLength="14.3" lengthAdjust="spacingAndGlyphs">WIRE TIE</text>
<text x="175.9" y="168.4" font-size="4.026" fill="#444" font-weight="bold" textLength="28.2" lengthAdjust="spacingAndGlyphs">(EVERY COURSE)</text>
<text x="172" y="176.3" font-size="4.026" fill="#444" font-weight="bold" textLength="32.1" lengthAdjust="spacingAndGlyphs">350 x 100 ATTACHED</text>
<text x="175.5" y="181" font-size="4.026" fill="#444" font-weight="bold" textLength="28.7" lengthAdjust="spacingAndGlyphs">FACE BRICK PIER</text>
<text x="113.9" y="174" font-size="4.514" fill="#444" font-weight="bold" textLength="17.2" lengthAdjust="spacingAndGlyphs">GARAGE</text>
<text x="101.1" y="198.3" font-size="8" fill="#444" class="hv" textLength="106.6" lengthAdjust="spacingAndGlyphs">TYPICAL CAVITY CLOSER DETAIL</text>
<line x1="101.1" y1="199.6" x2="207.7" y2="199.6" stroke="#444" stroke-width="0.6"/>
<text x="117.6" y="208.9" font-size="8" fill="#444" class="hv" textLength="73.7" lengthAdjust="spacingAndGlyphs">(2c FACE BRICKWORK)</text>
<line x1="117.6" y1="210.3" x2="191.3" y2="210.3" stroke="#444" stroke-width="0.6"/>
<text x="146.2" y="214.6" font-size="3.66" fill="#444" font-weight="bold" textLength="17.3" lengthAdjust="spacingAndGlyphs">SCALE 1:20</text>
<line x1="98" y1="146.3" x2="212.6" y2="146.3" stroke="#c4c4c4" stroke-width="0.4"/>
<line x1="110.9" y1="146.4" x2="110.9" y2="154.4" stroke="#bbb" stroke-width="0.5"/>
<line x1="197.5" y1="145.9" x2="197.5" y2="153.9" stroke="#bbb" stroke-width="0.5"/>
<line x1="143.1" y1="113.2" x2="143.1" y2="156.2" stroke="#ccc" stroke-width="0.4"/>
<line x1="166.5" y1="113.1" x2="166.5" y2="143.1" stroke="#ccc" stroke-width="0.4"/>
<line x1="211.5" y1="115.9" x2="211.5" y2="183.9" stroke="#ccc" stroke-width="0.4"/>
<line x1="143.2" y1="123.5" x2="166.6" y2="123.5" stroke="#ccc" stroke-width="0.4" stroke-dasharray="4 2"/>
<path d="M158.4,143.7 v16.5 a3.9,3.9 0 0 0 7.8,0 v-16.5" fill="none" stroke="#444" stroke-width="1.3"/>
<path d="M159.9,144.1 v16 a2.4,2.4 0 0 0 4.8,0 v-16" fill="none" stroke="#888" stroke-width="0.5"/>
<line x1="153.7" y1="140" x2="153.7" y2="155.6" stroke="#444" stroke-width="0.9" stroke-dasharray="2 1"/>
<line x1="136.3" y1="155.6" x2="153.7" y2="155.6" stroke="#555" stroke-width="0.9" stroke-dasharray="2 1"/>
<line x1="147.6" y1="155.6" x2="153.7" y2="147.8" stroke="#555" stroke-width="0.7" stroke-dasharray="2 1"/>
<line x1="161.7" y1="165.7" x2="161.7" y2="171.7" stroke="#666" stroke-width="0.5"/>
<line x1="166.9" y1="161.7" x2="170.1" y2="161.7" stroke="#666" stroke-width="0.5"/>
<line x1="153.8" y1="140" x2="156.6" y2="140" stroke="#666" stroke-width="0.5"/>
<line x1="622.5" y1="111.4" x2="645.6" y2="134.3" stroke="#2a2a2a" stroke-width="3.0"/>
<line x1="622.6" y1="134.4" x2="645.5" y2="111.3" stroke="#2a2a2a" stroke-width="3.0"/>
<polygon points="621.6,107.1 646.4,107 641.4,112.2 626.6,112.3" fill="#2a2a2a"/>
<circle cx="634" cy="108" r="5.9" fill="#fff" stroke="#2a2a2a" stroke-width="1.0"/>
<text x="634" y="110.9" font-size="8" text-anchor="middle" fill="#2a2a2a" font-weight="bold">3</text>
<polygon points="618.2,110.5 618.3,135.3 623.5,130.3 623.4,115.5" fill="#2a2a2a"/>
<circle cx="619.3" cy="122.9" r="5.9" fill="#fff" stroke="#2a2a2a" stroke-width="1.0"/>
<text x="619.3" y="125.8" font-size="8" text-anchor="middle" fill="#2a2a2a" font-weight="bold">2</text>
<polygon points="649.8,110.4 649.9,135.2 644.7,130.2 644.6,115.4" fill="#2a2a2a"/>
<circle cx="648.9" cy="122.8" r="5.9" fill="#fff" stroke="#2a2a2a" stroke-width="1.0"/>
<text x="648.9" y="125.7" font-size="8" text-anchor="middle" fill="#2a2a2a" font-weight="bold">4</text>
<polygon points="621.8,138.7 646.6,138.6 641.5,133.4 626.7,133.5" fill="#2a2a2a"/>
<circle cx="634.1" cy="137.6" r="5.9" fill="#fff" stroke="#2a2a2a" stroke-width="1.0"/>
<text x="634.2" y="140.5" font-size="8" text-anchor="middle" fill="#2a2a2a" font-weight="bold">1</text>
<circle cx="633.7" cy="175" r="18.4" fill="none" stroke="#555" stroke-width="1.8" stroke-dasharray="0.8 2.4 0.5 1.8 1.1 3"/>
<circle cx="633.7" cy="175" r="15.4" fill="none" stroke="#c8d4cc" stroke-width="0.5"/>
<circle cx="633.7" cy="175" r="12.6" fill="none" stroke="#d4dcd6" stroke-width="0.4"/>
<polygon points="633.7,161.6 646.2,177.6 621.4,177.7" fill="none" stroke="#b4c8ba" stroke-width="0.6"/>
<line x1="633.7" y1="161.6" x2="633.7" y2="177.6" stroke="#a8c4b0" stroke-width="0.6"/>
<rect x="621.4" y="177.5" width="24.8" height="8.4" fill="#fff"/>
<text x="634" y="184.2" font-size="6.6" text-anchor="middle" fill="#2e2e2e" font-weight="bold" textLength="23.6" lengthAdjust="spacingAndGlyphs">NORTH</text>
<circle cx="617.8" cy="194.3" r="1.5" fill="none" stroke="#333" stroke-width="0.8"/>
<circle cx="649.8" cy="194.4" r="1.6" fill="none" stroke="#333" stroke-width="1.2"/>
<text x="633.4" y="154.2" font-size="3" text-anchor="middle" fill="#555" font-weight="bold">N</text>
<circle cx="653.4" cy="145.9" r="0.5" fill="#888"/>
<text x="584.8" y="729.9" font-size="5.734" fill="#444" font-weight="bold" textLength="50.1" lengthAdjust="spacingAndGlyphs">BUSH FIRE NOTE:</text>
<line x1="584.9" y1="731.1" x2="635" y2="731.1" stroke="#444" stroke-width="0.55"/>
<text x="572.9" y="736.4" font-size="4.88" fill="#444" font-weight="bold" textLength="74.4" lengthAdjust="spacingAndGlyphs">BLOCK IS LOCATED IN A BUSH FIRE</text>
<text x="583.3" y="742.4" font-size="4.88" fill="#444" font-weight="bold" textLength="52.8" lengthAdjust="spacingAndGlyphs">PRONE ZONE. BUSH FIRE</text>
<text x="584.1" y="748.4" font-size="4.88" fill="#444" font-weight="bold" textLength="51.5" lengthAdjust="spacingAndGlyphs">REQUIREMENTS MAY BE</text>
<text x="576.2" y="754.3" font-size="4.88" fill="#444" font-weight="bold" textLength="67.7" lengthAdjust="spacingAndGlyphs">APPLICABLE SUBJECT TO BUSH</text>
<text x="595.4" y="760.3" font-size="4.88" fill="#444" font-weight="bold" textLength="28.8" lengthAdjust="spacingAndGlyphs">FIRE REPORT</text>
<line x1="649.4" y1="737.6" x2="649.4" y2="762.6" stroke="#aaa" stroke-width="0.4"/>
<line x1="593.8" y1="763.1" x2="649.5" y2="763.1" stroke="#bbb" stroke-width="0.4"/>
<rect x="580" y="770.2" width="64" height="36.2" fill="none" stroke="#c4c4c4" stroke-width="0.4"/>
<circle cx="584.3" cy="773.5" r="1.7" fill="none" stroke="#444" stroke-width="0.6"/>
<circle cx="584.3" cy="773.5" r="0.6" fill="#444"/>
<circle cx="584.3" cy="779.7" r="1.8" fill="none" stroke="#333" stroke-width="1.1"/>
<polyline points="583.3,783.7 583.4,788.3 586,788.3 583.3,785.9" fill="none" stroke="#333" stroke-width="0.7"/>
<polyline points="583.4,790.5 583.4,795.1 586,795.1 583.4,792.7" fill="none" stroke="#333" stroke-width="0.7"/>
<line x1="582" y1="800.5" x2="585.4" y2="800.5" stroke="#444" stroke-width="0.6"/>
<line x1="582" y1="800.5" x2="581" y2="802.3" stroke="#444" stroke-width="0.5"/>
<text x="589.1" y="775.1" font-size="4.27" fill="#444" font-weight="bold" textLength="54.4" lengthAdjust="spacingAndGlyphs">H.WIRED SMOKE DETECTOR</text>
<text x="589.1" y="781.5" font-size="4.27" fill="#444" font-weight="bold" textLength="43.2" lengthAdjust="spacingAndGlyphs">EXHAUST FAN FLUMED</text>
<text x="589.2" y="788.9" font-size="4.27" fill="#444" font-weight="bold" textLength="26.7" lengthAdjust="spacingAndGlyphs">GAS BAYONET</text>
<text x="589.2" y="795.6" font-size="4.27" fill="#444" font-weight="bold" textLength="48" lengthAdjust="spacingAndGlyphs">GAS CONNECTION POINT</text>
<text x="589.2" y="802.8" font-size="4.27" fill="#444" font-weight="bold" textLength="27.2" lengthAdjust="spacingAndGlyphs">FLOOR WASTE</text>
<line x1="594.1" y1="809.5" x2="619.5" y2="809.5" stroke="#bbb" stroke-width="0.4"/>
<text x="594.4" y="815.3" font-size="5.734" fill="#444" font-weight="bold" textLength="36" lengthAdjust="spacingAndGlyphs">RENDER NOTE:</text>
<line x1="594.4" y1="816.5" x2="630.4" y2="816.5" stroke="#444" stroke-width="0.55"/>
<text x="565.3" y="822.6" font-size="3.904" fill="#444" font-weight="bold" textLength="76.8" lengthAdjust="spacingAndGlyphs">- PROVIDE RENDER TO FRONT ELEVATION ONLY.</text>
<text x="566.6" y="828.1" font-size="3.904" fill="#444" font-weight="bold" textLength="82.8" lengthAdjust="spacingAndGlyphs">REMAINDER OF HOUSE TO BE 2c FACE BRICKWORK.</text>
<text x="566.6" y="833.8" font-size="3.904" fill="#444" font-weight="bold" textLength="55.6" lengthAdjust="spacingAndGlyphs">EXTENTS SHOWN ON ELEVATIONS.</text>
<text x="581.9" y="841.7" font-size="5.734" fill="#444" font-weight="bold" textLength="58.7" lengthAdjust="spacingAndGlyphs">AIRCONDITIONING NOTE:</text>
<line x1="563.6" y1="843.9" x2="652.6" y2="843.9" stroke="#444" stroke-width="0.55"/>
<text x="570.3" y="848.5" font-size="3.904" fill="#444" font-weight="bold" textLength="87.2" lengthAdjust="spacingAndGlyphs">DUCTED REVERSE CYCLE AIR-CONDITIONING FROM</text>
<text x="564.7" y="853.8" font-size="3.904" fill="#444" font-weight="bold" textLength="88.8" lengthAdjust="spacingAndGlyphs">BUILDERS STANDARD RANGE INCLUDED IN CONTRACT.</text>
<text x="579.1" y="859.6" font-size="3.904" fill="#444" font-weight="bold" textLength="64.8" lengthAdjust="spacingAndGlyphs">BE INSTALLED AS PER MANUFACTURERS</text>
<text x="594.1" y="864.7" font-size="3.904" fill="#444" font-weight="bold" textLength="33.9" lengthAdjust="spacingAndGlyphs">RECOMMENDATIONS.</text>
<line x1="563" y1="844.4" x2="563" y2="866" stroke="#bbb" stroke-width="0.4"/>
</g><g transform="rotate(0.2 375.0 530.0)">
<circle cx="235.8" cy="261.8" r="6" fill="none" stroke="#444" stroke-width="0.8"/>
<line x1="229.8" y1="261.8" x2="241.8" y2="261.8" stroke="#444" stroke-width="0.5"/>
<polyline points="230.4,258.5 235.7,253.1 241.2,258.5" fill="none" stroke="#444" stroke-width="0.8"/>
<text x="235.8" y="260.9" font-size="4.32" text-anchor="middle" fill="#333" font-weight="bold">P3</text>
<text x="235.8" y="266.1" font-size="4.32" text-anchor="middle" fill="#333" font-weight="bold">3</text>
<line x1="242.1" y1="262.3" x2="261.5" y2="262.3" stroke="#777" stroke-width="0.5"/>
<line x1="261.5" y1="258.4" x2="261.5" y2="265.8" stroke="#666" stroke-width="0.5"/>
<circle cx="233.8" cy="419.3" r="7" fill="none" stroke="#444" stroke-width="0.8"/>
<line x1="226.8" y1="419.3" x2="240.8" y2="419.3" stroke="#444" stroke-width="0.5"/>
<polyline points="227.5,415.5 233.8,409.1 240.1,415.4" fill="none" stroke="#444" stroke-width="0.8"/>
<polygon points="226.8,417.7 223.4,419.3 226.8,420.9" fill="#444" stroke="#444" stroke-width="0.4"/>
<polygon points="240.8,417.7 244.2,419.3 240.8,420.9" fill="#444" stroke="#444" stroke-width="0.4"/>
<text x="233.8" y="418.4" font-size="5.04" text-anchor="middle" fill="#333" font-weight="bold">A</text>
<text x="233.8" y="424.3" font-size="5.04" text-anchor="middle" fill="#333" font-weight="bold">3</text>
<circle cx="218.6" cy="621.8" r="5.8" fill="none" stroke="#444" stroke-width="0.8"/>
<line x1="212.8" y1="621.9" x2="224.4" y2="621.9" stroke="#444" stroke-width="0.5"/>
<polyline points="213.4,618.7 218.6,613.4 223.8,618.6" fill="none" stroke="#444" stroke-width="0.8"/>
<text x="218.6" y="620.9" font-size="4.176" text-anchor="middle" fill="#333" font-weight="bold">D2</text>
<text x="218.6" y="626" font-size="4.176" text-anchor="middle" fill="#333" font-weight="bold">3</text>
<line x1="224.3" y1="622.3" x2="240.1" y2="622.3" stroke="#aaa" stroke-width="0.4"/>
<text x="225.6" y="319.3" font-size="4.026" fill="#444" font-weight="bold" textLength="28.5" lengthAdjust="spacingAndGlyphs">4 x 450d SHELVES</text>
<text x="231.1" y="324.8" font-size="4.026" fill="#444" font-weight="bold" textLength="17.2" lengthAdjust="spacingAndGlyphs">@ 450 CTS</text>
<text x="222.1" y="400.3" font-size="4.026" fill="#444" font-weight="bold" textLength="25.1" lengthAdjust="spacingAndGlyphs">1 x 450d x 600w</text>
<text x="218.5" y="405.8" font-size="4.026" fill="#444" font-weight="bold" textLength="30.7" lengthAdjust="spacingAndGlyphs">SHELF @ 1700 AFL</text>
<line x1="250" y1="403.8" x2="269.6" y2="403.8" stroke="#777" stroke-width="0.5" stroke-dasharray="3 1.6"/>
<text x="257.5" y="384.2" font-size="3.904" text-anchor="middle" fill="#444" font-weight="bold" transform="rotate(-90 257.5 384.2)" textLength="19" lengthAdjust="spacingAndGlyphs">EAVE @ 27c</text>
<line x1="259.6" y1="364.4" x2="259.6" y2="391" stroke="#666" stroke-width="0.6"/>
<text x="266.6" y="425.4" font-size="3.782" text-anchor="middle" fill="#444" font-weight="bold" transform="rotate(-90 266.6 425.4)" textLength="21" lengthAdjust="spacingAndGlyphs">33V-8/18 SD</text>
<text x="268.6" y="465.1" font-size="3.66" text-anchor="middle" fill="#444" font-weight="bold" transform="rotate(-90 268.6 465.1)" textLength="14" lengthAdjust="spacingAndGlyphs">18x7/12</text>
<text x="230.4" y="474.5" font-size="4.026" fill="#444" font-weight="bold" textLength="16.4" lengthAdjust="spacingAndGlyphs">SP/WHORL</text>
<text x="235.3" y="479.4" font-size="4.026" fill="#444" font-weight="bold" textLength="5.9" lengthAdjust="spacingAndGlyphs">END</text>
<polyline points="242.2,477.5 261.8,477.4 261.9,488.4 264.9,488.4 264.8,478.4" fill="none" stroke="#3a3a3a" stroke-width="0.8"/>
<text x="227.9" y="501.5" font-size="4.026" fill="#444" font-weight="bold" textLength="21.3" lengthAdjust="spacingAndGlyphs">FASCIA @ 33c</text>
<text x="240.6" y="514.2" font-size="3.66" fill="#444" font-weight="bold" textLength="8" lengthAdjust="spacingAndGlyphs">R/WP</text>
<polyline points="248,516.4 261.9,510.4 269,517.4" fill="none" stroke="#888" stroke-width="0.5"/>
<circle cx="262.4" cy="516" r="0.9" fill="#444"/>
<text x="213.2" y="634.5" font-size="3.904" fill="#444" font-weight="bold" textLength="18.4" lengthAdjust="spacingAndGlyphs">EXTENT OF</text>
<text x="215" y="639.4" font-size="3.904" fill="#444" font-weight="bold" textLength="14.4" lengthAdjust="spacingAndGlyphs">RENDER</text>
<polygon points="223,644.5 230.4,644.5 226.7,651.2" fill="none" stroke="#444" stroke-width="0.8"/>
<line x1="222.4" y1="644.5" x2="244.4" y2="644.5" stroke="#888" stroke-width="0.5"/>
<line x1="206.3" y1="432.2" x2="206.3" y2="453.6" stroke="#777" stroke-width="0.5"/>
<circle cx="517.8" cy="420.3" r="7" fill="none" stroke="#444" stroke-width="0.8"/>
<line x1="510.8" y1="420.3" x2="524.8" y2="420.3" stroke="#444" stroke-width="0.5"/>
<polyline points="511.5,416.5 517.8,410.2 524.1,416.4" fill="none" stroke="#444" stroke-width="0.8"/>
<polygon points="510.8,418.7 507.4,420.3 510.8,421.9" fill="#444" stroke="#444" stroke-width="0.4"/>
<polygon points="524.8,418.7 528.2,420.3 524.8,421.9" fill="#444" stroke="#444" stroke-width="0.4"/>
<text x="517.8" y="419.4" font-size="5.04" text-anchor="middle" fill="#333" font-weight="bold">4</text>
<text x="517.8" y="425.3" font-size="5.04" text-anchor="middle" fill="#333" font-weight="bold">3</text>
<circle cx="510.5" cy="660.6" r="5.8" fill="none" stroke="#444" stroke-width="0.8"/>
<line x1="504.7" y1="660.6" x2="516.3" y2="660.6" stroke="#444" stroke-width="0.5"/>
<polyline points="505.2,657.5 510.4,652.2 515.7,657.4" fill="none" stroke="#444" stroke-width="0.8"/>
<text x="510.5" y="659.7" font-size="4.176" text-anchor="middle" fill="#333" font-weight="bold">D4</text>
<text x="510.5" y="664.8" font-size="4.176" text-anchor="middle" fill="#333" font-weight="bold">3</text>
<line x1="492.1" y1="660.9" x2="505.5" y2="660.9" stroke="#666" stroke-width="0.5"/>
<text x="486" y="425.3" font-size="3.66" text-anchor="middle" fill="#444" font-weight="bold" transform="rotate(-90 486 425.3)" textLength="16" lengthAdjust="spacingAndGlyphs">18x14/10</text>
<text x="498.3" y="436.3" font-size="3.904" text-anchor="middle" fill="#444" font-weight="bold" transform="rotate(-90 498.3 436.3)" textLength="19" lengthAdjust="spacingAndGlyphs">EAVE @ 27c</text>
<text x="486.2" y="465.1" font-size="3.66" text-anchor="middle" fill="#444" font-weight="bold" transform="rotate(-90 486.2 465.1)" textLength="14" lengthAdjust="spacingAndGlyphs">6x7/10 T</text>
<text x="492.4" y="465.6" font-size="3.66" text-anchor="middle" fill="#444" font-weight="bold" transform="rotate(-90 492.4 465.6)" textLength="7" lengthAdjust="spacingAndGlyphs">OBS</text>
<text x="486.3" y="497" font-size="3.66" text-anchor="middle" fill="#444" font-weight="bold" transform="rotate(-90 486.3 497)" textLength="14" lengthAdjust="spacingAndGlyphs">18x7/10</text>
<text x="492.5" y="498.2" font-size="3.66" text-anchor="middle" fill="#444" font-weight="bold" transform="rotate(-90 492.5 498.2)" textLength="7" lengthAdjust="spacingAndGlyphs">OBS</text>
<text x="487.9" y="518.5" font-size="3.904" fill="#444" font-weight="bold" textLength="15.3" lengthAdjust="spacingAndGlyphs">INSTANT</text>
<text x="487" y="523.4" font-size="3.904" fill="#444" font-weight="bold" textLength="17" lengthAdjust="spacingAndGlyphs">GAS HWS</text>
<text x="484.6" y="528.8" font-size="3.66" fill="#444" font-weight="bold" textLength="7.4" lengthAdjust="spacingAndGlyphs">R/WP</text>
<text x="486.5" y="549.6" font-size="3.66" text-anchor="middle" fill="#444" font-weight="bold" transform="rotate(-90 486.5 549.6)" textLength="16" lengthAdjust="spacingAndGlyphs">18x14/10</text>
<text x="485.5" y="606.6" font-size="3.66" text-anchor="middle" fill="#444" font-weight="bold" transform="rotate(-90 485.5 606.6)" textLength="16" lengthAdjust="spacingAndGlyphs">16x10/6 A</text>
<text x="492.1" y="606.6" font-size="3.66" text-anchor="middle" fill="#444" font-weight="bold" transform="rotate(-90 492.1 606.6)" textLength="4.4" lengthAdjust="spacingAndGlyphs">36</text>
<line x1="488.8" y1="599.6" x2="488.8" y2="615.6" stroke="#777" stroke-width="0.5"/>
<polyline points="488.8,616.6 488.8,624.6 499.8,624.6" fill="none" stroke="#3a3a3a" stroke-width="0.8"/>
<text x="498.6" y="623.3" font-size="4.026" fill="#444" font-weight="bold" textLength="17.7" lengthAdjust="spacingAndGlyphs">SP/WHORL</text>
<text x="504.1" y="627.8" font-size="4.026" fill="#444" font-weight="bold" textLength="6.8" lengthAdjust="spacingAndGlyphs">END</text>
<text x="486.4" y="631.9" font-size="3.904" fill="#444" font-weight="bold" textLength="7.4" lengthAdjust="spacingAndGlyphs">POD</text>
<text x="496.9" y="644.2" font-size="4.026" fill="#444" font-weight="bold" textLength="22" lengthAdjust="spacingAndGlyphs">FASCIA @ 33c</text>
<text x="486.2" y="652.1" font-size="3.66" text-anchor="middle" fill="#444" font-weight="bold" transform="rotate(-90 486.2 652.1)" textLength="15" lengthAdjust="spacingAndGlyphs">6x20/10</text>
<text x="484.7" y="681" font-size="3.904" fill="#444" font-weight="bold" textLength="13.5" lengthAdjust="spacingAndGlyphs">COMBO</text>
<text x="485.5" y="685.9" font-size="3.904" fill="#444" font-weight="bold" textLength="12" lengthAdjust="spacingAndGlyphs">W/BOX</text>
<text x="501.9" y="681" font-size="3.904" fill="#444" font-weight="bold" textLength="18.4" lengthAdjust="spacingAndGlyphs">EXTENT OF</text>
<text x="504.3" y="685.8" font-size="3.904" fill="#444" font-weight="bold" textLength="14.2" lengthAdjust="spacingAndGlyphs">RENDER</text>
<polygon points="503.8,689.6 511.2,689.5 507.5,696.2" fill="none" stroke="#444" stroke-width="0.8"/>
<line x1="486" y1="689.8" x2="503.6" y2="689.8" stroke="#777" stroke-width="0.5"/>
<text x="485.4" y="692.6" font-size="3.416" fill="#444" font-weight="bold" textLength="6.8" lengthAdjust="spacingAndGlyphs">R/WP</text>
<text x="489.1" y="703.6" font-size="4.026" fill="#444" font-weight="bold" textLength="21.5" lengthAdjust="spacingAndGlyphs">FASCIA @ 33c</text>
<polyline points="480.6,696.6 480.6,702.6 487.6,702.6" fill="none" stroke="#777" stroke-width="0.5"/>
</g></g>
</svg>
</body></html>
